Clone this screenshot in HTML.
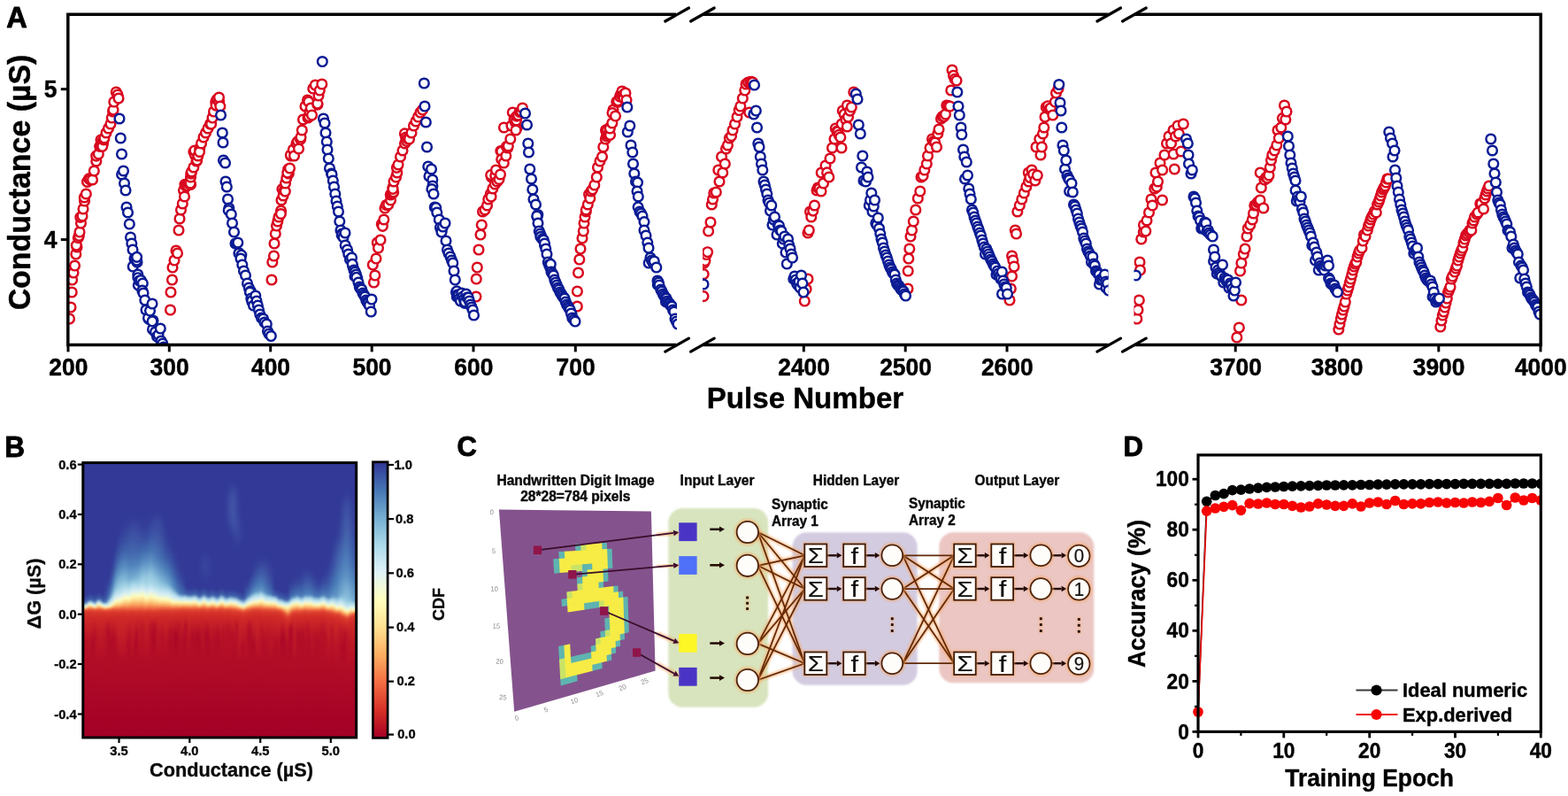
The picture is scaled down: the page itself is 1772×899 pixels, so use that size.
<!DOCTYPE html>
<html lang="en">
<head>
<meta charset="utf-8">
<title>Figure: synaptic conductance and neural network accuracy</title>
<style>
html,body{margin:0;padding:0;background:#fff;}
body{width:1772px;height:899px;overflow:hidden;font-family:"Liberation Sans",Arial,sans-serif;}
svg{display:block;}
</style>
</head>
<body>
<svg width="1772" height="899" viewBox="0 0 1772 899">
<rect width="1772" height="899" fill="#ffffff"/>
<g id="panel-a">
<defs><clipPath id="ca1"><rect x="75" y="10" width="690" height="380.5"/></clipPath><clipPath id="ca2"><rect x="794" y="10" width="458.5" height="380.5"/></clipPath><clipPath id="ca3"><rect x="1281.5" y="10" width="461" height="380.5"/></clipPath></defs>
<g clip-path="url(#ca1)" fill="#fff" stroke-width="2.45">
<g stroke="#d9081f">
<circle cx="78.5" cy="360.0" r="5.35"/>
<circle cx="80.0" cy="347.0" r="5.35"/>
<circle cx="81.2" cy="330.0" r="5.35"/>
<circle cx="81.6" cy="316.0" r="5.35"/>
<circle cx="83.0" cy="308.0" r="5.35"/>
<circle cx="84.5" cy="300.0" r="5.35"/>
<circle cx="85.8" cy="287.0" r="5.35"/>
<circle cx="87.0" cy="279.0" r="5.35"/>
<circle cx="86.3" cy="277.1" r="5.35"/>
<circle cx="88.4" cy="268.7" r="5.35"/>
<circle cx="89.3" cy="266.3" r="5.35"/>
<circle cx="90.0" cy="262.0" r="5.35"/>
<circle cx="91.5" cy="252.0" r="5.35"/>
<circle cx="90.8" cy="245.4" r="5.35"/>
<circle cx="93.0" cy="244.0" r="5.35"/>
<circle cx="94.0" cy="236.0" r="5.35"/>
<circle cx="95.5" cy="227.0" r="5.35"/>
<circle cx="95.3" cy="223.0" r="5.35"/>
<circle cx="97.3" cy="219.0" r="5.35"/>
<circle cx="98.8" cy="205.0" r="5.35"/>
<circle cx="98.6" cy="205.4" r="5.35"/>
<circle cx="100.5" cy="201.8" r="5.35"/>
<circle cx="102.0" cy="203.0" r="5.35"/>
<circle cx="104.5" cy="203.0" r="5.35"/>
<circle cx="106.3" cy="193.0" r="5.35"/>
<circle cx="108.8" cy="182.0" r="5.35"/>
<circle cx="108.7" cy="176.1" r="5.35"/>
<circle cx="111.3" cy="174.0" r="5.35"/>
<circle cx="112.7" cy="165.3" r="5.35"/>
<circle cx="114.0" cy="158.0" r="5.35"/>
<circle cx="113.9" cy="163.6" r="5.35"/>
<circle cx="115.3" cy="160.7" r="5.35"/>
<circle cx="116.5" cy="162.0" r="5.35"/>
<circle cx="115.7" cy="165.3" r="5.35"/>
<circle cx="117.2" cy="157.8" r="5.35"/>
<circle cx="117.9" cy="156.0" r="5.35"/>
<circle cx="120.0" cy="150.0" r="5.35"/>
<circle cx="122.5" cy="145.0" r="5.35"/>
<circle cx="125.0" cy="140.0" r="5.35"/>
<circle cx="126.3" cy="133.0" r="5.35"/>
<circle cx="127.6" cy="126.0" r="5.35"/>
<circle cx="128.0" cy="124.2" r="5.35"/>
<circle cx="128.8" cy="115.0" r="5.35"/>
<circle cx="131.3" cy="104.0" r="5.35"/>
<circle cx="133.0" cy="107.0" r="5.35"/>
<circle cx="134.0" cy="111.0" r="5.35"/>
<circle cx="192.5" cy="350.0" r="5.35"/>
<circle cx="193.0" cy="330.0" r="5.35"/>
<circle cx="194.5" cy="316.0" r="5.35"/>
<circle cx="195.0" cy="302.0" r="5.35"/>
<circle cx="197.0" cy="294.0" r="5.35"/>
<circle cx="199.0" cy="283.0" r="5.35"/>
<circle cx="200.5" cy="286.0" r="5.35"/>
<circle cx="202.0" cy="260.0" r="5.35"/>
<circle cx="203.0" cy="247.0" r="5.35"/>
<circle cx="204.5" cy="237.0" r="5.35"/>
<circle cx="206.3" cy="230.0" r="5.35"/>
<circle cx="207.5" cy="215.0" r="5.35"/>
<circle cx="208.5" cy="222.0" r="5.35"/>
<circle cx="208.9" cy="208.3" r="5.35"/>
<circle cx="210.0" cy="210.0" r="5.35"/>
<circle cx="211.8" cy="209.7" r="5.35"/>
<circle cx="213.0" cy="207.0" r="5.35"/>
<circle cx="215.6" cy="208.4" r="5.35"/>
<circle cx="215.1" cy="207.0" r="5.35"/>
<circle cx="215.5" cy="200.0" r="5.35"/>
<circle cx="215.8" cy="196.2" r="5.35"/>
<circle cx="216.5" cy="194.0" r="5.35"/>
<circle cx="218.8" cy="189.0" r="5.35"/>
<circle cx="218.9" cy="171.5" r="5.35"/>
<circle cx="220.5" cy="175.3" r="5.35"/>
<circle cx="220.0" cy="170.0" r="5.35"/>
<circle cx="222.0" cy="182.0" r="5.35"/>
<circle cx="222.6" cy="181.2" r="5.35"/>
<circle cx="223.8" cy="176.0" r="5.35"/>
<circle cx="225.7" cy="167.6" r="5.35"/>
<circle cx="225.5" cy="171.5" r="5.35"/>
<circle cx="227.5" cy="162.0" r="5.35"/>
<circle cx="230.0" cy="155.0" r="5.35"/>
<circle cx="232.5" cy="150.0" r="5.35"/>
<circle cx="235.0" cy="145.0" r="5.35"/>
<circle cx="237.5" cy="140.0" r="5.35"/>
<circle cx="238.6" cy="140.2" r="5.35"/>
<circle cx="240.0" cy="133.0" r="5.35"/>
<circle cx="241.5" cy="126.0" r="5.35"/>
<circle cx="243.8" cy="115.0" r="5.35"/>
<circle cx="244.1" cy="119.2" r="5.35"/>
<circle cx="245.3" cy="112.1" r="5.35"/>
<circle cx="247.6" cy="115.2" r="5.35"/>
<circle cx="247.5" cy="110.0" r="5.35"/>
<circle cx="248.8" cy="120.0" r="5.35"/>
<circle cx="307.0" cy="316.0" r="5.35"/>
<circle cx="307.8" cy="296.0" r="5.35"/>
<circle cx="309.5" cy="289.0" r="5.35"/>
<circle cx="310.0" cy="275.0" r="5.35"/>
<circle cx="311.3" cy="264.0" r="5.35"/>
<circle cx="312.5" cy="255.0" r="5.35"/>
<circle cx="313.8" cy="250.0" r="5.35"/>
<circle cx="315.0" cy="245.0" r="5.35"/>
<circle cx="317.5" cy="238.0" r="5.35"/>
<circle cx="317.4" cy="241.5" r="5.35"/>
<circle cx="318.0" cy="226.0" r="5.35"/>
<circle cx="320.0" cy="221.0" r="5.35"/>
<circle cx="318.9" cy="213.6" r="5.35"/>
<circle cx="321.3" cy="215.0" r="5.35"/>
<circle cx="322.3" cy="216.1" r="5.35"/>
<circle cx="322.5" cy="207.0" r="5.35"/>
<circle cx="323.8" cy="201.0" r="5.35"/>
<circle cx="326.3" cy="196.0" r="5.35"/>
<circle cx="325.7" cy="191.2" r="5.35"/>
<circle cx="324.8" cy="195.2" r="5.35"/>
<circle cx="327.5" cy="190.0" r="5.35"/>
<circle cx="328.8" cy="176.0" r="5.35"/>
<circle cx="328.4" cy="175.0" r="5.35"/>
<circle cx="331.3" cy="169.0" r="5.35"/>
<circle cx="332.5" cy="176.0" r="5.35"/>
<circle cx="335.0" cy="162.0" r="5.35"/>
<circle cx="336.4" cy="159.6" r="5.35"/>
<circle cx="337.5" cy="168.0" r="5.35"/>
<circle cx="339.6" cy="157.4" r="5.35"/>
<circle cx="340.0" cy="155.0" r="5.35"/>
<circle cx="341.3" cy="147.0" r="5.35"/>
<circle cx="342.5" cy="135.0" r="5.35"/>
<circle cx="345.0" cy="120.0" r="5.35"/>
<circle cx="347.5" cy="113.0" r="5.35"/>
<circle cx="348.7" cy="114.9" r="5.35"/>
<circle cx="348.0" cy="133.0" r="5.35"/>
<circle cx="349.1" cy="131.5" r="5.35"/>
<circle cx="349.9" cy="126.3" r="5.35"/>
<circle cx="351.3" cy="122.0" r="5.35"/>
<circle cx="352.5" cy="130.0" r="5.35"/>
<circle cx="353.8" cy="100.0" r="5.35"/>
<circle cx="356.3" cy="96.0" r="5.35"/>
<circle cx="358.9" cy="118.2" r="5.35"/>
<circle cx="358.8" cy="117.0" r="5.35"/>
<circle cx="360.0" cy="108.0" r="5.35"/>
<circle cx="361.3" cy="102.0" r="5.35"/>
<circle cx="363.8" cy="95.0" r="5.35"/>
<circle cx="421.3" cy="299.0" r="5.35"/>
<circle cx="422.5" cy="319.0" r="5.35"/>
<circle cx="423.8" cy="311.0" r="5.35"/>
<circle cx="425.0" cy="292.0" r="5.35"/>
<circle cx="426.3" cy="274.0" r="5.35"/>
<circle cx="427.5" cy="280.0" r="5.35"/>
<circle cx="430.0" cy="271.0" r="5.35"/>
<circle cx="431.3" cy="253.0" r="5.35"/>
<circle cx="432.4" cy="255.3" r="5.35"/>
<circle cx="433.8" cy="248.0" r="5.35"/>
<circle cx="435.0" cy="235.0" r="5.35"/>
<circle cx="436.6" cy="231.5" r="5.35"/>
<circle cx="438.8" cy="231.0" r="5.35"/>
<circle cx="441.5" cy="226.0" r="5.35"/>
<circle cx="441.3" cy="220.0" r="5.35"/>
<circle cx="442.1" cy="219.1" r="5.35"/>
<circle cx="443.9" cy="218.2" r="5.35"/>
<circle cx="444.6" cy="216.9" r="5.35"/>
<circle cx="443.8" cy="212.0" r="5.35"/>
<circle cx="444.0" cy="213.3" r="5.35"/>
<circle cx="445.0" cy="205.0" r="5.35"/>
<circle cx="447.5" cy="200.0" r="5.35"/>
<circle cx="448.8" cy="195.0" r="5.35"/>
<circle cx="448.4" cy="189.3" r="5.35"/>
<circle cx="450.0" cy="186.0" r="5.35"/>
<circle cx="452.5" cy="177.0" r="5.35"/>
<circle cx="455.0" cy="170.0" r="5.35"/>
<circle cx="457.5" cy="162.0" r="5.35"/>
<circle cx="458.7" cy="154.6" r="5.35"/>
<circle cx="457.4" cy="150.9" r="5.35"/>
<circle cx="458.8" cy="155.0" r="5.35"/>
<circle cx="460.7" cy="157.9" r="5.35"/>
<circle cx="459.4" cy="159.3" r="5.35"/>
<circle cx="460.6" cy="156.7" r="5.35"/>
<circle cx="462.5" cy="157.0" r="5.35"/>
<circle cx="465.0" cy="150.0" r="5.35"/>
<circle cx="467.5" cy="142.0" r="5.35"/>
<circle cx="470.0" cy="137.0" r="5.35"/>
<circle cx="472.5" cy="132.0" r="5.35"/>
<circle cx="475.0" cy="127.0" r="5.35"/>
<circle cx="477.5" cy="124.0" r="5.35"/>
<circle cx="538.0" cy="335.0" r="5.35"/>
<circle cx="538.3" cy="315.0" r="5.35"/>
<circle cx="539.3" cy="302.0" r="5.35"/>
<circle cx="541.0" cy="282.0" r="5.35"/>
<circle cx="543.0" cy="265.0" r="5.35"/>
<circle cx="544.3" cy="254.0" r="5.35"/>
<circle cx="545.5" cy="239.0" r="5.35"/>
<circle cx="548.0" cy="237.0" r="5.35"/>
<circle cx="550.5" cy="232.0" r="5.35"/>
<circle cx="551.8" cy="225.0" r="5.35"/>
<circle cx="554.3" cy="219.0" r="5.35"/>
<circle cx="555.0" cy="222.2" r="5.35"/>
<circle cx="555.5" cy="200.0" r="5.35"/>
<circle cx="554.7" cy="197.7" r="5.35"/>
<circle cx="556.8" cy="213.0" r="5.35"/>
<circle cx="559.3" cy="208.0" r="5.35"/>
<circle cx="559.8" cy="198.5" r="5.35"/>
<circle cx="560.5" cy="192.0" r="5.35"/>
<circle cx="561.8" cy="205.0" r="5.35"/>
<circle cx="564.0" cy="202.5" r="5.35"/>
<circle cx="565.5" cy="197.0" r="5.35"/>
<circle cx="565.9" cy="170.5" r="5.35"/>
<circle cx="566.8" cy="171.0" r="5.35"/>
<circle cx="566.7" cy="179.9" r="5.35"/>
<circle cx="569.3" cy="184.0" r="5.35"/>
<circle cx="569.5" cy="144.0" r="5.35"/>
<circle cx="572.3" cy="165.6" r="5.35"/>
<circle cx="571.8" cy="176.0" r="5.35"/>
<circle cx="573.6" cy="167.0" r="5.35"/>
<circle cx="574.3" cy="165.0" r="5.35"/>
<circle cx="576.8" cy="157.0" r="5.35"/>
<circle cx="578.0" cy="142.0" r="5.35"/>
<circle cx="579.3" cy="127.0" r="5.35"/>
<circle cx="581.3" cy="133.8" r="5.35"/>
<circle cx="581.1" cy="135.4" r="5.35"/>
<circle cx="582.5" cy="138.3" r="5.35"/>
<circle cx="584.1" cy="144.8" r="5.35"/>
<circle cx="583.0" cy="147.0" r="5.35"/>
<circle cx="583.5" cy="136.0" r="5.35"/>
<circle cx="584.0" cy="131.2" r="5.35"/>
<circle cx="585.5" cy="130.0" r="5.35"/>
<circle cx="587.3" cy="126.5" r="5.35"/>
<circle cx="589.1" cy="125.8" r="5.35"/>
<circle cx="590.5" cy="122.0" r="5.35"/>
<circle cx="652.3" cy="346.0" r="5.35"/>
<circle cx="652.4" cy="329.0" r="5.35"/>
<circle cx="653.5" cy="308.0" r="5.35"/>
<circle cx="654.8" cy="293.0" r="5.35"/>
<circle cx="656.0" cy="281.0" r="5.35"/>
<circle cx="658.0" cy="269.0" r="5.35"/>
<circle cx="659.3" cy="261.0" r="5.35"/>
<circle cx="660.0" cy="252.0" r="5.35"/>
<circle cx="661.0" cy="245.0" r="5.35"/>
<circle cx="662.2" cy="238.9" r="5.35"/>
<circle cx="662.3" cy="237.0" r="5.35"/>
<circle cx="664.3" cy="231.0" r="5.35"/>
<circle cx="665.6" cy="219.5" r="5.35"/>
<circle cx="666.8" cy="224.0" r="5.35"/>
<circle cx="668.0" cy="216.0" r="5.35"/>
<circle cx="669.6" cy="213.8" r="5.35"/>
<circle cx="671.8" cy="209.0" r="5.35"/>
<circle cx="674.3" cy="200.0" r="5.35"/>
<circle cx="675.5" cy="189.0" r="5.35"/>
<circle cx="678.0" cy="182.0" r="5.35"/>
<circle cx="680.5" cy="177.0" r="5.35"/>
<circle cx="681.8" cy="166.0" r="5.35"/>
<circle cx="684.3" cy="157.0" r="5.35"/>
<circle cx="684.5" cy="147.0" r="5.35"/>
<circle cx="685.5" cy="153.8" r="5.35"/>
<circle cx="686.0" cy="151.5" r="5.35"/>
<circle cx="685.9" cy="146.6" r="5.35"/>
<circle cx="688.0" cy="151.0" r="5.35"/>
<circle cx="689.5" cy="152.4" r="5.35"/>
<circle cx="688.7" cy="144.3" r="5.35"/>
<circle cx="689.3" cy="145.0" r="5.35"/>
<circle cx="691.8" cy="139.0" r="5.35"/>
<circle cx="693.0" cy="124.0" r="5.35"/>
<circle cx="692.0" cy="127.6" r="5.35"/>
<circle cx="695.5" cy="131.0" r="5.35"/>
<circle cx="696.8" cy="115.0" r="5.35"/>
<circle cx="698.5" cy="115.1" r="5.35"/>
<circle cx="698.4" cy="113.9" r="5.35"/>
<circle cx="700.5" cy="109.0" r="5.35"/>
<circle cx="701.7" cy="106.5" r="5.35"/>
<circle cx="703.0" cy="103.0" r="5.35"/>
<circle cx="703.7" cy="108.4" r="5.35"/>
<circle cx="705.1" cy="106.2" r="5.35"/>
<circle cx="704.9" cy="111.0" r="5.35"/>
<circle cx="706.7" cy="105.5" r="5.35"/>
<circle cx="706.8" cy="105.0" r="5.35"/>
<circle cx="708.0" cy="113.0" r="5.35"/>
</g>
<g stroke="#0c1c94">
<circle cx="135.0" cy="134.0" r="5.35"/>
<circle cx="136.3" cy="156.0" r="5.35"/>
<circle cx="137.5" cy="174.0" r="5.35"/>
<circle cx="137.6" cy="197.0" r="5.35"/>
<circle cx="139.5" cy="193.0" r="5.35"/>
<circle cx="140.5" cy="207.0" r="5.35"/>
<circle cx="142.0" cy="215.0" r="5.35"/>
<circle cx="143.0" cy="234.0" r="5.35"/>
<circle cx="144.5" cy="240.0" r="5.35"/>
<circle cx="146.3" cy="253.0" r="5.35"/>
<circle cx="147.5" cy="268.0" r="5.35"/>
<circle cx="148.8" cy="275.0" r="5.35"/>
<circle cx="150.0" cy="282.0" r="5.35"/>
<circle cx="150.2" cy="301.0" r="5.35"/>
<circle cx="152.0" cy="292.0" r="5.35"/>
<circle cx="153.6" cy="292.6" r="5.35"/>
<circle cx="155.0" cy="296.0" r="5.35"/>
<circle cx="154.5" cy="294.0" r="5.35"/>
<circle cx="154.6" cy="290.3" r="5.35"/>
<circle cx="155.8" cy="310.0" r="5.35"/>
<circle cx="155.9" cy="313.7" r="5.35"/>
<circle cx="156.3" cy="322.0" r="5.35"/>
<circle cx="157.5" cy="317.0" r="5.35"/>
<circle cx="159.2" cy="316.5" r="5.35"/>
<circle cx="161.3" cy="320.0" r="5.35"/>
<circle cx="160.8" cy="328.1" r="5.35"/>
<circle cx="162.0" cy="331.0" r="5.35"/>
<circle cx="163.8" cy="339.0" r="5.35"/>
<circle cx="165.0" cy="350.0" r="5.35"/>
<circle cx="168.2" cy="360.3" r="5.35"/>
<circle cx="167.5" cy="359.0" r="5.35"/>
<circle cx="169.5" cy="351.0" r="5.35"/>
<circle cx="172.0" cy="343.0" r="5.35"/>
<circle cx="172.5" cy="372.0" r="5.35"/>
<circle cx="173.0" cy="362.0" r="5.35"/>
<circle cx="172.0" cy="362.9" r="5.35"/>
<circle cx="175.5" cy="375.0" r="5.35"/>
<circle cx="177.5" cy="380.0" r="5.35"/>
<circle cx="179.0" cy="378.1" r="5.35"/>
<circle cx="181.3" cy="371.0" r="5.35"/>
<circle cx="182.0" cy="385.0" r="5.35"/>
<circle cx="183.8" cy="388.0" r="5.35"/>
<circle cx="185.0" cy="392.0" r="5.35"/>
<circle cx="249.5" cy="130.0" r="5.35"/>
<circle cx="251.3" cy="150.0" r="5.35"/>
<circle cx="252.0" cy="161.0" r="5.35"/>
<circle cx="252.5" cy="181.0" r="5.35"/>
<circle cx="254.5" cy="184.0" r="5.35"/>
<circle cx="255.0" cy="205.0" r="5.35"/>
<circle cx="256.3" cy="211.0" r="5.35"/>
<circle cx="257.5" cy="225.0" r="5.35"/>
<circle cx="258.8" cy="235.0" r="5.35"/>
<circle cx="258.2" cy="237.7" r="5.35"/>
<circle cx="261.3" cy="242.0" r="5.35"/>
<circle cx="262.5" cy="252.0" r="5.35"/>
<circle cx="264.5" cy="262.0" r="5.35"/>
<circle cx="266.0" cy="275.0" r="5.35"/>
<circle cx="267.8" cy="274.6" r="5.35"/>
<circle cx="268.8" cy="274.0" r="5.35"/>
<circle cx="270.2" cy="285.8" r="5.35"/>
<circle cx="270.0" cy="286.0" r="5.35"/>
<circle cx="272.8" cy="288.1" r="5.35"/>
<circle cx="272.0" cy="292.0" r="5.35"/>
<circle cx="273.8" cy="299.0" r="5.35"/>
<circle cx="275.5" cy="306.0" r="5.35"/>
<circle cx="277.5" cy="311.0" r="5.35"/>
<circle cx="279.5" cy="320.0" r="5.35"/>
<circle cx="282.3" cy="329.3" r="5.35"/>
<circle cx="281.3" cy="325.0" r="5.35"/>
<circle cx="283.3" cy="328.7" r="5.35"/>
<circle cx="282.5" cy="330.0" r="5.35"/>
<circle cx="283.8" cy="337.0" r="5.35"/>
<circle cx="285.0" cy="341.0" r="5.35"/>
<circle cx="284.7" cy="339.7" r="5.35"/>
<circle cx="286.5" cy="345.0" r="5.35"/>
<circle cx="288.8" cy="334.0" r="5.35"/>
<circle cx="290.0" cy="340.0" r="5.35"/>
<circle cx="291.3" cy="345.0" r="5.35"/>
<circle cx="292.5" cy="350.0" r="5.35"/>
<circle cx="293.8" cy="355.0" r="5.35"/>
<circle cx="295.5" cy="359.0" r="5.35"/>
<circle cx="297.5" cy="360.0" r="5.35"/>
<circle cx="299.0" cy="364.0" r="5.35"/>
<circle cx="301.3" cy="366.0" r="5.35"/>
<circle cx="302.5" cy="374.0" r="5.35"/>
<circle cx="304.0" cy="377.0" r="5.35"/>
<circle cx="306.3" cy="379.5" r="5.35"/>
<circle cx="364.3" cy="69.5" r="5.35"/>
<circle cx="365.5" cy="134.0" r="5.35"/>
<circle cx="367.0" cy="139.0" r="5.35"/>
<circle cx="368.0" cy="150.0" r="5.35"/>
<circle cx="369.3" cy="160.0" r="5.35"/>
<circle cx="370.0" cy="169.0" r="5.35"/>
<circle cx="371.3" cy="179.0" r="5.35"/>
<circle cx="372.5" cy="190.0" r="5.35"/>
<circle cx="374.6" cy="196.0" r="5.35"/>
<circle cx="375.0" cy="197.0" r="5.35"/>
<circle cx="376.3" cy="204.0" r="5.35"/>
<circle cx="377.5" cy="211.0" r="5.35"/>
<circle cx="378.8" cy="219.0" r="5.35"/>
<circle cx="380.0" cy="227.0" r="5.35"/>
<circle cx="381.3" cy="233.0" r="5.35"/>
<circle cx="382.5" cy="239.0" r="5.35"/>
<circle cx="383.8" cy="250.0" r="5.35"/>
<circle cx="385.0" cy="260.0" r="5.35"/>
<circle cx="386.5" cy="264.0" r="5.35"/>
<circle cx="386.2" cy="265.7" r="5.35"/>
<circle cx="388.0" cy="268.0" r="5.35"/>
<circle cx="390.0" cy="263.0" r="5.35"/>
<circle cx="390.2" cy="277.0" r="5.35"/>
<circle cx="392.5" cy="282.0" r="5.35"/>
<circle cx="393.8" cy="287.0" r="5.35"/>
<circle cx="395.5" cy="293.0" r="5.35"/>
<circle cx="397.5" cy="291.0" r="5.35"/>
<circle cx="398.8" cy="301.0" r="5.35"/>
<circle cx="398.2" cy="298.3" r="5.35"/>
<circle cx="400.0" cy="305.0" r="5.35"/>
<circle cx="401.3" cy="307.0" r="5.35"/>
<circle cx="401.0" cy="311.9" r="5.35"/>
<circle cx="402.5" cy="310.0" r="5.35"/>
<circle cx="403.8" cy="314.0" r="5.35"/>
<circle cx="402.8" cy="313.4" r="5.35"/>
<circle cx="405.0" cy="319.0" r="5.35"/>
<circle cx="406.3" cy="324.0" r="5.35"/>
<circle cx="407.5" cy="326.0" r="5.35"/>
<circle cx="408.8" cy="327.0" r="5.35"/>
<circle cx="410.0" cy="331.0" r="5.35"/>
<circle cx="411.3" cy="333.0" r="5.35"/>
<circle cx="412.5" cy="335.0" r="5.35"/>
<circle cx="413.8" cy="339.0" r="5.35"/>
<circle cx="415.0" cy="341.0" r="5.35"/>
<circle cx="416.3" cy="343.0" r="5.35"/>
<circle cx="416.3" cy="342.4" r="5.35"/>
<circle cx="417.5" cy="345.0" r="5.35"/>
<circle cx="419.3" cy="352.0" r="5.35"/>
<circle cx="420.0" cy="338.0" r="5.35"/>
<circle cx="479.3" cy="94.0" r="5.35"/>
<circle cx="480.0" cy="120.0" r="5.35"/>
<circle cx="481.3" cy="138.0" r="5.35"/>
<circle cx="482.5" cy="166.0" r="5.35"/>
<circle cx="483.8" cy="188.0" r="5.35"/>
<circle cx="485.0" cy="199.0" r="5.35"/>
<circle cx="487.5" cy="191.0" r="5.35"/>
<circle cx="488.8" cy="203.0" r="5.35"/>
<circle cx="488.9" cy="210.0" r="5.35"/>
<circle cx="487.9" cy="213.7" r="5.35"/>
<circle cx="490.0" cy="219.0" r="5.35"/>
<circle cx="491.3" cy="234.0" r="5.35"/>
<circle cx="492.7" cy="234.6" r="5.35"/>
<circle cx="493.8" cy="240.0" r="5.35"/>
<circle cx="496.3" cy="248.0" r="5.35"/>
<circle cx="497.5" cy="257.0" r="5.35"/>
<circle cx="499.1" cy="260.2" r="5.35"/>
<circle cx="499.0" cy="262.0" r="5.35"/>
<circle cx="500.5" cy="256.0" r="5.35"/>
<circle cx="503.0" cy="252.0" r="5.35"/>
<circle cx="504.0" cy="272.0" r="5.35"/>
<circle cx="505.5" cy="282.0" r="5.35"/>
<circle cx="507.0" cy="286.0" r="5.35"/>
<circle cx="509.0" cy="290.0" r="5.35"/>
<circle cx="510.5" cy="294.0" r="5.35"/>
<circle cx="511.8" cy="297.0" r="5.35"/>
<circle cx="513.0" cy="306.0" r="5.35"/>
<circle cx="514.3" cy="316.0" r="5.35"/>
<circle cx="515.5" cy="330.0" r="5.35"/>
<circle cx="516.2" cy="328.8" r="5.35"/>
<circle cx="516.8" cy="333.0" r="5.35"/>
<circle cx="516.3" cy="335.0" r="5.35"/>
<circle cx="518.0" cy="334.0" r="5.35"/>
<circle cx="519.3" cy="337.0" r="5.35"/>
<circle cx="520.5" cy="340.0" r="5.35"/>
<circle cx="521.8" cy="331.0" r="5.35"/>
<circle cx="523.0" cy="335.0" r="5.35"/>
<circle cx="524.3" cy="338.0" r="5.35"/>
<circle cx="525.2" cy="342.3" r="5.35"/>
<circle cx="525.5" cy="341.0" r="5.35"/>
<circle cx="526.8" cy="332.0" r="5.35"/>
<circle cx="528.0" cy="336.0" r="5.35"/>
<circle cx="529.3" cy="336.0" r="5.35"/>
<circle cx="530.5" cy="340.0" r="5.35"/>
<circle cx="531.8" cy="344.0" r="5.35"/>
<circle cx="533.0" cy="347.0" r="5.35"/>
<circle cx="534.3" cy="350.0" r="5.35"/>
<circle cx="535.5" cy="356.0" r="5.35"/>
<circle cx="593.5" cy="128.0" r="5.35"/>
<circle cx="595.5" cy="141.0" r="5.35"/>
<circle cx="596.8" cy="162.0" r="5.35"/>
<circle cx="597.5" cy="172.0" r="5.35"/>
<circle cx="598.8" cy="191.0" r="5.35"/>
<circle cx="600.5" cy="202.0" r="5.35"/>
<circle cx="601.8" cy="214.0" r="5.35"/>
<circle cx="603.0" cy="225.0" r="5.35"/>
<circle cx="605.5" cy="231.0" r="5.35"/>
<circle cx="607.8" cy="242.5" r="5.35"/>
<circle cx="607.1" cy="245.1" r="5.35"/>
<circle cx="606.8" cy="244.0" r="5.35"/>
<circle cx="608.0" cy="252.0" r="5.35"/>
<circle cx="609.3" cy="261.0" r="5.35"/>
<circle cx="610.5" cy="264.0" r="5.35"/>
<circle cx="611.8" cy="267.0" r="5.35"/>
<circle cx="610.9" cy="267.7" r="5.35"/>
<circle cx="613.0" cy="270.0" r="5.35"/>
<circle cx="614.3" cy="271.0" r="5.35"/>
<circle cx="615.6" cy="276.9" r="5.35"/>
<circle cx="615.5" cy="275.0" r="5.35"/>
<circle cx="616.8" cy="281.0" r="5.35"/>
<circle cx="618.0" cy="287.0" r="5.35"/>
<circle cx="619.3" cy="296.0" r="5.35"/>
<circle cx="620.5" cy="299.0" r="5.35"/>
<circle cx="621.8" cy="302.0" r="5.35"/>
<circle cx="622.3" cy="298.3" r="5.35"/>
<circle cx="623.0" cy="307.0" r="5.35"/>
<circle cx="624.3" cy="309.0" r="5.35"/>
<circle cx="625.5" cy="311.0" r="5.35"/>
<circle cx="626.8" cy="316.0" r="5.35"/>
<circle cx="628.0" cy="319.0" r="5.35"/>
<circle cx="629.3" cy="322.0" r="5.35"/>
<circle cx="630.5" cy="325.0" r="5.35"/>
<circle cx="631.8" cy="327.0" r="5.35"/>
<circle cx="633.0" cy="330.0" r="5.35"/>
<circle cx="634.3" cy="332.0" r="5.35"/>
<circle cx="635.5" cy="334.0" r="5.35"/>
<circle cx="636.8" cy="336.0" r="5.35"/>
<circle cx="638.0" cy="337.0" r="5.35"/>
<circle cx="639.3" cy="341.0" r="5.35"/>
<circle cx="640.5" cy="344.0" r="5.35"/>
<circle cx="642.0" cy="346.0" r="5.35"/>
<circle cx="643.0" cy="348.0" r="5.35"/>
<circle cx="644.3" cy="350.0" r="5.35"/>
<circle cx="646.0" cy="354.6" r="5.35"/>
<circle cx="645.5" cy="354.0" r="5.35"/>
<circle cx="646.8" cy="359.0" r="5.35"/>
<circle cx="648.5" cy="361.0" r="5.35"/>
<circle cx="650.0" cy="363.0" r="5.35"/>
<circle cx="708.8" cy="121.0" r="5.35"/>
<circle cx="709.3" cy="149.0" r="5.35"/>
<circle cx="711.8" cy="142.0" r="5.35"/>
<circle cx="713.0" cy="164.0" r="5.35"/>
<circle cx="714.8" cy="172.0" r="5.35"/>
<circle cx="715.5" cy="185.0" r="5.35"/>
<circle cx="716.8" cy="196.0" r="5.35"/>
<circle cx="718.5" cy="205.0" r="5.35"/>
<circle cx="720.5" cy="206.2" r="5.35"/>
<circle cx="720.0" cy="216.0" r="5.35"/>
<circle cx="721.3" cy="222.0" r="5.35"/>
<circle cx="721.1" cy="233.8" r="5.35"/>
<circle cx="723.0" cy="239.0" r="5.35"/>
<circle cx="724.5" cy="241.0" r="5.35"/>
<circle cx="726.0" cy="244.0" r="5.35"/>
<circle cx="728.0" cy="250.6" r="5.35"/>
<circle cx="728.0" cy="260.0" r="5.35"/>
<circle cx="730.0" cy="266.0" r="5.35"/>
<circle cx="731.8" cy="274.0" r="5.35"/>
<circle cx="733.0" cy="280.0" r="5.35"/>
<circle cx="733.2" cy="297.0" r="5.35"/>
<circle cx="735.0" cy="291.0" r="5.35"/>
<circle cx="736.5" cy="294.0" r="5.35"/>
<circle cx="738.0" cy="296.0" r="5.35"/>
<circle cx="738.2" cy="297.1" r="5.35"/>
<circle cx="739.3" cy="295.0" r="5.35"/>
<circle cx="741.8" cy="302.0" r="5.35"/>
<circle cx="743.0" cy="317.0" r="5.35"/>
<circle cx="743.3" cy="321.7" r="5.35"/>
<circle cx="744.3" cy="319.0" r="5.35"/>
<circle cx="745.0" cy="322.0" r="5.35"/>
<circle cx="746.8" cy="327.0" r="5.35"/>
<circle cx="748.0" cy="329.0" r="5.35"/>
<circle cx="749.3" cy="332.0" r="5.35"/>
<circle cx="750.5" cy="334.0" r="5.35"/>
<circle cx="751.8" cy="336.0" r="5.35"/>
<circle cx="753.0" cy="337.0" r="5.35"/>
<circle cx="752.5" cy="340.9" r="5.35"/>
<circle cx="754.3" cy="340.0" r="5.35"/>
<circle cx="755.5" cy="342.0" r="5.35"/>
<circle cx="756.8" cy="343.0" r="5.35"/>
<circle cx="758.0" cy="345.0" r="5.35"/>
<circle cx="759.3" cy="346.0" r="5.35"/>
<circle cx="760.5" cy="350.0" r="5.35"/>
<circle cx="761.8" cy="352.0" r="5.35"/>
<circle cx="763.0" cy="360.0" r="5.35"/>
<circle cx="764.5" cy="363.0" r="5.35"/>
<circle cx="766.0" cy="366.0" r="5.35"/>
</g>
</g>
<g clip-path="url(#ca2)" fill="#fff" stroke-width="2.45">
<g stroke="#d9081f">
<circle cx="795.0" cy="334.6" r="5.35"/>
<circle cx="795.2" cy="309.6" r="5.35"/>
<circle cx="795.6" cy="297.0" r="5.35"/>
<circle cx="796.9" cy="294.5" r="5.35"/>
<circle cx="798.3" cy="287.5" r="5.35"/>
<circle cx="799.6" cy="284.7" r="5.35"/>
<circle cx="800.6" cy="261.0" r="5.35"/>
<circle cx="803.0" cy="251.0" r="5.35"/>
<circle cx="804.3" cy="231.0" r="5.35"/>
<circle cx="805.5" cy="225.0" r="5.35"/>
<circle cx="806.8" cy="218.0" r="5.35"/>
<circle cx="809.3" cy="217.0" r="5.35"/>
<circle cx="811.8" cy="192.0" r="5.35"/>
<circle cx="813.0" cy="205.0" r="5.35"/>
<circle cx="815.5" cy="177.0" r="5.35"/>
<circle cx="816.7" cy="195.0" r="5.35"/>
<circle cx="819.3" cy="185.0" r="5.35"/>
<circle cx="820.5" cy="168.0" r="5.35"/>
<circle cx="822.4" cy="164.0" r="5.35"/>
<circle cx="824.3" cy="156.0" r="5.35"/>
<circle cx="826.5" cy="153.7" r="5.35"/>
<circle cx="828.0" cy="147.0" r="5.35"/>
<circle cx="830.5" cy="140.0" r="5.35"/>
<circle cx="833.0" cy="132.0" r="5.35"/>
<circle cx="835.2" cy="124.5" r="5.35"/>
<circle cx="836.8" cy="120.0" r="5.35"/>
<circle cx="839.3" cy="111.0" r="5.35"/>
<circle cx="841.8" cy="102.0" r="5.35"/>
<circle cx="843.0" cy="95.0" r="5.35"/>
<circle cx="845.5" cy="93.0" r="5.35"/>
<circle cx="846.8" cy="127.0" r="5.35"/>
<circle cx="848.0" cy="92.5" r="5.35"/>
<circle cx="849.3" cy="92.3" r="5.35"/>
<circle cx="850.6" cy="93.0" r="5.35"/>
<circle cx="909.3" cy="340.0" r="5.35"/>
<circle cx="911.1" cy="326.5" r="5.35"/>
<circle cx="913.0" cy="315.0" r="5.35"/>
<circle cx="913.0" cy="263.0" r="5.35"/>
<circle cx="914.3" cy="260.0" r="5.35"/>
<circle cx="915.5" cy="239.0" r="5.35"/>
<circle cx="916.8" cy="245.0" r="5.35"/>
<circle cx="918.8" cy="238.1" r="5.35"/>
<circle cx="920.5" cy="232.0" r="5.35"/>
<circle cx="923.0" cy="215.0" r="5.35"/>
<circle cx="924.3" cy="212.0" r="5.35"/>
<circle cx="925.9" cy="213.0" r="5.35"/>
<circle cx="928.0" cy="216.0" r="5.35"/>
<circle cx="928.2" cy="195.0" r="5.35"/>
<circle cx="930.5" cy="207.0" r="5.35"/>
<circle cx="933.0" cy="187.0" r="5.35"/>
<circle cx="934.6" cy="194.9" r="5.35"/>
<circle cx="936.8" cy="200.0" r="5.35"/>
<circle cx="938.0" cy="179.0" r="5.35"/>
<circle cx="940.5" cy="167.0" r="5.35"/>
<circle cx="943.0" cy="157.0" r="5.35"/>
<circle cx="944.3" cy="145.0" r="5.35"/>
<circle cx="946.0" cy="148.2" r="5.35"/>
<circle cx="946.9" cy="148.7" r="5.35"/>
<circle cx="948.1" cy="152.3" r="5.35"/>
<circle cx="949.8" cy="155.0" r="5.35"/>
<circle cx="951.0" cy="167.0" r="5.35"/>
<circle cx="951.2" cy="140.0" r="5.35"/>
<circle cx="952.3" cy="125.0" r="5.35"/>
<circle cx="954.2" cy="128.9" r="5.35"/>
<circle cx="955.9" cy="135.2" r="5.35"/>
<circle cx="957.3" cy="143.0" r="5.35"/>
<circle cx="957.4" cy="119.0" r="5.35"/>
<circle cx="958.5" cy="132.0" r="5.35"/>
<circle cx="960.5" cy="125.1" r="5.35"/>
<circle cx="962.3" cy="121.0" r="5.35"/>
<circle cx="964.8" cy="104.0" r="5.35"/>
<circle cx="1026.0" cy="326.0" r="5.35"/>
<circle cx="1026.2" cy="306.0" r="5.35"/>
<circle cx="1026.8" cy="292.0" r="5.35"/>
<circle cx="1027.8" cy="281.0" r="5.35"/>
<circle cx="1029.0" cy="267.0" r="5.35"/>
<circle cx="1030.5" cy="260.0" r="5.35"/>
<circle cx="1032.3" cy="250.0" r="5.35"/>
<circle cx="1034.8" cy="237.0" r="5.35"/>
<circle cx="1037.3" cy="224.0" r="5.35"/>
<circle cx="1039.8" cy="216.0" r="5.35"/>
<circle cx="1041.0" cy="200.0" r="5.35"/>
<circle cx="1043.1" cy="198.6" r="5.35"/>
<circle cx="1044.8" cy="192.0" r="5.35"/>
<circle cx="1047.3" cy="185.0" r="5.35"/>
<circle cx="1048.5" cy="176.0" r="5.35"/>
<circle cx="1051.0" cy="167.0" r="5.35"/>
<circle cx="1053.5" cy="157.0" r="5.35"/>
<circle cx="1055.1" cy="159.6" r="5.35"/>
<circle cx="1056.7" cy="160.9" r="5.35"/>
<circle cx="1058.5" cy="166.0" r="5.35"/>
<circle cx="1059.8" cy="151.0" r="5.35"/>
<circle cx="1061.0" cy="146.0" r="5.35"/>
<circle cx="1063.5" cy="134.0" r="5.35"/>
<circle cx="1065.1" cy="131.5" r="5.35"/>
<circle cx="1066.8" cy="131.7" r="5.35"/>
<circle cx="1068.5" cy="129.0" r="5.35"/>
<circle cx="1069.8" cy="119.0" r="5.35"/>
<circle cx="1071.6" cy="119.6" r="5.35"/>
<circle cx="1073.5" cy="120.0" r="5.35"/>
<circle cx="1074.8" cy="102.0" r="5.35"/>
<circle cx="1076.0" cy="79.0" r="5.35"/>
<circle cx="1077.5" cy="85.4" r="5.35"/>
<circle cx="1079.0" cy="89.2" r="5.35"/>
<circle cx="1081.0" cy="91.0" r="5.35"/>
<circle cx="1141.0" cy="339.0" r="5.35"/>
<circle cx="1142.3" cy="326.0" r="5.35"/>
<circle cx="1143.5" cy="312.0" r="5.35"/>
<circle cx="1143.6" cy="289.0" r="5.35"/>
<circle cx="1144.8" cy="294.0" r="5.35"/>
<circle cx="1146.0" cy="301.0" r="5.35"/>
<circle cx="1147.3" cy="260.0" r="5.35"/>
<circle cx="1148.5" cy="264.0" r="5.35"/>
<circle cx="1149.8" cy="239.0" r="5.35"/>
<circle cx="1152.3" cy="232.0" r="5.35"/>
<circle cx="1154.8" cy="225.0" r="5.35"/>
<circle cx="1157.3" cy="218.0" r="5.35"/>
<circle cx="1159.8" cy="211.0" r="5.35"/>
<circle cx="1162.3" cy="195.0" r="5.35"/>
<circle cx="1162.5" cy="205.0" r="5.35"/>
<circle cx="1164.0" cy="200.5" r="5.35"/>
<circle cx="1166.0" cy="192.0" r="5.35"/>
<circle cx="1167.6" cy="196.8" r="5.35"/>
<circle cx="1169.8" cy="204.0" r="5.35"/>
<circle cx="1171.0" cy="166.0" r="5.35"/>
<circle cx="1172.3" cy="198.0" r="5.35"/>
<circle cx="1174.8" cy="157.0" r="5.35"/>
<circle cx="1176.0" cy="175.0" r="5.35"/>
<circle cx="1177.3" cy="166.0" r="5.35"/>
<circle cx="1178.5" cy="151.0" r="5.35"/>
<circle cx="1179.8" cy="144.0" r="5.35"/>
<circle cx="1181.0" cy="132.0" r="5.35"/>
<circle cx="1182.3" cy="121.0" r="5.35"/>
<circle cx="1184.3" cy="119.7" r="5.35"/>
<circle cx="1185.8" cy="123.3" r="5.35"/>
<circle cx="1187.3" cy="122.0" r="5.35"/>
<circle cx="1189.8" cy="130.0" r="5.35"/>
<circle cx="1192.3" cy="115.0" r="5.35"/>
<circle cx="1193.5" cy="105.0" r="5.35"/>
<circle cx="1196.0" cy="100.0" r="5.35"/>
</g>
<g stroke="#0c1c94">
<circle cx="795.0" cy="321.0" r="5.35"/>
<circle cx="851.8" cy="129.0" r="5.35"/>
<circle cx="852.5" cy="96.0" r="5.35"/>
<circle cx="854.3" cy="125.0" r="5.35"/>
<circle cx="855.5" cy="144.0" r="5.35"/>
<circle cx="856.8" cy="162.0" r="5.35"/>
<circle cx="858.0" cy="166.0" r="5.35"/>
<circle cx="859.3" cy="177.0" r="5.35"/>
<circle cx="860.5" cy="185.0" r="5.35"/>
<circle cx="861.8" cy="192.0" r="5.35"/>
<circle cx="863.0" cy="205.0" r="5.35"/>
<circle cx="864.3" cy="209.0" r="5.35"/>
<circle cx="865.5" cy="214.0" r="5.35"/>
<circle cx="866.8" cy="219.0" r="5.35"/>
<circle cx="868.0" cy="226.0" r="5.35"/>
<circle cx="869.3" cy="229.0" r="5.35"/>
<circle cx="870.5" cy="238.0" r="5.35"/>
<circle cx="871.8" cy="232.0" r="5.35"/>
<circle cx="873.0" cy="254.0" r="5.35"/>
<circle cx="874.3" cy="248.0" r="5.35"/>
<circle cx="875.5" cy="245.0" r="5.35"/>
<circle cx="878.0" cy="265.0" r="5.35"/>
<circle cx="879.3" cy="254.0" r="5.35"/>
<circle cx="880.5" cy="255.0" r="5.35"/>
<circle cx="881.8" cy="260.0" r="5.35"/>
<circle cx="883.0" cy="261.0" r="5.35"/>
<circle cx="884.3" cy="275.0" r="5.35"/>
<circle cx="885.5" cy="270.0" r="5.35"/>
<circle cx="886.8" cy="267.0" r="5.35"/>
<circle cx="888.0" cy="285.0" r="5.35"/>
<circle cx="889.3" cy="298.0" r="5.35"/>
<circle cx="890.5" cy="270.0" r="5.35"/>
<circle cx="891.8" cy="277.0" r="5.35"/>
<circle cx="893.0" cy="281.0" r="5.35"/>
<circle cx="894.3" cy="287.0" r="5.35"/>
<circle cx="895.5" cy="291.0" r="5.35"/>
<circle cx="896.8" cy="315.0" r="5.35"/>
<circle cx="898.0" cy="312.0" r="5.35"/>
<circle cx="899.3" cy="316.0" r="5.35"/>
<circle cx="900.5" cy="320.0" r="5.35"/>
<circle cx="901.8" cy="322.0" r="5.35"/>
<circle cx="903.0" cy="318.0" r="5.35"/>
<circle cx="904.3" cy="325.0" r="5.35"/>
<circle cx="905.5" cy="311.0" r="5.35"/>
<circle cx="906.8" cy="320.0" r="5.35"/>
<circle cx="908.0" cy="330.0" r="5.35"/>
<circle cx="967.3" cy="106.0" r="5.35"/>
<circle cx="969.0" cy="112.0" r="5.35"/>
<circle cx="970.3" cy="141.0" r="5.35"/>
<circle cx="972.3" cy="151.0" r="5.35"/>
<circle cx="973.5" cy="189.0" r="5.35"/>
<circle cx="974.8" cy="176.0" r="5.35"/>
<circle cx="976.0" cy="204.0" r="5.35"/>
<circle cx="978.5" cy="205.0" r="5.35"/>
<circle cx="979.8" cy="194.0" r="5.35"/>
<circle cx="981.0" cy="200.0" r="5.35"/>
<circle cx="982.3" cy="232.0" r="5.35"/>
<circle cx="983.5" cy="226.0" r="5.35"/>
<circle cx="984.8" cy="218.0" r="5.35"/>
<circle cx="986.0" cy="239.0" r="5.35"/>
<circle cx="987.3" cy="233.0" r="5.35"/>
<circle cx="988.5" cy="226.0" r="5.35"/>
<circle cx="989.8" cy="252.0" r="5.35"/>
<circle cx="991.0" cy="254.0" r="5.35"/>
<circle cx="992.3" cy="246.0" r="5.35"/>
<circle cx="993.5" cy="258.0" r="5.35"/>
<circle cx="994.8" cy="264.0" r="5.35"/>
<circle cx="996.0" cy="270.0" r="5.35"/>
<circle cx="997.3" cy="274.0" r="5.35"/>
<circle cx="998.5" cy="280.0" r="5.35"/>
<circle cx="999.8" cy="284.0" r="5.35"/>
<circle cx="1001.0" cy="288.0" r="5.35"/>
<circle cx="1002.3" cy="291.0" r="5.35"/>
<circle cx="1003.5" cy="295.0" r="5.35"/>
<circle cx="1004.8" cy="299.0" r="5.35"/>
<circle cx="1006.0" cy="302.0" r="5.35"/>
<circle cx="1007.3" cy="304.0" r="5.35"/>
<circle cx="1008.5" cy="307.0" r="5.35"/>
<circle cx="1009.8" cy="309.0" r="5.35"/>
<circle cx="1011.0" cy="310.0" r="5.35"/>
<circle cx="1012.3" cy="316.0" r="5.35"/>
<circle cx="1013.5" cy="320.0" r="5.35"/>
<circle cx="1014.8" cy="322.0" r="5.35"/>
<circle cx="1016.0" cy="323.0" r="5.35"/>
<circle cx="1017.3" cy="325.0" r="5.35"/>
<circle cx="1018.5" cy="327.0" r="5.35"/>
<circle cx="1019.8" cy="328.0" r="5.35"/>
<circle cx="1021.0" cy="329.0" r="5.35"/>
<circle cx="1022.3" cy="332.0" r="5.35"/>
<circle cx="1023.5" cy="334.0" r="5.35"/>
<circle cx="1081.8" cy="104.0" r="5.35"/>
<circle cx="1083.0" cy="120.0" r="5.35"/>
<circle cx="1084.3" cy="130.0" r="5.35"/>
<circle cx="1086.0" cy="144.0" r="5.35"/>
<circle cx="1086.8" cy="152.0" r="5.35"/>
<circle cx="1088.5" cy="169.0" r="5.35"/>
<circle cx="1089.8" cy="177.0" r="5.35"/>
<circle cx="1090.5" cy="202.0" r="5.35"/>
<circle cx="1092.3" cy="183.0" r="5.35"/>
<circle cx="1093.5" cy="198.0" r="5.35"/>
<circle cx="1094.8" cy="213.0" r="5.35"/>
<circle cx="1096.0" cy="219.0" r="5.35"/>
<circle cx="1097.3" cy="225.0" r="5.35"/>
<circle cx="1098.5" cy="237.0" r="5.35"/>
<circle cx="1099.8" cy="240.0" r="5.35"/>
<circle cx="1101.0" cy="245.0" r="5.35"/>
<circle cx="1102.3" cy="249.0" r="5.35"/>
<circle cx="1103.5" cy="252.0" r="5.35"/>
<circle cx="1104.8" cy="256.0" r="5.35"/>
<circle cx="1106.0" cy="259.0" r="5.35"/>
<circle cx="1107.3" cy="263.0" r="5.35"/>
<circle cx="1108.5" cy="266.0" r="5.35"/>
<circle cx="1109.8" cy="271.0" r="5.35"/>
<circle cx="1111.0" cy="275.0" r="5.35"/>
<circle cx="1112.3" cy="279.0" r="5.35"/>
<circle cx="1113.5" cy="287.0" r="5.35"/>
<circle cx="1114.8" cy="281.0" r="5.35"/>
<circle cx="1116.0" cy="284.0" r="5.35"/>
<circle cx="1117.3" cy="287.0" r="5.35"/>
<circle cx="1118.5" cy="290.0" r="5.35"/>
<circle cx="1119.8" cy="293.0" r="5.35"/>
<circle cx="1121.0" cy="295.0" r="5.35"/>
<circle cx="1122.3" cy="298.0" r="5.35"/>
<circle cx="1123.5" cy="300.0" r="5.35"/>
<circle cx="1124.8" cy="302.0" r="5.35"/>
<circle cx="1126.0" cy="310.0" r="5.35"/>
<circle cx="1127.3" cy="306.0" r="5.35"/>
<circle cx="1128.5" cy="309.0" r="5.35"/>
<circle cx="1129.8" cy="312.0" r="5.35"/>
<circle cx="1131.0" cy="315.0" r="5.35"/>
<circle cx="1132.3" cy="307.0" r="5.35"/>
<circle cx="1132.5" cy="332.0" r="5.35"/>
<circle cx="1133.5" cy="317.0" r="5.35"/>
<circle cx="1134.8" cy="321.0" r="5.35"/>
<circle cx="1136.0" cy="324.0" r="5.35"/>
<circle cx="1137.3" cy="325.0" r="5.35"/>
<circle cx="1138.5" cy="332.0" r="5.35"/>
<circle cx="1196.8" cy="95.5" r="5.35"/>
<circle cx="1198.0" cy="116.0" r="5.35"/>
<circle cx="1199.0" cy="125.0" r="5.35"/>
<circle cx="1199.8" cy="144.0" r="5.35"/>
<circle cx="1201.0" cy="164.0" r="5.35"/>
<circle cx="1202.3" cy="170.0" r="5.35"/>
<circle cx="1203.5" cy="191.0" r="5.35"/>
<circle cx="1204.8" cy="181.0" r="5.35"/>
<circle cx="1206.0" cy="198.0" r="5.35"/>
<circle cx="1207.3" cy="201.0" r="5.35"/>
<circle cx="1208.5" cy="203.0" r="5.35"/>
<circle cx="1208.6" cy="216.0" r="5.35"/>
<circle cx="1211.0" cy="207.0" r="5.35"/>
<circle cx="1212.3" cy="217.0" r="5.35"/>
<circle cx="1213.5" cy="231.0" r="5.35"/>
<circle cx="1214.8" cy="233.0" r="5.35"/>
<circle cx="1216.0" cy="237.0" r="5.35"/>
<circle cx="1217.3" cy="241.0" r="5.35"/>
<circle cx="1218.5" cy="247.0" r="5.35"/>
<circle cx="1219.8" cy="251.0" r="5.35"/>
<circle cx="1221.0" cy="255.0" r="5.35"/>
<circle cx="1222.3" cy="258.0" r="5.35"/>
<circle cx="1223.5" cy="262.0" r="5.35"/>
<circle cx="1224.8" cy="269.0" r="5.35"/>
<circle cx="1226.0" cy="272.0" r="5.35"/>
<circle cx="1227.3" cy="275.0" r="5.35"/>
<circle cx="1228.5" cy="281.0" r="5.35"/>
<circle cx="1229.8" cy="284.0" r="5.35"/>
<circle cx="1231.0" cy="286.0" r="5.35"/>
<circle cx="1232.3" cy="289.0" r="5.35"/>
<circle cx="1233.5" cy="296.0" r="5.35"/>
<circle cx="1234.8" cy="290.0" r="5.35"/>
<circle cx="1236.0" cy="298.0" r="5.35"/>
<circle cx="1237.3" cy="300.0" r="5.35"/>
<circle cx="1238.5" cy="306.0" r="5.35"/>
<circle cx="1239.8" cy="307.0" r="5.35"/>
<circle cx="1241.0" cy="309.0" r="5.35"/>
<circle cx="1242.3" cy="310.0" r="5.35"/>
<circle cx="1242.5" cy="321.0" r="5.35"/>
<circle cx="1243.5" cy="316.0" r="5.35"/>
<circle cx="1244.8" cy="315.0" r="5.35"/>
<circle cx="1246.0" cy="316.0" r="5.35"/>
<circle cx="1247.3" cy="313.0" r="5.35"/>
<circle cx="1248.5" cy="310.0" r="5.35"/>
<circle cx="1249.8" cy="318.0" r="5.35"/>
<circle cx="1250.0" cy="325.0" r="5.35"/>
<circle cx="1251.5" cy="320.0" r="5.35"/>
<circle cx="1253.0" cy="328.0" r="5.35"/>
</g>
</g>
<g clip-path="url(#ca3)" fill="#fff" stroke-width="2.45">
<g stroke="#d9081f">
<circle cx="1284.8" cy="360.0" r="5.35"/>
<circle cx="1286.0" cy="350.0" r="5.35"/>
<circle cx="1287.3" cy="339.0" r="5.35"/>
<circle cx="1288.0" cy="296.0" r="5.35"/>
<circle cx="1288.5" cy="305.0" r="5.35"/>
<circle cx="1289.8" cy="270.0" r="5.35"/>
<circle cx="1292.3" cy="262.0" r="5.35"/>
<circle cx="1292.5" cy="254.0" r="5.35"/>
<circle cx="1294.8" cy="261.0" r="5.35"/>
<circle cx="1296.0" cy="249.0" r="5.35"/>
<circle cx="1298.5" cy="240.0" r="5.35"/>
<circle cx="1301.0" cy="225.0" r="5.35"/>
<circle cx="1302.3" cy="232.0" r="5.35"/>
<circle cx="1304.8" cy="213.0" r="5.35"/>
<circle cx="1306.0" cy="195.0" r="5.35"/>
<circle cx="1307.3" cy="211.0" r="5.35"/>
<circle cx="1308.5" cy="205.0" r="5.35"/>
<circle cx="1311.0" cy="184.0" r="5.35"/>
<circle cx="1313.5" cy="226.0" r="5.35"/>
<circle cx="1313.6" cy="192.0" r="5.35"/>
<circle cx="1316.0" cy="175.0" r="5.35"/>
<circle cx="1318.5" cy="162.0" r="5.35"/>
<circle cx="1321.0" cy="154.0" r="5.35"/>
<circle cx="1323.5" cy="162.0" r="5.35"/>
<circle cx="1326.0" cy="147.0" r="5.35"/>
<circle cx="1326.2" cy="174.0" r="5.35"/>
<circle cx="1327.3" cy="191.0" r="5.35"/>
<circle cx="1328.5" cy="154.0" r="5.35"/>
<circle cx="1331.0" cy="142.0" r="5.35"/>
<circle cx="1332.3" cy="151.0" r="5.35"/>
<circle cx="1334.8" cy="171.0" r="5.35"/>
<circle cx="1337.3" cy="140.0" r="5.35"/>
<circle cx="1397.8" cy="381.0" r="5.35"/>
<circle cx="1400.3" cy="370.0" r="5.35"/>
<circle cx="1401.5" cy="306.0" r="5.35"/>
<circle cx="1402.8" cy="339.0" r="5.35"/>
<circle cx="1402.9" cy="297.0" r="5.35"/>
<circle cx="1405.3" cy="287.0" r="5.35"/>
<circle cx="1407.0" cy="281.0" r="5.35"/>
<circle cx="1409.0" cy="267.0" r="5.35"/>
<circle cx="1410.3" cy="258.0" r="5.35"/>
<circle cx="1412.8" cy="254.0" r="5.35"/>
<circle cx="1415.3" cy="248.0" r="5.35"/>
<circle cx="1416.5" cy="241.0" r="5.35"/>
<circle cx="1417.8" cy="232.0" r="5.35"/>
<circle cx="1419.6" cy="231.4" r="5.35"/>
<circle cx="1421.3" cy="228.5" r="5.35"/>
<circle cx="1422.5" cy="227.6" r="5.35"/>
<circle cx="1424.0" cy="226.0" r="5.35"/>
<circle cx="1424.2" cy="195.0" r="5.35"/>
<circle cx="1425.3" cy="212.0" r="5.35"/>
<circle cx="1427.8" cy="235.0" r="5.35"/>
<circle cx="1429.0" cy="203.0" r="5.35"/>
<circle cx="1430.7" cy="200.4" r="5.35"/>
<circle cx="1432.2" cy="201.2" r="5.35"/>
<circle cx="1434.0" cy="198.0" r="5.35"/>
<circle cx="1435.3" cy="189.0" r="5.35"/>
<circle cx="1436.5" cy="181.0" r="5.35"/>
<circle cx="1437.8" cy="175.0" r="5.35"/>
<circle cx="1440.3" cy="170.0" r="5.35"/>
<circle cx="1442.8" cy="164.0" r="5.35"/>
<circle cx="1444.0" cy="147.0" r="5.35"/>
<circle cx="1445.3" cy="156.0" r="5.35"/>
<circle cx="1447.8" cy="144.0" r="5.35"/>
<circle cx="1449.4" cy="133.6" r="5.35"/>
<circle cx="1451.5" cy="119.0" r="5.35"/>
<circle cx="1452.8" cy="135.0" r="5.35"/>
<circle cx="1454.0" cy="126.0" r="5.35"/>
<circle cx="1512.8" cy="372.0" r="5.35"/>
<circle cx="1514.0" cy="366.0" r="5.35"/>
<circle cx="1515.3" cy="360.0" r="5.35"/>
<circle cx="1516.5" cy="355.0" r="5.35"/>
<circle cx="1517.8" cy="350.0" r="5.35"/>
<circle cx="1519.0" cy="346.0" r="5.35"/>
<circle cx="1520.3" cy="341.0" r="5.35"/>
<circle cx="1521.5" cy="332.0" r="5.35"/>
<circle cx="1522.8" cy="328.0" r="5.35"/>
<circle cx="1524.0" cy="324.0" r="5.35"/>
<circle cx="1525.3" cy="319.0" r="5.35"/>
<circle cx="1526.5" cy="315.0" r="5.35"/>
<circle cx="1527.8" cy="310.0" r="5.35"/>
<circle cx="1529.0" cy="305.0" r="5.35"/>
<circle cx="1530.3" cy="301.0" r="5.35"/>
<circle cx="1531.5" cy="298.0" r="5.35"/>
<circle cx="1532.8" cy="296.0" r="5.35"/>
<circle cx="1534.0" cy="290.0" r="5.35"/>
<circle cx="1535.3" cy="286.0" r="5.35"/>
<circle cx="1536.5" cy="283.0" r="5.35"/>
<circle cx="1539.0" cy="280.0" r="5.35"/>
<circle cx="1540.3" cy="272.0" r="5.35"/>
<circle cx="1541.5" cy="265.0" r="5.35"/>
<circle cx="1543.0" cy="267.0" r="5.35"/>
<circle cx="1545.3" cy="260.0" r="5.35"/>
<circle cx="1546.5" cy="255.0" r="5.35"/>
<circle cx="1547.8" cy="252.0" r="5.35"/>
<circle cx="1549.0" cy="248.0" r="5.35"/>
<circle cx="1550.3" cy="245.0" r="5.35"/>
<circle cx="1552.0" cy="242.0" r="5.35"/>
<circle cx="1553.5" cy="238.5" r="5.35"/>
<circle cx="1555.3" cy="240.0" r="5.35"/>
<circle cx="1556.5" cy="231.0" r="5.35"/>
<circle cx="1558.0" cy="228.0" r="5.35"/>
<circle cx="1559.0" cy="225.0" r="5.35"/>
<circle cx="1560.3" cy="221.0" r="5.35"/>
<circle cx="1561.5" cy="217.0" r="5.35"/>
<circle cx="1563.0" cy="214.0" r="5.35"/>
<circle cx="1564.0" cy="212.0" r="5.35"/>
<circle cx="1565.3" cy="210.0" r="5.35"/>
<circle cx="1566.5" cy="206.0" r="5.35"/>
<circle cx="1567.8" cy="202.0" r="5.35"/>
<circle cx="1569.0" cy="202.0" r="5.35"/>
<circle cx="1627.8" cy="369.0" r="5.35"/>
<circle cx="1629.0" cy="362.0" r="5.35"/>
<circle cx="1630.3" cy="356.0" r="5.35"/>
<circle cx="1631.5" cy="352.0" r="5.35"/>
<circle cx="1632.8" cy="347.0" r="5.35"/>
<circle cx="1634.0" cy="342.0" r="5.35"/>
<circle cx="1635.3" cy="337.0" r="5.35"/>
<circle cx="1636.5" cy="330.0" r="5.35"/>
<circle cx="1637.8" cy="327.0" r="5.35"/>
<circle cx="1639.0" cy="324.0" r="5.35"/>
<circle cx="1640.3" cy="315.0" r="5.35"/>
<circle cx="1641.5" cy="312.0" r="5.35"/>
<circle cx="1644.0" cy="307.0" r="5.35"/>
<circle cx="1645.3" cy="303.0" r="5.35"/>
<circle cx="1646.5" cy="300.0" r="5.35"/>
<circle cx="1647.8" cy="294.0" r="5.35"/>
<circle cx="1649.0" cy="290.0" r="5.35"/>
<circle cx="1650.3" cy="286.0" r="5.35"/>
<circle cx="1651.5" cy="283.0" r="5.35"/>
<circle cx="1652.8" cy="280.0" r="5.35"/>
<circle cx="1654.0" cy="274.0" r="5.35"/>
<circle cx="1655.3" cy="270.0" r="5.35"/>
<circle cx="1656.5" cy="266.0" r="5.35"/>
<circle cx="1658.0" cy="264.0" r="5.35"/>
<circle cx="1660.0" cy="262.0" r="5.35"/>
<circle cx="1661.1" cy="259.8" r="5.35"/>
<circle cx="1662.8" cy="260.0" r="5.35"/>
<circle cx="1664.0" cy="252.0" r="5.35"/>
<circle cx="1665.3" cy="249.0" r="5.35"/>
<circle cx="1666.5" cy="245.0" r="5.35"/>
<circle cx="1669.0" cy="242.0" r="5.35"/>
<circle cx="1670.3" cy="240.0" r="5.35"/>
<circle cx="1672.8" cy="230.0" r="5.35"/>
<circle cx="1674.0" cy="230.0" r="5.35"/>
<circle cx="1676.5" cy="236.0" r="5.35"/>
<circle cx="1677.8" cy="224.0" r="5.35"/>
<circle cx="1679.0" cy="220.0" r="5.35"/>
<circle cx="1680.3" cy="216.0" r="5.35"/>
<circle cx="1681.5" cy="213.0" r="5.35"/>
<circle cx="1682.8" cy="210.0" r="5.35"/>
</g>
<g stroke="#0c1c94">
<circle cx="1283.5" cy="311.0" r="5.35"/>
<circle cx="1340.5" cy="157.0" r="5.35"/>
<circle cx="1342.3" cy="162.0" r="5.35"/>
<circle cx="1343.0" cy="175.0" r="5.35"/>
<circle cx="1343.5" cy="185.0" r="5.35"/>
<circle cx="1346.0" cy="196.0" r="5.35"/>
<circle cx="1347.3" cy="192.0" r="5.35"/>
<circle cx="1349.0" cy="222.0" r="5.35"/>
<circle cx="1350.3" cy="224.0" r="5.35"/>
<circle cx="1351.5" cy="229.0" r="5.35"/>
<circle cx="1352.8" cy="238.0" r="5.35"/>
<circle cx="1354.0" cy="244.0" r="5.35"/>
<circle cx="1355.3" cy="245.0" r="5.35"/>
<circle cx="1356.5" cy="249.0" r="5.35"/>
<circle cx="1357.8" cy="258.0" r="5.35"/>
<circle cx="1359.0" cy="256.0" r="5.35"/>
<circle cx="1360.3" cy="258.0" r="5.35"/>
<circle cx="1361.5" cy="251.0" r="5.35"/>
<circle cx="1362.8" cy="252.0" r="5.35"/>
<circle cx="1364.0" cy="261.0" r="5.35"/>
<circle cx="1365.3" cy="260.0" r="5.35"/>
<circle cx="1366.5" cy="263.0" r="5.35"/>
<circle cx="1368.0" cy="265.0" r="5.35"/>
<circle cx="1370.3" cy="267.0" r="5.35"/>
<circle cx="1371.5" cy="282.0" r="5.35"/>
<circle cx="1371.6" cy="295.0" r="5.35"/>
<circle cx="1372.8" cy="290.0" r="5.35"/>
<circle cx="1374.0" cy="302.0" r="5.35"/>
<circle cx="1375.3" cy="309.0" r="5.35"/>
<circle cx="1376.5" cy="305.0" r="5.35"/>
<circle cx="1377.8" cy="308.0" r="5.35"/>
<circle cx="1379.0" cy="310.0" r="5.35"/>
<circle cx="1380.3" cy="312.0" r="5.35"/>
<circle cx="1381.5" cy="299.0" r="5.35"/>
<circle cx="1382.8" cy="319.0" r="5.35"/>
<circle cx="1384.0" cy="314.0" r="5.35"/>
<circle cx="1385.3" cy="316.0" r="5.35"/>
<circle cx="1386.5" cy="318.0" r="5.35"/>
<circle cx="1387.8" cy="316.0" r="5.35"/>
<circle cx="1389.0" cy="325.0" r="5.35"/>
<circle cx="1390.3" cy="320.0" r="5.35"/>
<circle cx="1391.5" cy="322.0" r="5.35"/>
<circle cx="1392.8" cy="326.0" r="5.35"/>
<circle cx="1394.0" cy="334.0" r="5.35"/>
<circle cx="1395.3" cy="328.0" r="5.35"/>
<circle cx="1396.5" cy="319.0" r="5.35"/>
<circle cx="1455.3" cy="154.0" r="5.35"/>
<circle cx="1456.5" cy="165.0" r="5.35"/>
<circle cx="1457.8" cy="175.0" r="5.35"/>
<circle cx="1459.0" cy="184.0" r="5.35"/>
<circle cx="1460.3" cy="190.0" r="5.35"/>
<circle cx="1461.5" cy="196.0" r="5.35"/>
<circle cx="1462.8" cy="200.0" r="5.35"/>
<circle cx="1464.0" cy="204.0" r="5.35"/>
<circle cx="1464.1" cy="215.0" r="5.35"/>
<circle cx="1465.3" cy="227.0" r="5.35"/>
<circle cx="1466.5" cy="222.0" r="5.35"/>
<circle cx="1467.8" cy="225.0" r="5.35"/>
<circle cx="1469.0" cy="228.0" r="5.35"/>
<circle cx="1470.3" cy="222.0" r="5.35"/>
<circle cx="1471.5" cy="236.0" r="5.35"/>
<circle cx="1472.8" cy="240.0" r="5.35"/>
<circle cx="1474.0" cy="247.0" r="5.35"/>
<circle cx="1475.3" cy="250.0" r="5.35"/>
<circle cx="1476.5" cy="254.0" r="5.35"/>
<circle cx="1477.8" cy="257.0" r="5.35"/>
<circle cx="1479.0" cy="260.0" r="5.35"/>
<circle cx="1480.3" cy="263.0" r="5.35"/>
<circle cx="1481.5" cy="267.0" r="5.35"/>
<circle cx="1482.8" cy="277.0" r="5.35"/>
<circle cx="1484.0" cy="274.0" r="5.35"/>
<circle cx="1485.3" cy="279.0" r="5.35"/>
<circle cx="1486.5" cy="294.0" r="5.35"/>
<circle cx="1487.8" cy="285.0" r="5.35"/>
<circle cx="1489.0" cy="290.0" r="5.35"/>
<circle cx="1490.3" cy="305.0" r="5.35"/>
<circle cx="1491.5" cy="297.0" r="5.35"/>
<circle cx="1492.8" cy="300.0" r="5.35"/>
<circle cx="1494.0" cy="302.0" r="5.35"/>
<circle cx="1495.3" cy="303.0" r="5.35"/>
<circle cx="1496.5" cy="305.0" r="5.35"/>
<circle cx="1497.8" cy="300.0" r="5.35"/>
<circle cx="1499.0" cy="297.0" r="5.35"/>
<circle cx="1500.3" cy="294.0" r="5.35"/>
<circle cx="1501.5" cy="300.0" r="5.35"/>
<circle cx="1501.6" cy="314.0" r="5.35"/>
<circle cx="1502.8" cy="316.0" r="5.35"/>
<circle cx="1504.0" cy="320.0" r="5.35"/>
<circle cx="1505.3" cy="321.0" r="5.35"/>
<circle cx="1506.5" cy="322.0" r="5.35"/>
<circle cx="1507.8" cy="322.0" r="5.35"/>
<circle cx="1509.0" cy="326.0" r="5.35"/>
<circle cx="1510.3" cy="328.0" r="5.35"/>
<circle cx="1511.5" cy="330.0" r="5.35"/>
<circle cx="1569.8" cy="149.0" r="5.35"/>
<circle cx="1571.5" cy="156.0" r="5.35"/>
<circle cx="1573.5" cy="162.0" r="5.35"/>
<circle cx="1574.0" cy="177.0" r="5.35"/>
<circle cx="1576.0" cy="170.0" r="5.35"/>
<circle cx="1576.5" cy="192.0" r="5.35"/>
<circle cx="1577.8" cy="201.0" r="5.35"/>
<circle cx="1579.0" cy="210.0" r="5.35"/>
<circle cx="1580.3" cy="217.0" r="5.35"/>
<circle cx="1581.5" cy="225.0" r="5.35"/>
<circle cx="1582.8" cy="231.0" r="5.35"/>
<circle cx="1584.0" cy="237.0" r="5.35"/>
<circle cx="1585.3" cy="241.0" r="5.35"/>
<circle cx="1586.5" cy="245.0" r="5.35"/>
<circle cx="1587.8" cy="250.0" r="5.35"/>
<circle cx="1589.0" cy="254.0" r="5.35"/>
<circle cx="1590.3" cy="257.0" r="5.35"/>
<circle cx="1591.5" cy="260.0" r="5.35"/>
<circle cx="1592.8" cy="267.0" r="5.35"/>
<circle cx="1594.0" cy="270.0" r="5.35"/>
<circle cx="1595.3" cy="274.0" r="5.35"/>
<circle cx="1596.5" cy="278.0" r="5.35"/>
<circle cx="1597.8" cy="286.0" r="5.35"/>
<circle cx="1599.0" cy="283.0" r="5.35"/>
<circle cx="1600.3" cy="282.0" r="5.35"/>
<circle cx="1601.5" cy="280.0" r="5.35"/>
<circle cx="1602.8" cy="290.0" r="5.35"/>
<circle cx="1604.0" cy="296.0" r="5.35"/>
<circle cx="1605.3" cy="299.0" r="5.35"/>
<circle cx="1606.5" cy="302.0" r="5.35"/>
<circle cx="1607.8" cy="305.0" r="5.35"/>
<circle cx="1609.0" cy="307.0" r="5.35"/>
<circle cx="1610.3" cy="311.0" r="5.35"/>
<circle cx="1611.5" cy="314.0" r="5.35"/>
<circle cx="1612.8" cy="316.0" r="5.35"/>
<circle cx="1614.0" cy="317.0" r="5.35"/>
<circle cx="1615.3" cy="318.0" r="5.35"/>
<circle cx="1616.5" cy="317.0" r="5.35"/>
<circle cx="1617.8" cy="321.0" r="5.35"/>
<circle cx="1619.0" cy="324.0" r="5.35"/>
<circle cx="1619.1" cy="335.0" r="5.35"/>
<circle cx="1620.3" cy="330.0" r="5.35"/>
<circle cx="1621.5" cy="337.0" r="5.35"/>
<circle cx="1622.8" cy="341.0" r="5.35"/>
<circle cx="1624.0" cy="339.0" r="5.35"/>
<circle cx="1625.3" cy="338.0" r="5.35"/>
<circle cx="1626.5" cy="337.0" r="5.35"/>
<circle cx="1684.8" cy="157.0" r="5.35"/>
<circle cx="1686.5" cy="170.0" r="5.35"/>
<circle cx="1687.8" cy="185.0" r="5.35"/>
<circle cx="1689.0" cy="196.0" r="5.35"/>
<circle cx="1690.3" cy="206.0" r="5.35"/>
<circle cx="1691.5" cy="217.0" r="5.35"/>
<circle cx="1692.8" cy="226.0" r="5.35"/>
<circle cx="1694.0" cy="229.0" r="5.35"/>
<circle cx="1695.3" cy="231.0" r="5.35"/>
<circle cx="1696.5" cy="237.0" r="5.35"/>
<circle cx="1697.8" cy="242.0" r="5.35"/>
<circle cx="1699.0" cy="245.0" r="5.35"/>
<circle cx="1700.3" cy="247.0" r="5.35"/>
<circle cx="1701.5" cy="250.0" r="5.35"/>
<circle cx="1702.8" cy="253.0" r="5.35"/>
<circle cx="1704.0" cy="260.0" r="5.35"/>
<circle cx="1705.3" cy="261.0" r="5.35"/>
<circle cx="1706.5" cy="262.0" r="5.35"/>
<circle cx="1707.8" cy="267.0" r="5.35"/>
<circle cx="1709.0" cy="280.0" r="5.35"/>
<circle cx="1710.3" cy="276.0" r="5.35"/>
<circle cx="1711.5" cy="280.0" r="5.35"/>
<circle cx="1712.8" cy="283.0" r="5.35"/>
<circle cx="1714.0" cy="285.0" r="5.35"/>
<circle cx="1715.3" cy="287.0" r="5.35"/>
<circle cx="1716.5" cy="296.0" r="5.35"/>
<circle cx="1717.8" cy="314.0" r="5.35"/>
<circle cx="1719.0" cy="300.0" r="5.35"/>
<circle cx="1720.3" cy="302.0" r="5.35"/>
<circle cx="1721.5" cy="305.0" r="5.35"/>
<circle cx="1722.8" cy="315.0" r="5.35"/>
<circle cx="1724.0" cy="320.0" r="5.35"/>
<circle cx="1725.3" cy="324.0" r="5.35"/>
<circle cx="1726.5" cy="330.0" r="5.35"/>
<circle cx="1727.8" cy="331.0" r="5.35"/>
<circle cx="1729.0" cy="333.0" r="5.35"/>
<circle cx="1730.3" cy="336.0" r="5.35"/>
<circle cx="1731.5" cy="338.0" r="5.35"/>
<circle cx="1732.8" cy="339.0" r="5.35"/>
<circle cx="1734.0" cy="341.0" r="5.35"/>
<circle cx="1735.3" cy="344.0" r="5.35"/>
<circle cx="1736.5" cy="346.0" r="5.35"/>
<circle cx="1737.8" cy="347.0" r="5.35"/>
<circle cx="1739.0" cy="352.0" r="5.35"/>
<circle cx="1740.3" cy="355.0" r="5.35"/>
</g>
</g>
<g stroke="#000" stroke-width="3.5" fill="none" stroke-linecap="butt">
<line x1="75.05" y1="16.3" x2="764" y2="16.3"/>
<line x1="75.05" y1="389.4" x2="764" y2="389.4"/>
<line x1="794.5" y1="16.3" x2="1252.5" y2="16.3"/>
<line x1="794.5" y1="389.4" x2="1252.5" y2="389.4"/>
<line x1="1282.5" y1="16.3" x2="1742.95" y2="16.3"/>
<line x1="1282.5" y1="389.4" x2="1742.95" y2="389.4"/>
<line x1="76.8" y1="16.3" x2="76.8" y2="389.4"/>
<line x1="1741.2" y1="16.3" x2="1741.2" y2="389.4"/>
<line x1="751.8" y1="24.0" x2="778.4" y2="9.0" stroke-width="3.2" stroke-linecap="round"/>
<line x1="751.8" y1="397.1" x2="778.4" y2="382.1" stroke-width="3.2" stroke-linecap="round"/>
<line x1="780.6" y1="24.0" x2="807.2" y2="9.0" stroke-width="3.2" stroke-linecap="round"/>
<line x1="780.6" y1="397.1" x2="807.2" y2="382.1" stroke-width="3.2" stroke-linecap="round"/>
<line x1="1239.9" y1="24.0" x2="1266.5" y2="9.0" stroke-width="3.2" stroke-linecap="round"/>
<line x1="1239.9" y1="397.1" x2="1266.5" y2="382.1" stroke-width="3.2" stroke-linecap="round"/>
<line x1="1268.6" y1="24.0" x2="1295.2" y2="9.0" stroke-width="3.2" stroke-linecap="round"/>
<line x1="1268.6" y1="397.1" x2="1295.2" y2="382.1" stroke-width="3.2" stroke-linecap="round"/>
<line x1="77" y1="389.4" x2="77" y2="397.4" stroke-width="3"/>
<line x1="191.3" y1="389.4" x2="191.3" y2="397.4" stroke-width="3"/>
<line x1="305.7" y1="389.4" x2="305.7" y2="397.4" stroke-width="3"/>
<line x1="420.2" y1="389.4" x2="420.2" y2="397.4" stroke-width="3"/>
<line x1="535" y1="389.4" x2="535" y2="397.4" stroke-width="3"/>
<line x1="650.3" y1="389.4" x2="650.3" y2="397.4" stroke-width="3"/>
<line x1="908.3" y1="389.4" x2="908.3" y2="397.4" stroke-width="3"/>
<line x1="1023.2" y1="389.4" x2="1023.2" y2="397.4" stroke-width="3"/>
<line x1="1138" y1="389.4" x2="1138" y2="397.4" stroke-width="3"/>
<line x1="1396.2" y1="389.4" x2="1396.2" y2="397.4" stroke-width="3"/>
<line x1="1510.8" y1="389.4" x2="1510.8" y2="397.4" stroke-width="3"/>
<line x1="1625.8" y1="389.4" x2="1625.8" y2="397.4" stroke-width="3"/>
<line x1="1741" y1="389.4" x2="1741" y2="397.4" stroke-width="3"/>
<line x1="76.8" y1="100.7" x2="68.8" y2="100.7" stroke-width="3"/>
<line x1="76.8" y1="270.6" x2="68.8" y2="270.6" stroke-width="3"/>
</g>
<g font-family="'Liberation Sans', Arial, sans-serif" font-weight="bold" fill="#000" stroke="#000" stroke-width="0.45" stroke-linejoin="round">
<text transform="translate(77.3 423.6) scale(1 1.04)" font-size="26.4" text-anchor="middle">200</text>
<text transform="translate(191.60000000000002 423.6) scale(1 1.04)" font-size="26.4" text-anchor="middle">300</text>
<text transform="translate(306.0 423.6) scale(1 1.04)" font-size="26.4" text-anchor="middle">400</text>
<text transform="translate(420.5 423.6) scale(1 1.04)" font-size="26.4" text-anchor="middle">500</text>
<text transform="translate(535.3 423.6) scale(1 1.04)" font-size="26.4" text-anchor="middle">600</text>
<text transform="translate(650.5999999999999 423.6) scale(1 1.04)" font-size="26.4" text-anchor="middle">700</text>
<text transform="translate(908.5999999999999 423.6) scale(1 1.04)" font-size="26.4" text-anchor="middle">2400</text>
<text transform="translate(1023.5 423.6) scale(1 1.04)" font-size="26.4" text-anchor="middle">2500</text>
<text transform="translate(1138.3 423.6) scale(1 1.04)" font-size="26.4" text-anchor="middle">2600</text>
<text transform="translate(1396.5 423.6) scale(1 1.04)" font-size="26.4" text-anchor="middle">3700</text>
<text transform="translate(1511.1 423.6) scale(1 1.04)" font-size="26.4" text-anchor="middle">3800</text>
<text transform="translate(1626.1 423.6) scale(1 1.04)" font-size="26.4" text-anchor="middle">3900</text>
<text transform="translate(1741.3 423.6) scale(1 1.04)" font-size="26.4" text-anchor="middle">4000</text>
<text transform="translate(64.5 110.2) scale(1 1.04)" font-size="26.4" text-anchor="end">5</text>
<text transform="translate(64.5 280.1) scale(1 1.04)" font-size="26.4" text-anchor="end">4</text>
<text transform="translate(910 460.6) scale(1 1.025)" font-size="33.1" text-anchor="middle">Pulse Number</text>
<text transform="translate(33.5,206) rotate(-90) translate(0 0) scale(1 1.025)" font-size="33.9" text-anchor="middle">Conductance (µS)</text>
<text transform="translate(7.2 31.2) scale(1 1.04)" font-size="32.5" stroke="#000" stroke-width="0.9" stroke-linejoin="round">A</text>
</g>
</g>
<g id="panel-b">
<defs>
<linearGradient id="bg0" x1="0" y1="0" x2="0" y2="1">
<stop offset="0.0000" stop-color="#323997"/>
<stop offset="0.4791" stop-color="#323997"/>
<stop offset="0.5034" stop-color="#3f62ab"/>
<stop offset="0.5094" stop-color="#abd9e9"/>
<stop offset="0.5143" stop-color="#d8eff6"/>
<stop offset="0.5185" stop-color="#ffffbf"/>
<stop offset="0.5230" stop-color="#fed687"/>
<stop offset="0.5274" stop-color="#fa9a58"/>
<stop offset="0.5312" stop-color="#eb5b3b"/>
<stop offset="0.5403" stop-color="#db392b"/>
<stop offset="0.5585" stop-color="#d02927"/>
<stop offset="0.6148" stop-color="#b61126"/>
<stop offset="0.7068" stop-color="#b30d26"/>
<stop offset="0.9092" stop-color="#a70226"/>
<stop offset="1.0000" stop-color="#a50026"/>
</linearGradient>
<linearGradient id="bg1" x1="0" y1="0" x2="0" y2="1">
<stop offset="0.0000" stop-color="#323997"/>
<stop offset="0.4804" stop-color="#323997"/>
<stop offset="0.5046" stop-color="#3f62ab"/>
<stop offset="0.5106" stop-color="#abd9e9"/>
<stop offset="0.5155" stop-color="#d8eff6"/>
<stop offset="0.5197" stop-color="#ffffbf"/>
<stop offset="0.5242" stop-color="#fed687"/>
<stop offset="0.5286" stop-color="#fa9a58"/>
<stop offset="0.5325" stop-color="#eb5b3b"/>
<stop offset="0.5415" stop-color="#db392b"/>
<stop offset="0.5597" stop-color="#d02927"/>
<stop offset="0.6362" stop-color="#b81226"/>
<stop offset="0.7080" stop-color="#b30d26"/>
<stop offset="0.9092" stop-color="#a70226"/>
<stop offset="1.0000" stop-color="#a50026"/>
</linearGradient>
<linearGradient id="bg2" x1="0" y1="0" x2="0" y2="1">
<stop offset="0.0000" stop-color="#323997"/>
<stop offset="0.4774" stop-color="#323997"/>
<stop offset="0.5016" stop-color="#3f62ab"/>
<stop offset="0.5076" stop-color="#abd9e9"/>
<stop offset="0.5125" stop-color="#d8eff6"/>
<stop offset="0.5167" stop-color="#ffffbf"/>
<stop offset="0.5217" stop-color="#fed687"/>
<stop offset="0.5266" stop-color="#fa9a58"/>
<stop offset="0.5309" stop-color="#eb5b3b"/>
<stop offset="0.5400" stop-color="#db392b"/>
<stop offset="0.5581" stop-color="#d02927"/>
<stop offset="0.6513" stop-color="#aa0526"/>
<stop offset="0.7064" stop-color="#b30d26"/>
<stop offset="0.9092" stop-color="#a70226"/>
<stop offset="1.0000" stop-color="#a50026"/>
</linearGradient>
<linearGradient id="bg3" x1="0" y1="0" x2="0" y2="1">
<stop offset="0.0000" stop-color="#323997"/>
<stop offset="0.4794" stop-color="#323997"/>
<stop offset="0.5036" stop-color="#3f62ab"/>
<stop offset="0.5096" stop-color="#abd9e9"/>
<stop offset="0.5145" stop-color="#d8eff6"/>
<stop offset="0.5187" stop-color="#ffffbf"/>
<stop offset="0.5237" stop-color="#fed687"/>
<stop offset="0.5286" stop-color="#fa9a58"/>
<stop offset="0.5329" stop-color="#eb5b3b"/>
<stop offset="0.5420" stop-color="#db392b"/>
<stop offset="0.5601" stop-color="#d02927"/>
<stop offset="0.6058" stop-color="#b00a26"/>
<stop offset="0.7084" stop-color="#b30d26"/>
<stop offset="0.9092" stop-color="#a70226"/>
<stop offset="1.0000" stop-color="#a50026"/>
</linearGradient>
<linearGradient id="bg4" x1="0" y1="0" x2="0" y2="1">
<stop offset="0.0000" stop-color="#323997"/>
<stop offset="0.4869" stop-color="#323997"/>
<stop offset="0.5111" stop-color="#3f62ab"/>
<stop offset="0.5172" stop-color="#abd9e9"/>
<stop offset="0.5220" stop-color="#d8eff6"/>
<stop offset="0.5263" stop-color="#ffffbf"/>
<stop offset="0.5289" stop-color="#fed687"/>
<stop offset="0.5316" stop-color="#fa9a58"/>
<stop offset="0.5338" stop-color="#eb5b3b"/>
<stop offset="0.5429" stop-color="#db392b"/>
<stop offset="0.5611" stop-color="#d02927"/>
<stop offset="0.6541" stop-color="#b50f26"/>
<stop offset="0.7094" stop-color="#b30d26"/>
<stop offset="0.9092" stop-color="#a70226"/>
<stop offset="1.0000" stop-color="#a50026"/>
</linearGradient>
<linearGradient id="bg5" x1="0" y1="0" x2="0" y2="1">
<stop offset="0.0000" stop-color="#323997"/>
<stop offset="0.4842" stop-color="#323997"/>
<stop offset="0.5084" stop-color="#3f62ab"/>
<stop offset="0.5144" stop-color="#abd9e9"/>
<stop offset="0.5193" stop-color="#d8eff6"/>
<stop offset="0.5235" stop-color="#ffffbf"/>
<stop offset="0.5262" stop-color="#fed687"/>
<stop offset="0.5288" stop-color="#fa9a58"/>
<stop offset="0.5311" stop-color="#eb5b3b"/>
<stop offset="0.5402" stop-color="#db392b"/>
<stop offset="0.5583" stop-color="#d02927"/>
<stop offset="0.6359" stop-color="#b50f26"/>
<stop offset="0.7066" stop-color="#b30d26"/>
<stop offset="0.9092" stop-color="#a70226"/>
<stop offset="1.0000" stop-color="#a50026"/>
</linearGradient>
<linearGradient id="bg6" x1="0" y1="0" x2="0" y2="1">
<stop offset="0.0000" stop-color="#323997"/>
<stop offset="0.4773" stop-color="#323997"/>
<stop offset="0.5015" stop-color="#3f62ab"/>
<stop offset="0.5075" stop-color="#abd9e9"/>
<stop offset="0.5124" stop-color="#d8eff6"/>
<stop offset="0.5166" stop-color="#ffffbf"/>
<stop offset="0.5214" stop-color="#fed687"/>
<stop offset="0.5261" stop-color="#fa9a58"/>
<stop offset="0.5301" stop-color="#eb5b3b"/>
<stop offset="0.5392" stop-color="#db392b"/>
<stop offset="0.5574" stop-color="#d02927"/>
<stop offset="0.6529" stop-color="#b81326"/>
<stop offset="0.7057" stop-color="#b30d26"/>
<stop offset="0.9092" stop-color="#a70226"/>
<stop offset="1.0000" stop-color="#a50026"/>
</linearGradient>
<linearGradient id="bg7" x1="0" y1="0" x2="0" y2="1">
<stop offset="0.0000" stop-color="#323997"/>
<stop offset="0.4747" stop-color="#323997"/>
<stop offset="0.4989" stop-color="#3f62ab"/>
<stop offset="0.5057" stop-color="#abd9e9"/>
<stop offset="0.5112" stop-color="#d8eff6"/>
<stop offset="0.5160" stop-color="#ffffbf"/>
<stop offset="0.5210" stop-color="#fed687"/>
<stop offset="0.5261" stop-color="#fa9a58"/>
<stop offset="0.5304" stop-color="#eb5b3b"/>
<stop offset="0.5395" stop-color="#db392b"/>
<stop offset="0.5577" stop-color="#d02927"/>
<stop offset="0.6432" stop-color="#b61026"/>
<stop offset="0.7060" stop-color="#b30d26"/>
<stop offset="0.9092" stop-color="#a70226"/>
<stop offset="1.0000" stop-color="#a50026"/>
</linearGradient>
<linearGradient id="bg8" x1="0" y1="0" x2="0" y2="1">
<stop offset="0.0000" stop-color="#323997"/>
<stop offset="0.4784" stop-color="#323997"/>
<stop offset="0.5026" stop-color="#3f62ab"/>
<stop offset="0.5096" stop-color="#abd9e9"/>
<stop offset="0.5151" stop-color="#d8eff6"/>
<stop offset="0.5200" stop-color="#ffffbf"/>
<stop offset="0.5236" stop-color="#fed687"/>
<stop offset="0.5272" stop-color="#fa9a58"/>
<stop offset="0.5303" stop-color="#eb5b3b"/>
<stop offset="0.5394" stop-color="#db392b"/>
<stop offset="0.5575" stop-color="#d02927"/>
<stop offset="0.6444" stop-color="#ab0626"/>
<stop offset="0.7058" stop-color="#b30d26"/>
<stop offset="0.9092" stop-color="#a70226"/>
<stop offset="1.0000" stop-color="#a50026"/>
</linearGradient>
<linearGradient id="bg9" x1="0" y1="0" x2="0" y2="1">
<stop offset="0.0000" stop-color="#323997"/>
<stop offset="0.4833" stop-color="#323997"/>
<stop offset="0.5075" stop-color="#3f62ab"/>
<stop offset="0.5137" stop-color="#abd9e9"/>
<stop offset="0.5187" stop-color="#d8eff6"/>
<stop offset="0.5230" stop-color="#ffffbf"/>
<stop offset="0.5263" stop-color="#fed687"/>
<stop offset="0.5295" stop-color="#fa9a58"/>
<stop offset="0.5323" stop-color="#eb5b3b"/>
<stop offset="0.5414" stop-color="#db392b"/>
<stop offset="0.5596" stop-color="#d02927"/>
<stop offset="0.6105" stop-color="#b71226"/>
<stop offset="0.7079" stop-color="#b30d26"/>
<stop offset="0.9092" stop-color="#a70226"/>
<stop offset="1.0000" stop-color="#a50026"/>
</linearGradient>
<linearGradient id="bg10" x1="0" y1="0" x2="0" y2="1">
<stop offset="0.0000" stop-color="#323997"/>
<stop offset="0.4744" stop-color="#323997"/>
<stop offset="0.4986" stop-color="#3f62ab"/>
<stop offset="0.5052" stop-color="#abd9e9"/>
<stop offset="0.5104" stop-color="#d8eff6"/>
<stop offset="0.5150" stop-color="#ffffbf"/>
<stop offset="0.5205" stop-color="#fed687"/>
<stop offset="0.5260" stop-color="#fa9a58"/>
<stop offset="0.5307" stop-color="#eb5b3b"/>
<stop offset="0.5398" stop-color="#db392b"/>
<stop offset="0.5580" stop-color="#d02927"/>
<stop offset="0.6224" stop-color="#bd1726"/>
<stop offset="0.7063" stop-color="#b30d26"/>
<stop offset="0.9092" stop-color="#a70226"/>
<stop offset="1.0000" stop-color="#a50026"/>
</linearGradient>
<linearGradient id="bg11" x1="0" y1="0" x2="0" y2="1">
<stop offset="0.0000" stop-color="#323997"/>
<stop offset="0.4716" stop-color="#323997"/>
<stop offset="0.4958" stop-color="#3f62ab"/>
<stop offset="0.5030" stop-color="#abd9e9"/>
<stop offset="0.5087" stop-color="#d8eff6"/>
<stop offset="0.5137" stop-color="#ffffbf"/>
<stop offset="0.5197" stop-color="#fed687"/>
<stop offset="0.5258" stop-color="#fa9a58"/>
<stop offset="0.5309" stop-color="#eb5b3b"/>
<stop offset="0.5400" stop-color="#db392b"/>
<stop offset="0.5582" stop-color="#d02927"/>
<stop offset="0.6546" stop-color="#ba1426"/>
<stop offset="0.7065" stop-color="#b30d26"/>
<stop offset="0.9092" stop-color="#a70226"/>
<stop offset="1.0000" stop-color="#a50026"/>
</linearGradient>
<linearGradient id="bg12" x1="0" y1="0" x2="0" y2="1">
<stop offset="0.0000" stop-color="#323997"/>
<stop offset="0.4790" stop-color="#323997"/>
<stop offset="0.5033" stop-color="#3f62ab"/>
<stop offset="0.5100" stop-color="#abd9e9"/>
<stop offset="0.5154" stop-color="#d8eff6"/>
<stop offset="0.5202" stop-color="#ffffbf"/>
<stop offset="0.5241" stop-color="#fed687"/>
<stop offset="0.5280" stop-color="#fa9a58"/>
<stop offset="0.5314" stop-color="#eb5b3b"/>
<stop offset="0.5405" stop-color="#db392b"/>
<stop offset="0.5587" stop-color="#d02927"/>
<stop offset="0.6170" stop-color="#bf1927"/>
<stop offset="0.7070" stop-color="#b30d26"/>
<stop offset="0.9092" stop-color="#a70226"/>
<stop offset="1.0000" stop-color="#a50026"/>
</linearGradient>
<linearGradient id="bg13" x1="0" y1="0" x2="0" y2="1">
<stop offset="0.0000" stop-color="#323997"/>
<stop offset="0.4823" stop-color="#323997"/>
<stop offset="0.5065" stop-color="#3f62ab"/>
<stop offset="0.5127" stop-color="#abd9e9"/>
<stop offset="0.5176" stop-color="#d8eff6"/>
<stop offset="0.5219" stop-color="#ffffbf"/>
<stop offset="0.5256" stop-color="#fed687"/>
<stop offset="0.5292" stop-color="#fa9a58"/>
<stop offset="0.5324" stop-color="#eb5b3b"/>
<stop offset="0.5415" stop-color="#db392b"/>
<stop offset="0.5596" stop-color="#d02927"/>
<stop offset="0.6219" stop-color="#bc1626"/>
<stop offset="0.7079" stop-color="#b30d26"/>
<stop offset="0.9092" stop-color="#a70226"/>
<stop offset="1.0000" stop-color="#a50026"/>
</linearGradient>
<linearGradient id="bg14" x1="0" y1="0" x2="0" y2="1">
<stop offset="0.0000" stop-color="#323997"/>
<stop offset="0.4159" stop-color="#323997"/>
<stop offset="0.4339" stop-color="#323b97"/>
<stop offset="0.4520" stop-color="#34409a"/>
<stop offset="0.4701" stop-color="#374a9f"/>
<stop offset="0.4881" stop-color="#3c58a6"/>
<stop offset="0.5062" stop-color="#426caf"/>
<stop offset="0.5135" stop-color="#abd9e9"/>
<stop offset="0.5193" stop-color="#d8eff6"/>
<stop offset="0.5244" stop-color="#ffffbf"/>
<stop offset="0.5277" stop-color="#fed687"/>
<stop offset="0.5309" stop-color="#fa9a58"/>
<stop offset="0.5337" stop-color="#eb5b3b"/>
<stop offset="0.5428" stop-color="#db392b"/>
<stop offset="0.5610" stop-color="#d02927"/>
<stop offset="0.5959" stop-color="#be1826"/>
<stop offset="0.7093" stop-color="#b30d26"/>
<stop offset="0.9092" stop-color="#a70226"/>
<stop offset="1.0000" stop-color="#a50026"/>
</linearGradient>
<linearGradient id="bg15" x1="0" y1="0" x2="0" y2="1">
<stop offset="0.0000" stop-color="#323997"/>
<stop offset="0.4092" stop-color="#323997"/>
<stop offset="0.4267" stop-color="#333b97"/>
<stop offset="0.4442" stop-color="#35429b"/>
<stop offset="0.4617" stop-color="#394ea1"/>
<stop offset="0.4792" stop-color="#3e60aa"/>
<stop offset="0.4967" stop-color="#4879b6"/>
<stop offset="0.5063" stop-color="#abd9e9"/>
<stop offset="0.5139" stop-color="#d8eff6"/>
<stop offset="0.5206" stop-color="#ffffbf"/>
<stop offset="0.5243" stop-color="#fed687"/>
<stop offset="0.5279" stop-color="#fa9a58"/>
<stop offset="0.5311" stop-color="#eb5b3b"/>
<stop offset="0.5402" stop-color="#db392b"/>
<stop offset="0.5583" stop-color="#d02927"/>
<stop offset="0.6027" stop-color="#ad0826"/>
<stop offset="0.7066" stop-color="#b30d26"/>
<stop offset="0.9092" stop-color="#a70226"/>
<stop offset="1.0000" stop-color="#a50026"/>
</linearGradient>
<linearGradient id="bg16" x1="0" y1="0" x2="0" y2="1">
<stop offset="0.0000" stop-color="#323997"/>
<stop offset="0.3789" stop-color="#323997"/>
<stop offset="0.3999" stop-color="#333c98"/>
<stop offset="0.4209" stop-color="#36449c"/>
<stop offset="0.4419" stop-color="#3b54a4"/>
<stop offset="0.4629" stop-color="#426cb0"/>
<stop offset="0.4839" stop-color="#578abf"/>
<stop offset="0.4983" stop-color="#abd9e9"/>
<stop offset="0.5098" stop-color="#d8eff6"/>
<stop offset="0.5199" stop-color="#ffffbf"/>
<stop offset="0.5243" stop-color="#fed687"/>
<stop offset="0.5287" stop-color="#fa9a58"/>
<stop offset="0.5324" stop-color="#eb5b3b"/>
<stop offset="0.5415" stop-color="#db392b"/>
<stop offset="0.5597" stop-color="#d02927"/>
<stop offset="0.6362" stop-color="#b40e26"/>
<stop offset="0.7080" stop-color="#b30d26"/>
<stop offset="0.9092" stop-color="#a70226"/>
<stop offset="1.0000" stop-color="#a50026"/>
</linearGradient>
<linearGradient id="bg17" x1="0" y1="0" x2="0" y2="1">
<stop offset="0.0000" stop-color="#323997"/>
<stop offset="0.3449" stop-color="#323997"/>
<stop offset="0.3694" stop-color="#333c98"/>
<stop offset="0.3939" stop-color="#36479d"/>
<stop offset="0.4183" stop-color="#3d5ba7"/>
<stop offset="0.4428" stop-color="#4878b6"/>
<stop offset="0.4672" stop-color="#669cc8"/>
<stop offset="0.4862" stop-color="#abd9e9"/>
<stop offset="0.5013" stop-color="#d8eff6"/>
<stop offset="0.5145" stop-color="#ffffbf"/>
<stop offset="0.5198" stop-color="#fed687"/>
<stop offset="0.5251" stop-color="#fa9a58"/>
<stop offset="0.5297" stop-color="#eb5b3b"/>
<stop offset="0.5388" stop-color="#db392b"/>
<stop offset="0.5569" stop-color="#d02927"/>
<stop offset="0.6241" stop-color="#b10b26"/>
<stop offset="0.7052" stop-color="#b30d26"/>
<stop offset="0.9092" stop-color="#a70226"/>
<stop offset="1.0000" stop-color="#a50026"/>
</linearGradient>
<linearGradient id="bg18" x1="0" y1="0" x2="0" y2="1">
<stop offset="0.0000" stop-color="#323997"/>
<stop offset="0.2976" stop-color="#323997"/>
<stop offset="0.3283" stop-color="#333d98"/>
<stop offset="0.3590" stop-color="#374a9f"/>
<stop offset="0.3897" stop-color="#3f62ab"/>
<stop offset="0.4204" stop-color="#5285bc"/>
<stop offset="0.4511" stop-color="#77afd2"/>
<stop offset="0.4735" stop-color="#abd9e9"/>
<stop offset="0.4913" stop-color="#d8eff6"/>
<stop offset="0.5069" stop-color="#ffffbf"/>
<stop offset="0.5152" stop-color="#fed687"/>
<stop offset="0.5235" stop-color="#fa9a58"/>
<stop offset="0.5306" stop-color="#eb5b3b"/>
<stop offset="0.5397" stop-color="#db392b"/>
<stop offset="0.5579" stop-color="#d02927"/>
<stop offset="0.6312" stop-color="#b20c26"/>
<stop offset="0.7062" stop-color="#b30d26"/>
<stop offset="0.9092" stop-color="#a70226"/>
<stop offset="1.0000" stop-color="#a50026"/>
</linearGradient>
<linearGradient id="bg19" x1="0" y1="0" x2="0" y2="1">
<stop offset="0.0000" stop-color="#323997"/>
<stop offset="0.2637" stop-color="#323997"/>
<stop offset="0.2997" stop-color="#333d99"/>
<stop offset="0.3357" stop-color="#384ca0"/>
<stop offset="0.3717" stop-color="#4066ad"/>
<stop offset="0.4077" stop-color="#588cc0"/>
<stop offset="0.4437" stop-color="#82b8d7"/>
<stop offset="0.4679" stop-color="#abd9e9"/>
<stop offset="0.4872" stop-color="#d8eff6"/>
<stop offset="0.5041" stop-color="#ffffbf"/>
<stop offset="0.5136" stop-color="#fed687"/>
<stop offset="0.5231" stop-color="#fa9a58"/>
<stop offset="0.5312" stop-color="#eb5b3b"/>
<stop offset="0.5402" stop-color="#db392b"/>
<stop offset="0.5584" stop-color="#d02927"/>
<stop offset="0.6568" stop-color="#b71126"/>
<stop offset="0.7067" stop-color="#b30d26"/>
<stop offset="0.9092" stop-color="#a70226"/>
<stop offset="1.0000" stop-color="#a50026"/>
</linearGradient>
<linearGradient id="bg20" x1="0" y1="0" x2="0" y2="1">
<stop offset="0.0000" stop-color="#323997"/>
<stop offset="0.2380" stop-color="#323997"/>
<stop offset="0.2786" stop-color="#333d99"/>
<stop offset="0.3192" stop-color="#384da0"/>
<stop offset="0.3598" stop-color="#4169ae"/>
<stop offset="0.4003" stop-color="#5b90c2"/>
<stop offset="0.4409" stop-color="#89beda"/>
<stop offset="0.4660" stop-color="#abd9e9"/>
<stop offset="0.4861" stop-color="#d8eff6"/>
<stop offset="0.5036" stop-color="#ffffbf"/>
<stop offset="0.5133" stop-color="#fed687"/>
<stop offset="0.5230" stop-color="#fa9a58"/>
<stop offset="0.5312" stop-color="#eb5b3b"/>
<stop offset="0.5403" stop-color="#db392b"/>
<stop offset="0.5585" stop-color="#d02927"/>
<stop offset="0.6531" stop-color="#bf1927"/>
<stop offset="0.7068" stop-color="#b30d26"/>
<stop offset="0.9092" stop-color="#a70226"/>
<stop offset="1.0000" stop-color="#a50026"/>
</linearGradient>
<linearGradient id="bg21" x1="0" y1="0" x2="0" y2="1">
<stop offset="0.0000" stop-color="#323997"/>
<stop offset="0.2188" stop-color="#323997"/>
<stop offset="0.2624" stop-color="#333d99"/>
<stop offset="0.3060" stop-color="#384da0"/>
<stop offset="0.3495" stop-color="#4169ae"/>
<stop offset="0.3931" stop-color="#5c90c2"/>
<stop offset="0.4367" stop-color="#89beda"/>
<stop offset="0.4621" stop-color="#abd9e9"/>
<stop offset="0.4824" stop-color="#d8eff6"/>
<stop offset="0.5002" stop-color="#ffffbf"/>
<stop offset="0.5108" stop-color="#fed687"/>
<stop offset="0.5214" stop-color="#fa9a58"/>
<stop offset="0.5304" stop-color="#eb5b3b"/>
<stop offset="0.5395" stop-color="#db392b"/>
<stop offset="0.5576" stop-color="#d02927"/>
<stop offset="0.6377" stop-color="#c01a27"/>
<stop offset="0.7059" stop-color="#b30d26"/>
<stop offset="0.9092" stop-color="#a70226"/>
<stop offset="1.0000" stop-color="#a50026"/>
</linearGradient>
<linearGradient id="bg22" x1="0" y1="0" x2="0" y2="1">
<stop offset="0.0000" stop-color="#323997"/>
<stop offset="0.2037" stop-color="#323997"/>
<stop offset="0.2489" stop-color="#333d99"/>
<stop offset="0.2942" stop-color="#384ca0"/>
<stop offset="0.3394" stop-color="#4168ae"/>
<stop offset="0.3847" stop-color="#5a8ec1"/>
<stop offset="0.4299" stop-color="#86bcd9"/>
<stop offset="0.4553" stop-color="#abd9e9"/>
<stop offset="0.4757" stop-color="#d8eff6"/>
<stop offset="0.4935" stop-color="#ffffbf"/>
<stop offset="0.5063" stop-color="#fed687"/>
<stop offset="0.5192" stop-color="#fa9a58"/>
<stop offset="0.5302" stop-color="#eb5b3b"/>
<stop offset="0.5393" stop-color="#db392b"/>
<stop offset="0.5574" stop-color="#d02927"/>
<stop offset="0.6606" stop-color="#bd1726"/>
<stop offset="0.7057" stop-color="#b30d26"/>
<stop offset="0.9092" stop-color="#a70226"/>
<stop offset="1.0000" stop-color="#a50026"/>
</linearGradient>
<linearGradient id="bg23" x1="0" y1="0" x2="0" y2="1">
<stop offset="0.0000" stop-color="#323997"/>
<stop offset="0.1979" stop-color="#323997"/>
<stop offset="0.2442" stop-color="#333d99"/>
<stop offset="0.2904" stop-color="#384ca0"/>
<stop offset="0.3367" stop-color="#4066ad"/>
<stop offset="0.3829" stop-color="#578bbf"/>
<stop offset="0.4292" stop-color="#81b8d7"/>
<stop offset="0.4546" stop-color="#abd9e9"/>
<stop offset="0.4750" stop-color="#d8eff6"/>
<stop offset="0.4928" stop-color="#ffffbf"/>
<stop offset="0.5064" stop-color="#fed687"/>
<stop offset="0.5200" stop-color="#fa9a58"/>
<stop offset="0.5317" stop-color="#eb5b3b"/>
<stop offset="0.5408" stop-color="#db392b"/>
<stop offset="0.5590" stop-color="#d02927"/>
<stop offset="0.6310" stop-color="#be1827"/>
<stop offset="0.7073" stop-color="#b30d26"/>
<stop offset="0.9092" stop-color="#a70226"/>
<stop offset="1.0000" stop-color="#a50026"/>
</linearGradient>
<linearGradient id="bg24" x1="0" y1="0" x2="0" y2="1">
<stop offset="0.0000" stop-color="#323997"/>
<stop offset="0.1979" stop-color="#323997"/>
<stop offset="0.2446" stop-color="#333d98"/>
<stop offset="0.2912" stop-color="#384b9f"/>
<stop offset="0.3378" stop-color="#3f64ab"/>
<stop offset="0.3844" stop-color="#5487bd"/>
<stop offset="0.4310" stop-color="#7bb2d4"/>
<stop offset="0.4565" stop-color="#abd9e9"/>
<stop offset="0.4768" stop-color="#d8eff6"/>
<stop offset="0.4946" stop-color="#ffffbf"/>
<stop offset="0.5074" stop-color="#fed687"/>
<stop offset="0.5203" stop-color="#fa9a58"/>
<stop offset="0.5313" stop-color="#eb5b3b"/>
<stop offset="0.5404" stop-color="#db392b"/>
<stop offset="0.5586" stop-color="#d02927"/>
<stop offset="0.6512" stop-color="#af0926"/>
<stop offset="0.7069" stop-color="#b30d26"/>
<stop offset="0.9092" stop-color="#a70226"/>
<stop offset="1.0000" stop-color="#a50026"/>
</linearGradient>
<linearGradient id="bg25" x1="0" y1="0" x2="0" y2="1">
<stop offset="0.0000" stop-color="#323997"/>
<stop offset="0.2036" stop-color="#323997"/>
<stop offset="0.2485" stop-color="#333d98"/>
<stop offset="0.2934" stop-color="#374a9f"/>
<stop offset="0.3384" stop-color="#3f62ab"/>
<stop offset="0.3833" stop-color="#5284bc"/>
<stop offset="0.4282" stop-color="#77afd2"/>
<stop offset="0.4537" stop-color="#abd9e9"/>
<stop offset="0.4740" stop-color="#d8eff6"/>
<stop offset="0.4918" stop-color="#ffffbf"/>
<stop offset="0.5053" stop-color="#fed687"/>
<stop offset="0.5188" stop-color="#fa9a58"/>
<stop offset="0.5303" stop-color="#eb5b3b"/>
<stop offset="0.5394" stop-color="#db392b"/>
<stop offset="0.5576" stop-color="#d02927"/>
<stop offset="0.6072" stop-color="#b71126"/>
<stop offset="0.7059" stop-color="#b30d26"/>
<stop offset="0.9092" stop-color="#a70226"/>
<stop offset="1.0000" stop-color="#a50026"/>
</linearGradient>
<linearGradient id="bg26" x1="0" y1="0" x2="0" y2="1">
<stop offset="0.0000" stop-color="#323997"/>
<stop offset="0.2127" stop-color="#323997"/>
<stop offset="0.2543" stop-color="#333d98"/>
<stop offset="0.2960" stop-color="#37499f"/>
<stop offset="0.3377" stop-color="#3f61aa"/>
<stop offset="0.3793" stop-color="#5082bb"/>
<stop offset="0.4210" stop-color="#74acd1"/>
<stop offset="0.4464" stop-color="#abd9e9"/>
<stop offset="0.4668" stop-color="#d8eff6"/>
<stop offset="0.4846" stop-color="#ffffbf"/>
<stop offset="0.5005" stop-color="#fed687"/>
<stop offset="0.5164" stop-color="#fa9a58"/>
<stop offset="0.5300" stop-color="#eb5b3b"/>
<stop offset="0.5391" stop-color="#db392b"/>
<stop offset="0.5572" stop-color="#d02927"/>
<stop offset="0.6623" stop-color="#bd1726"/>
<stop offset="0.7055" stop-color="#b30d26"/>
<stop offset="0.9092" stop-color="#a70226"/>
<stop offset="1.0000" stop-color="#a50026"/>
</linearGradient>
<linearGradient id="bg27" x1="0" y1="0" x2="0" y2="1">
<stop offset="0.0000" stop-color="#323997"/>
<stop offset="0.2180" stop-color="#323997"/>
<stop offset="0.2588" stop-color="#333d98"/>
<stop offset="0.2996" stop-color="#374a9f"/>
<stop offset="0.3404" stop-color="#3f62ab"/>
<stop offset="0.3812" stop-color="#5284bc"/>
<stop offset="0.4220" stop-color="#76afd2"/>
<stop offset="0.4474" stop-color="#abd9e9"/>
<stop offset="0.4678" stop-color="#d8eff6"/>
<stop offset="0.4856" stop-color="#ffffbf"/>
<stop offset="0.5018" stop-color="#fed687"/>
<stop offset="0.5181" stop-color="#fa9a58"/>
<stop offset="0.5320" stop-color="#eb5b3b"/>
<stop offset="0.5411" stop-color="#db392b"/>
<stop offset="0.5592" stop-color="#d02927"/>
<stop offset="0.6495" stop-color="#ac0726"/>
<stop offset="0.7075" stop-color="#b30d26"/>
<stop offset="0.9092" stop-color="#a70226"/>
<stop offset="1.0000" stop-color="#a50026"/>
</linearGradient>
<linearGradient id="bg28" x1="0" y1="0" x2="0" y2="1">
<stop offset="0.0000" stop-color="#323997"/>
<stop offset="0.2210" stop-color="#323997"/>
<stop offset="0.2614" stop-color="#333d98"/>
<stop offset="0.3017" stop-color="#384b9f"/>
<stop offset="0.3421" stop-color="#4064ac"/>
<stop offset="0.3824" stop-color="#5588be"/>
<stop offset="0.4228" stop-color="#7cb4d5"/>
<stop offset="0.4482" stop-color="#abd9e9"/>
<stop offset="0.4686" stop-color="#d8eff6"/>
<stop offset="0.4864" stop-color="#ffffbf"/>
<stop offset="0.5019" stop-color="#fed687"/>
<stop offset="0.5174" stop-color="#fa9a58"/>
<stop offset="0.5307" stop-color="#eb5b3b"/>
<stop offset="0.5398" stop-color="#db392b"/>
<stop offset="0.5579" stop-color="#d02927"/>
<stop offset="0.6083" stop-color="#ad0826"/>
<stop offset="0.7062" stop-color="#b30d26"/>
<stop offset="0.9092" stop-color="#a70226"/>
<stop offset="1.0000" stop-color="#a50026"/>
</linearGradient>
<linearGradient id="bg29" x1="0" y1="0" x2="0" y2="1">
<stop offset="0.0000" stop-color="#323997"/>
<stop offset="0.2184" stop-color="#323997"/>
<stop offset="0.2590" stop-color="#333d99"/>
<stop offset="0.2996" stop-color="#384ca0"/>
<stop offset="0.3403" stop-color="#4066ad"/>
<stop offset="0.3809" stop-color="#588cc0"/>
<stop offset="0.4215" stop-color="#82b8d7"/>
<stop offset="0.4475" stop-color="#abd9e9"/>
<stop offset="0.4683" stop-color="#d8eff6"/>
<stop offset="0.4865" stop-color="#ffffbf"/>
<stop offset="0.5021" stop-color="#fed687"/>
<stop offset="0.5177" stop-color="#fa9a58"/>
<stop offset="0.5311" stop-color="#eb5b3b"/>
<stop offset="0.5402" stop-color="#db392b"/>
<stop offset="0.5583" stop-color="#d02927"/>
<stop offset="0.6543" stop-color="#bb1526"/>
<stop offset="0.7066" stop-color="#b30d26"/>
<stop offset="0.9092" stop-color="#a70226"/>
<stop offset="1.0000" stop-color="#a50026"/>
</linearGradient>
<linearGradient id="bg30" x1="0" y1="0" x2="0" y2="1">
<stop offset="0.0000" stop-color="#323997"/>
<stop offset="0.2123" stop-color="#323997"/>
<stop offset="0.2529" stop-color="#333d99"/>
<stop offset="0.2934" stop-color="#384da0"/>
<stop offset="0.3340" stop-color="#4169ae"/>
<stop offset="0.3745" stop-color="#5b90c2"/>
<stop offset="0.4151" stop-color="#89beda"/>
<stop offset="0.4420" stop-color="#abd9e9"/>
<stop offset="0.4635" stop-color="#d8eff6"/>
<stop offset="0.4823" stop-color="#ffffbf"/>
<stop offset="0.4990" stop-color="#fed687"/>
<stop offset="0.5156" stop-color="#fa9a58"/>
<stop offset="0.5299" stop-color="#eb5b3b"/>
<stop offset="0.5390" stop-color="#db392b"/>
<stop offset="0.5572" stop-color="#d02927"/>
<stop offset="0.5879" stop-color="#b81226"/>
<stop offset="0.7055" stop-color="#b30d26"/>
<stop offset="0.9092" stop-color="#a70226"/>
<stop offset="1.0000" stop-color="#a50026"/>
</linearGradient>
<linearGradient id="bg31" x1="0" y1="0" x2="0" y2="1">
<stop offset="0.0000" stop-color="#323997"/>
<stop offset="0.2063" stop-color="#323997"/>
<stop offset="0.2481" stop-color="#333e99"/>
<stop offset="0.2899" stop-color="#384ea1"/>
<stop offset="0.3317" stop-color="#426baf"/>
<stop offset="0.3736" stop-color="#5e93c4"/>
<stop offset="0.4154" stop-color="#8ec2dc"/>
<stop offset="0.4432" stop-color="#abd9e9"/>
<stop offset="0.4654" stop-color="#d8eff6"/>
<stop offset="0.4849" stop-color="#ffffbf"/>
<stop offset="0.5014" stop-color="#fed687"/>
<stop offset="0.5179" stop-color="#fa9a58"/>
<stop offset="0.5320" stop-color="#eb5b3b"/>
<stop offset="0.5411" stop-color="#db392b"/>
<stop offset="0.5593" stop-color="#d02927"/>
<stop offset="0.6126" stop-color="#ba1426"/>
<stop offset="0.7076" stop-color="#b30d26"/>
<stop offset="0.9092" stop-color="#a70226"/>
<stop offset="1.0000" stop-color="#a50026"/>
</linearGradient>
<linearGradient id="bg32" x1="0" y1="0" x2="0" y2="1">
<stop offset="0.0000" stop-color="#323997"/>
<stop offset="0.2002" stop-color="#323997"/>
<stop offset="0.2443" stop-color="#333e99"/>
<stop offset="0.2883" stop-color="#394ea1"/>
<stop offset="0.3323" stop-color="#426db0"/>
<stop offset="0.3763" stop-color="#6196c5"/>
<stop offset="0.4204" stop-color="#93c6df"/>
<stop offset="0.4491" stop-color="#abd9e9"/>
<stop offset="0.4720" stop-color="#d8eff6"/>
<stop offset="0.4921" stop-color="#ffffbf"/>
<stop offset="0.5060" stop-color="#fed687"/>
<stop offset="0.5198" stop-color="#fa9a58"/>
<stop offset="0.5317" stop-color="#eb5b3b"/>
<stop offset="0.5407" stop-color="#db392b"/>
<stop offset="0.5589" stop-color="#d02927"/>
<stop offset="0.6259" stop-color="#c01a27"/>
<stop offset="0.7072" stop-color="#b30d26"/>
<stop offset="0.9092" stop-color="#a70226"/>
<stop offset="1.0000" stop-color="#a50026"/>
</linearGradient>
<linearGradient id="bg33" x1="0" y1="0" x2="0" y2="1">
<stop offset="0.0000" stop-color="#323997"/>
<stop offset="0.1961" stop-color="#323997"/>
<stop offset="0.2405" stop-color="#333e99"/>
<stop offset="0.2850" stop-color="#394fa1"/>
<stop offset="0.3295" stop-color="#436db0"/>
<stop offset="0.3740" stop-color="#6297c6"/>
<stop offset="0.4185" stop-color="#95c7df"/>
<stop offset="0.4475" stop-color="#abd9e9"/>
<stop offset="0.4708" stop-color="#d8eff6"/>
<stop offset="0.4911" stop-color="#ffffbf"/>
<stop offset="0.5047" stop-color="#fed687"/>
<stop offset="0.5183" stop-color="#fa9a58"/>
<stop offset="0.5299" stop-color="#eb5b3b"/>
<stop offset="0.5390" stop-color="#db392b"/>
<stop offset="0.5571" stop-color="#d02927"/>
<stop offset="0.6087" stop-color="#c01a27"/>
<stop offset="0.7054" stop-color="#b30d26"/>
<stop offset="0.9092" stop-color="#a70226"/>
<stop offset="1.0000" stop-color="#a50026"/>
</linearGradient>
<linearGradient id="bg34" x1="0" y1="0" x2="0" y2="1">
<stop offset="0.0000" stop-color="#323997"/>
<stop offset="0.1930" stop-color="#323997"/>
<stop offset="0.2370" stop-color="#333e99"/>
<stop offset="0.2809" stop-color="#394fa1"/>
<stop offset="0.3249" stop-color="#436db0"/>
<stop offset="0.3688" stop-color="#6297c6"/>
<stop offset="0.4127" stop-color="#95c7df"/>
<stop offset="0.4418" stop-color="#abd9e9"/>
<stop offset="0.4650" stop-color="#d8eff6"/>
<stop offset="0.4854" stop-color="#ffffbf"/>
<stop offset="0.5010" stop-color="#fed687"/>
<stop offset="0.5166" stop-color="#fa9a58"/>
<stop offset="0.5300" stop-color="#eb5b3b"/>
<stop offset="0.5391" stop-color="#db392b"/>
<stop offset="0.5572" stop-color="#d02927"/>
<stop offset="0.5869" stop-color="#b71226"/>
<stop offset="0.7055" stop-color="#b30d26"/>
<stop offset="0.9092" stop-color="#a70226"/>
<stop offset="1.0000" stop-color="#a50026"/>
</linearGradient>
<linearGradient id="bg35" x1="0" y1="0" x2="0" y2="1">
<stop offset="0.0000" stop-color="#323997"/>
<stop offset="0.1956" stop-color="#323997"/>
<stop offset="0.2399" stop-color="#333e99"/>
<stop offset="0.2841" stop-color="#394ea1"/>
<stop offset="0.3284" stop-color="#426db0"/>
<stop offset="0.3726" stop-color="#6196c5"/>
<stop offset="0.4169" stop-color="#93c6df"/>
<stop offset="0.4453" stop-color="#abd9e9"/>
<stop offset="0.4681" stop-color="#d8eff6"/>
<stop offset="0.4881" stop-color="#ffffbf"/>
<stop offset="0.5034" stop-color="#fed687"/>
<stop offset="0.5188" stop-color="#fa9a58"/>
<stop offset="0.5320" stop-color="#eb5b3b"/>
<stop offset="0.5410" stop-color="#db392b"/>
<stop offset="0.5592" stop-color="#d02927"/>
<stop offset="0.6185" stop-color="#ae0926"/>
<stop offset="0.7075" stop-color="#b30d26"/>
<stop offset="0.9092" stop-color="#a70226"/>
<stop offset="1.0000" stop-color="#a50026"/>
</linearGradient>
<linearGradient id="bg36" x1="0" y1="0" x2="0" y2="1">
<stop offset="0.0000" stop-color="#323997"/>
<stop offset="0.2017" stop-color="#323997"/>
<stop offset="0.2460" stop-color="#333e99"/>
<stop offset="0.2904" stop-color="#394ea1"/>
<stop offset="0.3347" stop-color="#426baf"/>
<stop offset="0.3791" stop-color="#5f94c4"/>
<stop offset="0.4234" stop-color="#90c3dd"/>
<stop offset="0.4510" stop-color="#abd9e9"/>
<stop offset="0.4731" stop-color="#d8eff6"/>
<stop offset="0.4924" stop-color="#ffffbf"/>
<stop offset="0.5059" stop-color="#fed687"/>
<stop offset="0.5195" stop-color="#fa9a58"/>
<stop offset="0.5311" stop-color="#eb5b3b"/>
<stop offset="0.5402" stop-color="#db392b"/>
<stop offset="0.5583" stop-color="#d02927"/>
<stop offset="0.5889" stop-color="#ae0826"/>
<stop offset="0.7066" stop-color="#b30d26"/>
<stop offset="0.9092" stop-color="#a70226"/>
<stop offset="1.0000" stop-color="#a50026"/>
</linearGradient>
<linearGradient id="bg37" x1="0" y1="0" x2="0" y2="1">
<stop offset="0.0000" stop-color="#323997"/>
<stop offset="0.2077" stop-color="#323997"/>
<stop offset="0.2514" stop-color="#333d99"/>
<stop offset="0.2950" stop-color="#384da0"/>
<stop offset="0.3387" stop-color="#416aaf"/>
<stop offset="0.3823" stop-color="#5d91c3"/>
<stop offset="0.4259" stop-color="#8cc0db"/>
<stop offset="0.4526" stop-color="#abd9e9"/>
<stop offset="0.4739" stop-color="#d8eff6"/>
<stop offset="0.4926" stop-color="#ffffbf"/>
<stop offset="0.5057" stop-color="#fed687"/>
<stop offset="0.5189" stop-color="#fa9a58"/>
<stop offset="0.5301" stop-color="#eb5b3b"/>
<stop offset="0.5392" stop-color="#db392b"/>
<stop offset="0.5574" stop-color="#d02927"/>
<stop offset="0.6093" stop-color="#be1826"/>
<stop offset="0.7057" stop-color="#b30d26"/>
<stop offset="0.9092" stop-color="#a70226"/>
<stop offset="1.0000" stop-color="#a50026"/>
</linearGradient>
<linearGradient id="bg38" x1="0" y1="0" x2="0" y2="1">
<stop offset="0.0000" stop-color="#323997"/>
<stop offset="0.2138" stop-color="#323997"/>
<stop offset="0.2577" stop-color="#333d99"/>
<stop offset="0.3015" stop-color="#384ca0"/>
<stop offset="0.3454" stop-color="#4168ae"/>
<stop offset="0.3892" stop-color="#5a8ec1"/>
<stop offset="0.4330" stop-color="#87bcd9"/>
<stop offset="0.4588" stop-color="#abd9e9"/>
<stop offset="0.4794" stop-color="#d8eff6"/>
<stop offset="0.4975" stop-color="#ffffbf"/>
<stop offset="0.5091" stop-color="#fed687"/>
<stop offset="0.5207" stop-color="#fa9a58"/>
<stop offset="0.5306" stop-color="#eb5b3b"/>
<stop offset="0.5397" stop-color="#db392b"/>
<stop offset="0.5578" stop-color="#d02927"/>
<stop offset="0.6148" stop-color="#be1827"/>
<stop offset="0.7061" stop-color="#b30d26"/>
<stop offset="0.9092" stop-color="#a70226"/>
<stop offset="1.0000" stop-color="#a50026"/>
</linearGradient>
<linearGradient id="bg39" x1="0" y1="0" x2="0" y2="1">
<stop offset="0.0000" stop-color="#323997"/>
<stop offset="0.2217" stop-color="#323997"/>
<stop offset="0.2643" stop-color="#333d99"/>
<stop offset="0.3068" stop-color="#384ca0"/>
<stop offset="0.3493" stop-color="#4066ad"/>
<stop offset="0.3919" stop-color="#578bbf"/>
<stop offset="0.4344" stop-color="#81b8d7"/>
<stop offset="0.4593" stop-color="#abd9e9"/>
<stop offset="0.4792" stop-color="#d8eff6"/>
<stop offset="0.4966" stop-color="#ffffbf"/>
<stop offset="0.5076" stop-color="#fed687"/>
<stop offset="0.5187" stop-color="#fa9a58"/>
<stop offset="0.5282" stop-color="#eb5b3b"/>
<stop offset="0.5373" stop-color="#db392b"/>
<stop offset="0.5554" stop-color="#d02927"/>
<stop offset="0.6236" stop-color="#b40f26"/>
<stop offset="0.7037" stop-color="#b30d26"/>
<stop offset="0.9092" stop-color="#a70226"/>
<stop offset="1.0000" stop-color="#a50026"/>
</linearGradient>
<linearGradient id="bg40" x1="0" y1="0" x2="0" y2="1">
<stop offset="0.0000" stop-color="#323997"/>
<stop offset="0.2308" stop-color="#323997"/>
<stop offset="0.2721" stop-color="#333d98"/>
<stop offset="0.3133" stop-color="#384b9f"/>
<stop offset="0.3546" stop-color="#3f64ab"/>
<stop offset="0.3958" stop-color="#5487bd"/>
<stop offset="0.4371" stop-color="#7bb2d4"/>
<stop offset="0.4610" stop-color="#abd9e9"/>
<stop offset="0.4802" stop-color="#d8eff6"/>
<stop offset="0.4970" stop-color="#ffffbf"/>
<stop offset="0.5084" stop-color="#fed687"/>
<stop offset="0.5198" stop-color="#fa9a58"/>
<stop offset="0.5297" stop-color="#eb5b3b"/>
<stop offset="0.5387" stop-color="#db392b"/>
<stop offset="0.5569" stop-color="#d02927"/>
<stop offset="0.6281" stop-color="#b71226"/>
<stop offset="0.7052" stop-color="#b30d26"/>
<stop offset="0.9092" stop-color="#a70226"/>
<stop offset="1.0000" stop-color="#a50026"/>
</linearGradient>
<linearGradient id="bg41" x1="0" y1="0" x2="0" y2="1">
<stop offset="0.0000" stop-color="#323997"/>
<stop offset="0.2418" stop-color="#323997"/>
<stop offset="0.2815" stop-color="#333d98"/>
<stop offset="0.3211" stop-color="#374a9f"/>
<stop offset="0.3608" stop-color="#3f61aa"/>
<stop offset="0.4005" stop-color="#5183bb"/>
<stop offset="0.4402" stop-color="#74add1"/>
<stop offset="0.4633" stop-color="#abd9e9"/>
<stop offset="0.4817" stop-color="#d8eff6"/>
<stop offset="0.4978" stop-color="#ffffbf"/>
<stop offset="0.5087" stop-color="#fed687"/>
<stop offset="0.5196" stop-color="#fa9a58"/>
<stop offset="0.5290" stop-color="#eb5b3b"/>
<stop offset="0.5381" stop-color="#db392b"/>
<stop offset="0.5562" stop-color="#d02927"/>
<stop offset="0.6575" stop-color="#b81226"/>
<stop offset="0.7045" stop-color="#b30d26"/>
<stop offset="0.9092" stop-color="#a70226"/>
<stop offset="1.0000" stop-color="#a50026"/>
</linearGradient>
<linearGradient id="bg42" x1="0" y1="0" x2="0" y2="1">
<stop offset="0.0000" stop-color="#323997"/>
<stop offset="0.2539" stop-color="#323997"/>
<stop offset="0.2917" stop-color="#333d98"/>
<stop offset="0.3296" stop-color="#37499e"/>
<stop offset="0.3675" stop-color="#3e5fa9"/>
<stop offset="0.4054" stop-color="#4d7fb9"/>
<stop offset="0.4432" stop-color="#6fa7ce"/>
<stop offset="0.4654" stop-color="#abd9e9"/>
<stop offset="0.4831" stop-color="#d8eff6"/>
<stop offset="0.4986" stop-color="#ffffbf"/>
<stop offset="0.5094" stop-color="#fed687"/>
<stop offset="0.5201" stop-color="#fa9a58"/>
<stop offset="0.5294" stop-color="#eb5b3b"/>
<stop offset="0.5385" stop-color="#db392b"/>
<stop offset="0.5566" stop-color="#d02927"/>
<stop offset="0.6405" stop-color="#b40e26"/>
<stop offset="0.7049" stop-color="#b30d26"/>
<stop offset="0.9092" stop-color="#a70226"/>
<stop offset="1.0000" stop-color="#a50026"/>
</linearGradient>
<linearGradient id="bg43" x1="0" y1="0" x2="0" y2="1">
<stop offset="0.0000" stop-color="#323997"/>
<stop offset="0.2679" stop-color="#323997"/>
<stop offset="0.3037" stop-color="#333c98"/>
<stop offset="0.3395" stop-color="#37479e"/>
<stop offset="0.3753" stop-color="#3d5ca8"/>
<stop offset="0.4112" stop-color="#497ab7"/>
<stop offset="0.4470" stop-color="#689fca"/>
<stop offset="0.4682" stop-color="#abd9e9"/>
<stop offset="0.4852" stop-color="#d8eff6"/>
<stop offset="0.5001" stop-color="#ffffbf"/>
<stop offset="0.5103" stop-color="#fed687"/>
<stop offset="0.5206" stop-color="#fa9a58"/>
<stop offset="0.5293" stop-color="#eb5b3b"/>
<stop offset="0.5384" stop-color="#db392b"/>
<stop offset="0.5566" stop-color="#d02927"/>
<stop offset="0.6075" stop-color="#af0a26"/>
<stop offset="0.7049" stop-color="#b30d26"/>
<stop offset="0.9092" stop-color="#a70226"/>
<stop offset="1.0000" stop-color="#a50026"/>
</linearGradient>
<linearGradient id="bg44" x1="0" y1="0" x2="0" y2="1">
<stop offset="0.0000" stop-color="#323997"/>
<stop offset="0.2830" stop-color="#323997"/>
<stop offset="0.3175" stop-color="#333c98"/>
<stop offset="0.3521" stop-color="#36469d"/>
<stop offset="0.3866" stop-color="#3c58a6"/>
<stop offset="0.4211" stop-color="#4574b3"/>
<stop offset="0.4557" stop-color="#6095c5"/>
<stop offset="0.4760" stop-color="#abd9e9"/>
<stop offset="0.4922" stop-color="#d8eff6"/>
<stop offset="0.5065" stop-color="#ffffbf"/>
<stop offset="0.5148" stop-color="#fed687"/>
<stop offset="0.5232" stop-color="#fa9a58"/>
<stop offset="0.5303" stop-color="#eb5b3b"/>
<stop offset="0.5394" stop-color="#db392b"/>
<stop offset="0.5576" stop-color="#d02927"/>
<stop offset="0.6280" stop-color="#b61026"/>
<stop offset="0.7059" stop-color="#b30d26"/>
<stop offset="0.9092" stop-color="#a70226"/>
<stop offset="1.0000" stop-color="#a50026"/>
</linearGradient>
<linearGradient id="bg45" x1="0" y1="0" x2="0" y2="1">
<stop offset="0.0000" stop-color="#323997"/>
<stop offset="0.3009" stop-color="#323997"/>
<stop offset="0.3331" stop-color="#333c98"/>
<stop offset="0.3653" stop-color="#36449c"/>
<stop offset="0.3975" stop-color="#3b55a4"/>
<stop offset="0.4297" stop-color="#426db0"/>
<stop offset="0.4619" stop-color="#588bbf"/>
<stop offset="0.4795" stop-color="#abd9e9"/>
<stop offset="0.4935" stop-color="#d8eff6"/>
<stop offset="0.5058" stop-color="#ffffbf"/>
<stop offset="0.5136" stop-color="#fed687"/>
<stop offset="0.5214" stop-color="#fa9a58"/>
<stop offset="0.5281" stop-color="#eb5b3b"/>
<stop offset="0.5372" stop-color="#db392b"/>
<stop offset="0.5554" stop-color="#d02927"/>
<stop offset="0.6153" stop-color="#aa0526"/>
<stop offset="0.7037" stop-color="#b30d26"/>
<stop offset="0.9092" stop-color="#a70226"/>
<stop offset="1.0000" stop-color="#a50026"/>
</linearGradient>
<linearGradient id="bg46" x1="0" y1="0" x2="0" y2="1">
<stop offset="0.0000" stop-color="#323997"/>
<stop offset="0.3206" stop-color="#323997"/>
<stop offset="0.3508" stop-color="#333b98"/>
<stop offset="0.3809" stop-color="#35439b"/>
<stop offset="0.4111" stop-color="#3a51a2"/>
<stop offset="0.4412" stop-color="#4066ad"/>
<stop offset="0.4714" stop-color="#4f81ba"/>
<stop offset="0.4850" stop-color="#abd9e9"/>
<stop offset="0.4959" stop-color="#d8eff6"/>
<stop offset="0.5054" stop-color="#ffffbf"/>
<stop offset="0.5138" stop-color="#fed687"/>
<stop offset="0.5223" stop-color="#fa9a58"/>
<stop offset="0.5295" stop-color="#eb5b3b"/>
<stop offset="0.5386" stop-color="#db392b"/>
<stop offset="0.5568" stop-color="#d02927"/>
<stop offset="0.6325" stop-color="#aa0526"/>
<stop offset="0.7051" stop-color="#b30d26"/>
<stop offset="0.9092" stop-color="#a70226"/>
<stop offset="1.0000" stop-color="#a50026"/>
</linearGradient>
<linearGradient id="bg47" x1="0" y1="0" x2="0" y2="1">
<stop offset="0.0000" stop-color="#323997"/>
<stop offset="0.3459" stop-color="#323997"/>
<stop offset="0.3721" stop-color="#333b97"/>
<stop offset="0.3982" stop-color="#35429b"/>
<stop offset="0.4244" stop-color="#394ea1"/>
<stop offset="0.4506" stop-color="#3f61aa"/>
<stop offset="0.4767" stop-color="#4879b6"/>
<stop offset="0.4885" stop-color="#abd9e9"/>
<stop offset="0.4979" stop-color="#d8eff6"/>
<stop offset="0.5061" stop-color="#ffffbf"/>
<stop offset="0.5140" stop-color="#fed687"/>
<stop offset="0.5219" stop-color="#fa9a58"/>
<stop offset="0.5287" stop-color="#eb5b3b"/>
<stop offset="0.5378" stop-color="#db392b"/>
<stop offset="0.5559" stop-color="#d02927"/>
<stop offset="0.5879" stop-color="#b81226"/>
<stop offset="0.7042" stop-color="#b30d26"/>
<stop offset="0.9092" stop-color="#a70226"/>
<stop offset="1.0000" stop-color="#a50026"/>
</linearGradient>
<linearGradient id="bg48" x1="0" y1="0" x2="0" y2="1">
<stop offset="0.0000" stop-color="#323997"/>
<stop offset="0.3747" stop-color="#323997"/>
<stop offset="0.3957" stop-color="#333b97"/>
<stop offset="0.4167" stop-color="#34419a"/>
<stop offset="0.4378" stop-color="#384ca0"/>
<stop offset="0.4588" stop-color="#3d5ca8"/>
<stop offset="0.4799" stop-color="#4472b2"/>
<stop offset="0.4910" stop-color="#abd9e9"/>
<stop offset="0.4999" stop-color="#d8eff6"/>
<stop offset="0.5077" stop-color="#ffffbf"/>
<stop offset="0.5149" stop-color="#fed687"/>
<stop offset="0.5222" stop-color="#fa9a58"/>
<stop offset="0.5284" stop-color="#eb5b3b"/>
<stop offset="0.5375" stop-color="#db392b"/>
<stop offset="0.5556" stop-color="#d02927"/>
<stop offset="0.6363" stop-color="#b40f26"/>
<stop offset="0.7039" stop-color="#b30d26"/>
<stop offset="0.9092" stop-color="#a70226"/>
<stop offset="1.0000" stop-color="#a50026"/>
</linearGradient>
<linearGradient id="bg49" x1="0" y1="0" x2="0" y2="1">
<stop offset="0.0000" stop-color="#323997"/>
<stop offset="0.3856" stop-color="#323997"/>
<stop offset="0.4043" stop-color="#323b97"/>
<stop offset="0.4229" stop-color="#34409a"/>
<stop offset="0.4416" stop-color="#37499e"/>
<stop offset="0.4603" stop-color="#3b57a5"/>
<stop offset="0.4790" stop-color="#416aae"/>
<stop offset="0.4899" stop-color="#abd9e9"/>
<stop offset="0.4986" stop-color="#d8eff6"/>
<stop offset="0.5062" stop-color="#ffffbf"/>
<stop offset="0.5137" stop-color="#fed687"/>
<stop offset="0.5211" stop-color="#fa9a58"/>
<stop offset="0.5275" stop-color="#eb5b3b"/>
<stop offset="0.5366" stop-color="#db392b"/>
<stop offset="0.5548" stop-color="#d02927"/>
<stop offset="0.6376" stop-color="#b20c26"/>
<stop offset="0.7031" stop-color="#b30d26"/>
<stop offset="0.9092" stop-color="#a70226"/>
<stop offset="1.0000" stop-color="#a50026"/>
</linearGradient>
<linearGradient id="bg50" x1="0" y1="0" x2="0" y2="1">
<stop offset="0.0000" stop-color="#323997"/>
<stop offset="0.4547" stop-color="#323997"/>
<stop offset="0.4789" stop-color="#3f62ab"/>
<stop offset="0.4898" stop-color="#abd9e9"/>
<stop offset="0.4985" stop-color="#d8eff6"/>
<stop offset="0.5061" stop-color="#ffffbf"/>
<stop offset="0.5139" stop-color="#fed687"/>
<stop offset="0.5217" stop-color="#fa9a58"/>
<stop offset="0.5284" stop-color="#eb5b3b"/>
<stop offset="0.5374" stop-color="#db392b"/>
<stop offset="0.5556" stop-color="#d02927"/>
<stop offset="0.5876" stop-color="#aa0526"/>
<stop offset="0.7039" stop-color="#b30d26"/>
<stop offset="0.9092" stop-color="#a70226"/>
<stop offset="1.0000" stop-color="#a50026"/>
</linearGradient>
<linearGradient id="bg51" x1="0" y1="0" x2="0" y2="1">
<stop offset="0.0000" stop-color="#323997"/>
<stop offset="0.4582" stop-color="#323997"/>
<stop offset="0.4824" stop-color="#3f62ab"/>
<stop offset="0.4926" stop-color="#abd9e9"/>
<stop offset="0.5009" stop-color="#d8eff6"/>
<stop offset="0.5081" stop-color="#ffffbf"/>
<stop offset="0.5150" stop-color="#fed687"/>
<stop offset="0.5220" stop-color="#fa9a58"/>
<stop offset="0.5280" stop-color="#eb5b3b"/>
<stop offset="0.5371" stop-color="#db392b"/>
<stop offset="0.5552" stop-color="#d02927"/>
<stop offset="0.6583" stop-color="#b91326"/>
<stop offset="0.7035" stop-color="#b30d26"/>
<stop offset="0.9092" stop-color="#a70226"/>
<stop offset="1.0000" stop-color="#a50026"/>
</linearGradient>
<linearGradient id="bg52" x1="0" y1="0" x2="0" y2="1">
<stop offset="0.0000" stop-color="#323997"/>
<stop offset="0.4587" stop-color="#323997"/>
<stop offset="0.4829" stop-color="#3f62ab"/>
<stop offset="0.4926" stop-color="#abd9e9"/>
<stop offset="0.5003" stop-color="#d8eff6"/>
<stop offset="0.5071" stop-color="#ffffbf"/>
<stop offset="0.5147" stop-color="#fed687"/>
<stop offset="0.5223" stop-color="#fa9a58"/>
<stop offset="0.5288" stop-color="#eb5b3b"/>
<stop offset="0.5379" stop-color="#db392b"/>
<stop offset="0.5561" stop-color="#d02927"/>
<stop offset="0.6299" stop-color="#b40f26"/>
<stop offset="0.7044" stop-color="#b30d26"/>
<stop offset="0.9092" stop-color="#a70226"/>
<stop offset="1.0000" stop-color="#a50026"/>
</linearGradient>
<linearGradient id="bg53" x1="0" y1="0" x2="0" y2="1">
<stop offset="0.0000" stop-color="#323997"/>
<stop offset="0.4575" stop-color="#323997"/>
<stop offset="0.4817" stop-color="#3f62ab"/>
<stop offset="0.4917" stop-color="#abd9e9"/>
<stop offset="0.4997" stop-color="#d8eff6"/>
<stop offset="0.5067" stop-color="#ffffbf"/>
<stop offset="0.5146" stop-color="#fed687"/>
<stop offset="0.5225" stop-color="#fa9a58"/>
<stop offset="0.5292" stop-color="#eb5b3b"/>
<stop offset="0.5383" stop-color="#db392b"/>
<stop offset="0.5565" stop-color="#d02927"/>
<stop offset="0.6123" stop-color="#b10c26"/>
<stop offset="0.7048" stop-color="#b30d26"/>
<stop offset="0.9092" stop-color="#a70226"/>
<stop offset="1.0000" stop-color="#a50026"/>
</linearGradient>
<linearGradient id="bg54" x1="0" y1="0" x2="0" y2="1">
<stop offset="0.0000" stop-color="#323997"/>
<stop offset="0.4548" stop-color="#323997"/>
<stop offset="0.4791" stop-color="#3f62ab"/>
<stop offset="0.4893" stop-color="#abd9e9"/>
<stop offset="0.4976" stop-color="#d8eff6"/>
<stop offset="0.5048" stop-color="#ffffbf"/>
<stop offset="0.5127" stop-color="#fed687"/>
<stop offset="0.5207" stop-color="#fa9a58"/>
<stop offset="0.5275" stop-color="#eb5b3b"/>
<stop offset="0.5365" stop-color="#db392b"/>
<stop offset="0.5547" stop-color="#d02927"/>
<stop offset="0.6288" stop-color="#b20d26"/>
<stop offset="0.7030" stop-color="#b30d26"/>
<stop offset="0.9092" stop-color="#a70226"/>
<stop offset="1.0000" stop-color="#a50026"/>
</linearGradient>
<linearGradient id="bg55" x1="0" y1="0" x2="0" y2="1">
<stop offset="0.0000" stop-color="#323997"/>
<stop offset="0.4584" stop-color="#323997"/>
<stop offset="0.4827" stop-color="#3f62ab"/>
<stop offset="0.4926" stop-color="#abd9e9"/>
<stop offset="0.5006" stop-color="#d8eff6"/>
<stop offset="0.5076" stop-color="#ffffbf"/>
<stop offset="0.5150" stop-color="#fed687"/>
<stop offset="0.5224" stop-color="#fa9a58"/>
<stop offset="0.5288" stop-color="#eb5b3b"/>
<stop offset="0.5379" stop-color="#db392b"/>
<stop offset="0.5560" stop-color="#d02927"/>
<stop offset="0.6129" stop-color="#b10b26"/>
<stop offset="0.7043" stop-color="#b30d26"/>
<stop offset="0.9092" stop-color="#a70226"/>
<stop offset="1.0000" stop-color="#a50026"/>
</linearGradient>
<linearGradient id="bg56" x1="0" y1="0" x2="0" y2="1">
<stop offset="0.0000" stop-color="#323997"/>
<stop offset="0.4649" stop-color="#323997"/>
<stop offset="0.4891" stop-color="#3f62ab"/>
<stop offset="0.4988" stop-color="#abd9e9"/>
<stop offset="0.5066" stop-color="#d8eff6"/>
<stop offset="0.5134" stop-color="#ffffbf"/>
<stop offset="0.5189" stop-color="#fed687"/>
<stop offset="0.5245" stop-color="#fa9a58"/>
<stop offset="0.5293" stop-color="#eb5b3b"/>
<stop offset="0.5384" stop-color="#db392b"/>
<stop offset="0.5565" stop-color="#d02927"/>
<stop offset="0.6286" stop-color="#ab0526"/>
<stop offset="0.7048" stop-color="#b30d26"/>
<stop offset="0.9092" stop-color="#a70226"/>
<stop offset="1.0000" stop-color="#a50026"/>
</linearGradient>
<linearGradient id="bg57" x1="0" y1="0" x2="0" y2="1">
<stop offset="0.0000" stop-color="#323997"/>
<stop offset="0.4614" stop-color="#323997"/>
<stop offset="0.4856" stop-color="#3f62ab"/>
<stop offset="0.4956" stop-color="#abd9e9"/>
<stop offset="0.5036" stop-color="#d8eff6"/>
<stop offset="0.5106" stop-color="#ffffbf"/>
<stop offset="0.5164" stop-color="#fed687"/>
<stop offset="0.5223" stop-color="#fa9a58"/>
<stop offset="0.5273" stop-color="#eb5b3b"/>
<stop offset="0.5364" stop-color="#db392b"/>
<stop offset="0.5545" stop-color="#d02927"/>
<stop offset="0.6062" stop-color="#bb1526"/>
<stop offset="0.7028" stop-color="#b30d26"/>
<stop offset="0.9092" stop-color="#a70226"/>
<stop offset="1.0000" stop-color="#a50026"/>
</linearGradient>
<linearGradient id="bg58" x1="0" y1="0" x2="0" y2="1">
<stop offset="0.0000" stop-color="#323997"/>
<stop offset="0.4548" stop-color="#323997"/>
<stop offset="0.4790" stop-color="#3f62ab"/>
<stop offset="0.4893" stop-color="#abd9e9"/>
<stop offset="0.4975" stop-color="#d8eff6"/>
<stop offset="0.5047" stop-color="#ffffbf"/>
<stop offset="0.5124" stop-color="#fed687"/>
<stop offset="0.5201" stop-color="#fa9a58"/>
<stop offset="0.5267" stop-color="#eb5b3b"/>
<stop offset="0.5358" stop-color="#db392b"/>
<stop offset="0.5539" stop-color="#d02927"/>
<stop offset="0.6000" stop-color="#bc1626"/>
<stop offset="0.7022" stop-color="#b30d26"/>
<stop offset="0.9092" stop-color="#a70226"/>
<stop offset="1.0000" stop-color="#a50026"/>
</linearGradient>
<linearGradient id="bg59" x1="0" y1="0" x2="0" y2="1">
<stop offset="0.0000" stop-color="#323997"/>
<stop offset="0.4587" stop-color="#323997"/>
<stop offset="0.4829" stop-color="#3f62ab"/>
<stop offset="0.4929" stop-color="#abd9e9"/>
<stop offset="0.5009" stop-color="#d8eff6"/>
<stop offset="0.5078" stop-color="#ffffbf"/>
<stop offset="0.5153" stop-color="#fed687"/>
<stop offset="0.5227" stop-color="#fa9a58"/>
<stop offset="0.5290" stop-color="#eb5b3b"/>
<stop offset="0.5381" stop-color="#db392b"/>
<stop offset="0.5563" stop-color="#d02927"/>
<stop offset="0.6178" stop-color="#ae0926"/>
<stop offset="0.7046" stop-color="#b30d26"/>
<stop offset="0.9092" stop-color="#a70226"/>
<stop offset="1.0000" stop-color="#a50026"/>
</linearGradient>
<linearGradient id="bg60" x1="0" y1="0" x2="0" y2="1">
<stop offset="0.0000" stop-color="#323997"/>
<stop offset="0.4648" stop-color="#323997"/>
<stop offset="0.4890" stop-color="#3f62ab"/>
<stop offset="0.4987" stop-color="#abd9e9"/>
<stop offset="0.5064" stop-color="#d8eff6"/>
<stop offset="0.5132" stop-color="#ffffbf"/>
<stop offset="0.5190" stop-color="#fed687"/>
<stop offset="0.5248" stop-color="#fa9a58"/>
<stop offset="0.5297" stop-color="#eb5b3b"/>
<stop offset="0.5388" stop-color="#db392b"/>
<stop offset="0.5570" stop-color="#d02927"/>
<stop offset="0.6096" stop-color="#ac0726"/>
<stop offset="0.7053" stop-color="#b30d26"/>
<stop offset="0.9092" stop-color="#a70226"/>
<stop offset="1.0000" stop-color="#a50026"/>
</linearGradient>
<linearGradient id="bg61" x1="0" y1="0" x2="0" y2="1">
<stop offset="0.0000" stop-color="#323997"/>
<stop offset="0.4620" stop-color="#323997"/>
<stop offset="0.4863" stop-color="#3f62ab"/>
<stop offset="0.4962" stop-color="#abd9e9"/>
<stop offset="0.5042" stop-color="#d8eff6"/>
<stop offset="0.5112" stop-color="#ffffbf"/>
<stop offset="0.5170" stop-color="#fed687"/>
<stop offset="0.5228" stop-color="#fa9a58"/>
<stop offset="0.5278" stop-color="#eb5b3b"/>
<stop offset="0.5368" stop-color="#db392b"/>
<stop offset="0.5550" stop-color="#d02927"/>
<stop offset="0.6478" stop-color="#b20c26"/>
<stop offset="0.7033" stop-color="#b30d26"/>
<stop offset="0.9092" stop-color="#a70226"/>
<stop offset="1.0000" stop-color="#a50026"/>
</linearGradient>
<linearGradient id="bg62" x1="0" y1="0" x2="0" y2="1">
<stop offset="0.0000" stop-color="#323997"/>
<stop offset="0.4585" stop-color="#323997"/>
<stop offset="0.4828" stop-color="#3f62ab"/>
<stop offset="0.4930" stop-color="#abd9e9"/>
<stop offset="0.5013" stop-color="#d8eff6"/>
<stop offset="0.5085" stop-color="#ffffbf"/>
<stop offset="0.5150" stop-color="#fed687"/>
<stop offset="0.5215" stop-color="#fa9a58"/>
<stop offset="0.5271" stop-color="#eb5b3b"/>
<stop offset="0.5362" stop-color="#db392b"/>
<stop offset="0.5544" stop-color="#d02927"/>
<stop offset="0.5949" stop-color="#bd1726"/>
<stop offset="0.7027" stop-color="#b30d26"/>
<stop offset="0.9092" stop-color="#a70226"/>
<stop offset="1.0000" stop-color="#a50026"/>
</linearGradient>
<linearGradient id="bg63" x1="0" y1="0" x2="0" y2="1">
<stop offset="0.0000" stop-color="#323997"/>
<stop offset="0.4606" stop-color="#323997"/>
<stop offset="0.4849" stop-color="#3f62ab"/>
<stop offset="0.4948" stop-color="#abd9e9"/>
<stop offset="0.5028" stop-color="#d8eff6"/>
<stop offset="0.5098" stop-color="#ffffbf"/>
<stop offset="0.5163" stop-color="#fed687"/>
<stop offset="0.5229" stop-color="#fa9a58"/>
<stop offset="0.5285" stop-color="#eb5b3b"/>
<stop offset="0.5376" stop-color="#db392b"/>
<stop offset="0.5557" stop-color="#d02927"/>
<stop offset="0.6341" stop-color="#b20c26"/>
<stop offset="0.7040" stop-color="#b30d26"/>
<stop offset="0.9092" stop-color="#a70226"/>
<stop offset="1.0000" stop-color="#a50026"/>
</linearGradient>
<linearGradient id="bg64" x1="0" y1="0" x2="0" y2="1">
<stop offset="0.0000" stop-color="#323997"/>
<stop offset="0.4667" stop-color="#323997"/>
<stop offset="0.4909" stop-color="#3f62ab"/>
<stop offset="0.5006" stop-color="#abd9e9"/>
<stop offset="0.5084" stop-color="#d8eff6"/>
<stop offset="0.5151" stop-color="#ffffbf"/>
<stop offset="0.5204" stop-color="#fed687"/>
<stop offset="0.5256" stop-color="#fa9a58"/>
<stop offset="0.5301" stop-color="#eb5b3b"/>
<stop offset="0.5392" stop-color="#db392b"/>
<stop offset="0.5574" stop-color="#d02927"/>
<stop offset="0.6023" stop-color="#b40f26"/>
<stop offset="0.7057" stop-color="#b30d26"/>
<stop offset="0.9092" stop-color="#a70226"/>
<stop offset="1.0000" stop-color="#a50026"/>
</linearGradient>
<linearGradient id="bg65" x1="0" y1="0" x2="0" y2="1">
<stop offset="0.0000" stop-color="#323997"/>
<stop offset="0.4631" stop-color="#323997"/>
<stop offset="0.4873" stop-color="#3f62ab"/>
<stop offset="0.4973" stop-color="#abd9e9"/>
<stop offset="0.5053" stop-color="#d8eff6"/>
<stop offset="0.5123" stop-color="#ffffbf"/>
<stop offset="0.5175" stop-color="#fed687"/>
<stop offset="0.5228" stop-color="#fa9a58"/>
<stop offset="0.5273" stop-color="#eb5b3b"/>
<stop offset="0.5364" stop-color="#db392b"/>
<stop offset="0.5545" stop-color="#d02927"/>
<stop offset="0.6234" stop-color="#ad0726"/>
<stop offset="0.7028" stop-color="#b30d26"/>
<stop offset="0.9092" stop-color="#a70226"/>
<stop offset="1.0000" stop-color="#a50026"/>
</linearGradient>
<linearGradient id="bg66" x1="0" y1="0" x2="0" y2="1">
<stop offset="0.0000" stop-color="#323997"/>
<stop offset="0.4560" stop-color="#323997"/>
<stop offset="0.4802" stop-color="#3f62ab"/>
<stop offset="0.4905" stop-color="#abd9e9"/>
<stop offset="0.4987" stop-color="#d8eff6"/>
<stop offset="0.5059" stop-color="#ffffbf"/>
<stop offset="0.5132" stop-color="#fed687"/>
<stop offset="0.5204" stop-color="#fa9a58"/>
<stop offset="0.5266" stop-color="#eb5b3b"/>
<stop offset="0.5357" stop-color="#db392b"/>
<stop offset="0.5539" stop-color="#d02927"/>
<stop offset="0.6471" stop-color="#bc1626"/>
<stop offset="0.7022" stop-color="#b30d26"/>
<stop offset="0.9092" stop-color="#a70226"/>
<stop offset="1.0000" stop-color="#a50026"/>
</linearGradient>
<linearGradient id="bg67" x1="0" y1="0" x2="0" y2="1">
<stop offset="0.0000" stop-color="#323997"/>
<stop offset="0.4592" stop-color="#323997"/>
<stop offset="0.4835" stop-color="#3f62ab"/>
<stop offset="0.4934" stop-color="#abd9e9"/>
<stop offset="0.5014" stop-color="#d8eff6"/>
<stop offset="0.5084" stop-color="#ffffbf"/>
<stop offset="0.5157" stop-color="#fed687"/>
<stop offset="0.5229" stop-color="#fa9a58"/>
<stop offset="0.5291" stop-color="#eb5b3b"/>
<stop offset="0.5382" stop-color="#db392b"/>
<stop offset="0.5564" stop-color="#d02927"/>
<stop offset="0.6055" stop-color="#ae0926"/>
<stop offset="0.7047" stop-color="#b30d26"/>
<stop offset="0.9092" stop-color="#a70226"/>
<stop offset="1.0000" stop-color="#a50026"/>
</linearGradient>
<linearGradient id="bg68" x1="0" y1="0" x2="0" y2="1">
<stop offset="0.0000" stop-color="#323997"/>
<stop offset="0.4659" stop-color="#323997"/>
<stop offset="0.4901" stop-color="#3f62ab"/>
<stop offset="0.4998" stop-color="#abd9e9"/>
<stop offset="0.5076" stop-color="#d8eff6"/>
<stop offset="0.5144" stop-color="#ffffbf"/>
<stop offset="0.5198" stop-color="#fed687"/>
<stop offset="0.5253" stop-color="#fa9a58"/>
<stop offset="0.5300" stop-color="#eb5b3b"/>
<stop offset="0.5391" stop-color="#db392b"/>
<stop offset="0.5572" stop-color="#d02927"/>
<stop offset="0.6479" stop-color="#b81326"/>
<stop offset="0.7055" stop-color="#b30d26"/>
<stop offset="0.9092" stop-color="#a70226"/>
<stop offset="1.0000" stop-color="#a50026"/>
</linearGradient>
<linearGradient id="bg69" x1="0" y1="0" x2="0" y2="1">
<stop offset="0.0000" stop-color="#323997"/>
<stop offset="0.4645" stop-color="#323997"/>
<stop offset="0.4887" stop-color="#3f62ab"/>
<stop offset="0.4984" stop-color="#abd9e9"/>
<stop offset="0.5062" stop-color="#d8eff6"/>
<stop offset="0.5129" stop-color="#ffffbf"/>
<stop offset="0.5184" stop-color="#fed687"/>
<stop offset="0.5239" stop-color="#fa9a58"/>
<stop offset="0.5286" stop-color="#eb5b3b"/>
<stop offset="0.5376" stop-color="#db392b"/>
<stop offset="0.5558" stop-color="#d02927"/>
<stop offset="0.5933" stop-color="#b20c26"/>
<stop offset="0.7041" stop-color="#b30d26"/>
<stop offset="0.9092" stop-color="#a70226"/>
<stop offset="1.0000" stop-color="#a50026"/>
</linearGradient>
<linearGradient id="bg70" x1="0" y1="0" x2="0" y2="1">
<stop offset="0.0000" stop-color="#323997"/>
<stop offset="0.4606" stop-color="#323997"/>
<stop offset="0.4849" stop-color="#3f62ab"/>
<stop offset="0.4945" stop-color="#abd9e9"/>
<stop offset="0.5023" stop-color="#d8eff6"/>
<stop offset="0.5091" stop-color="#ffffbf"/>
<stop offset="0.5160" stop-color="#fed687"/>
<stop offset="0.5230" stop-color="#fa9a58"/>
<stop offset="0.5289" stop-color="#eb5b3b"/>
<stop offset="0.5380" stop-color="#db392b"/>
<stop offset="0.5562" stop-color="#d02927"/>
<stop offset="0.6048" stop-color="#bc1626"/>
<stop offset="0.7045" stop-color="#b30d26"/>
<stop offset="0.9092" stop-color="#a70226"/>
<stop offset="1.0000" stop-color="#a50026"/>
</linearGradient>
<linearGradient id="bg71" x1="0" y1="0" x2="0" y2="1">
<stop offset="0.0000" stop-color="#323997"/>
<stop offset="0.4624" stop-color="#323997"/>
<stop offset="0.4866" stop-color="#3f62ab"/>
<stop offset="0.4963" stop-color="#abd9e9"/>
<stop offset="0.5040" stop-color="#d8eff6"/>
<stop offset="0.5108" stop-color="#ffffbf"/>
<stop offset="0.5177" stop-color="#fed687"/>
<stop offset="0.5247" stop-color="#fa9a58"/>
<stop offset="0.5307" stop-color="#eb5b3b"/>
<stop offset="0.5397" stop-color="#db392b"/>
<stop offset="0.5579" stop-color="#d02927"/>
<stop offset="0.6180" stop-color="#b20c26"/>
<stop offset="0.7062" stop-color="#b30d26"/>
<stop offset="0.9092" stop-color="#a70226"/>
<stop offset="1.0000" stop-color="#a50026"/>
</linearGradient>
<linearGradient id="bg72" x1="0" y1="0" x2="0" y2="1">
<stop offset="0.0000" stop-color="#323997"/>
<stop offset="0.4635" stop-color="#323997"/>
<stop offset="0.4877" stop-color="#3f62ab"/>
<stop offset="0.4974" stop-color="#abd9e9"/>
<stop offset="0.5051" stop-color="#d8eff6"/>
<stop offset="0.5119" stop-color="#ffffbf"/>
<stop offset="0.5185" stop-color="#fed687"/>
<stop offset="0.5251" stop-color="#fa9a58"/>
<stop offset="0.5307" stop-color="#eb5b3b"/>
<stop offset="0.5398" stop-color="#db392b"/>
<stop offset="0.5580" stop-color="#d02927"/>
<stop offset="0.6576" stop-color="#b30e26"/>
<stop offset="0.7063" stop-color="#b30d26"/>
<stop offset="0.9092" stop-color="#a70226"/>
<stop offset="1.0000" stop-color="#a50026"/>
</linearGradient>
<linearGradient id="bg73" x1="0" y1="0" x2="0" y2="1">
<stop offset="0.0000" stop-color="#323997"/>
<stop offset="0.4646" stop-color="#323997"/>
<stop offset="0.4888" stop-color="#3f62ab"/>
<stop offset="0.4985" stop-color="#abd9e9"/>
<stop offset="0.5062" stop-color="#d8eff6"/>
<stop offset="0.5130" stop-color="#ffffbf"/>
<stop offset="0.5196" stop-color="#fed687"/>
<stop offset="0.5262" stop-color="#fa9a58"/>
<stop offset="0.5318" stop-color="#eb5b3b"/>
<stop offset="0.5409" stop-color="#db392b"/>
<stop offset="0.5591" stop-color="#d02927"/>
<stop offset="0.5867" stop-color="#ae0826"/>
<stop offset="0.7074" stop-color="#b30d26"/>
<stop offset="0.9092" stop-color="#a70226"/>
<stop offset="1.0000" stop-color="#a50026"/>
</linearGradient>
<linearGradient id="bg74" x1="0" y1="0" x2="0" y2="1">
<stop offset="0.0000" stop-color="#323997"/>
<stop offset="0.4704" stop-color="#323997"/>
<stop offset="0.4946" stop-color="#3f62ab"/>
<stop offset="0.5043" stop-color="#abd9e9"/>
<stop offset="0.5121" stop-color="#d8eff6"/>
<stop offset="0.5188" stop-color="#ffffbf"/>
<stop offset="0.5239" stop-color="#fed687"/>
<stop offset="0.5290" stop-color="#fa9a58"/>
<stop offset="0.5333" stop-color="#eb5b3b"/>
<stop offset="0.5424" stop-color="#db392b"/>
<stop offset="0.5606" stop-color="#d02927"/>
<stop offset="0.6655" stop-color="#be1826"/>
<stop offset="0.7089" stop-color="#b30d26"/>
<stop offset="0.9092" stop-color="#a70226"/>
<stop offset="1.0000" stop-color="#a50026"/>
</linearGradient>
<linearGradient id="bg75" x1="0" y1="0" x2="0" y2="1">
<stop offset="0.0000" stop-color="#323997"/>
<stop offset="0.4722" stop-color="#323997"/>
<stop offset="0.4964" stop-color="#3f62ab"/>
<stop offset="0.5054" stop-color="#abd9e9"/>
<stop offset="0.5127" stop-color="#d8eff6"/>
<stop offset="0.5190" stop-color="#ffffbf"/>
<stop offset="0.5241" stop-color="#fed687"/>
<stop offset="0.5292" stop-color="#fa9a58"/>
<stop offset="0.5336" stop-color="#eb5b3b"/>
<stop offset="0.5426" stop-color="#db392b"/>
<stop offset="0.5608" stop-color="#d02927"/>
<stop offset="0.6628" stop-color="#b40e26"/>
<stop offset="0.7091" stop-color="#b30d26"/>
<stop offset="0.9092" stop-color="#a70226"/>
<stop offset="1.0000" stop-color="#a50026"/>
</linearGradient>
<linearGradient id="bg76" x1="0" y1="0" x2="0" y2="1">
<stop offset="0.0000" stop-color="#323997"/>
<stop offset="0.4777" stop-color="#323997"/>
<stop offset="0.5019" stop-color="#3f62ab"/>
<stop offset="0.5104" stop-color="#abd9e9"/>
<stop offset="0.5172" stop-color="#d8eff6"/>
<stop offset="0.5231" stop-color="#ffffbf"/>
<stop offset="0.5282" stop-color="#fed687"/>
<stop offset="0.5334" stop-color="#fa9a58"/>
<stop offset="0.5378" stop-color="#eb5b3b"/>
<stop offset="0.5468" stop-color="#db392b"/>
<stop offset="0.5650" stop-color="#d02927"/>
<stop offset="0.6509" stop-color="#af0a26"/>
<stop offset="0.7133" stop-color="#b30d26"/>
<stop offset="0.9092" stop-color="#a70226"/>
<stop offset="1.0000" stop-color="#a50026"/>
</linearGradient>
<linearGradient id="bg77" x1="0" y1="0" x2="0" y2="1">
<stop offset="0.0000" stop-color="#323997"/>
<stop offset="0.4219" stop-color="#323997"/>
<stop offset="0.4364" stop-color="#323b97"/>
<stop offset="0.4510" stop-color="#34409a"/>
<stop offset="0.4655" stop-color="#374a9f"/>
<stop offset="0.4801" stop-color="#3c58a6"/>
<stop offset="0.4946" stop-color="#426caf"/>
<stop offset="0.5043" stop-color="#abd9e9"/>
<stop offset="0.5121" stop-color="#d8eff6"/>
<stop offset="0.5189" stop-color="#ffffbf"/>
<stop offset="0.5240" stop-color="#fed687"/>
<stop offset="0.5291" stop-color="#fa9a58"/>
<stop offset="0.5335" stop-color="#eb5b3b"/>
<stop offset="0.5426" stop-color="#db392b"/>
<stop offset="0.5607" stop-color="#d02927"/>
<stop offset="0.6402" stop-color="#bd1726"/>
<stop offset="0.7091" stop-color="#b30d26"/>
<stop offset="0.9092" stop-color="#a70226"/>
<stop offset="1.0000" stop-color="#a50026"/>
</linearGradient>
<linearGradient id="bg78" x1="0" y1="0" x2="0" y2="1">
<stop offset="0.0000" stop-color="#323997"/>
<stop offset="0.4215" stop-color="#323997"/>
<stop offset="0.4346" stop-color="#333b97"/>
<stop offset="0.4477" stop-color="#35419a"/>
<stop offset="0.4608" stop-color="#384da0"/>
<stop offset="0.4739" stop-color="#3e5ea9"/>
<stop offset="0.4871" stop-color="#4575b4"/>
<stop offset="0.4980" stop-color="#abd9e9"/>
<stop offset="0.5067" stop-color="#d8eff6"/>
<stop offset="0.5144" stop-color="#ffffbf"/>
<stop offset="0.5207" stop-color="#fed687"/>
<stop offset="0.5270" stop-color="#fa9a58"/>
<stop offset="0.5324" stop-color="#eb5b3b"/>
<stop offset="0.5415" stop-color="#db392b"/>
<stop offset="0.5596" stop-color="#d02927"/>
<stop offset="0.6137" stop-color="#b10b26"/>
<stop offset="0.7079" stop-color="#b30d26"/>
<stop offset="0.9092" stop-color="#a70226"/>
<stop offset="1.0000" stop-color="#a50026"/>
</linearGradient>
<linearGradient id="bg79" x1="0" y1="0" x2="0" y2="1">
<stop offset="0.0000" stop-color="#323997"/>
<stop offset="0.3988" stop-color="#323997"/>
<stop offset="0.4152" stop-color="#333b98"/>
<stop offset="0.4316" stop-color="#35429b"/>
<stop offset="0.4481" stop-color="#3950a2"/>
<stop offset="0.4645" stop-color="#4064ab"/>
<stop offset="0.4809" stop-color="#4c7eb8"/>
<stop offset="0.4930" stop-color="#abd9e9"/>
<stop offset="0.5028" stop-color="#d8eff6"/>
<stop offset="0.5112" stop-color="#ffffbf"/>
<stop offset="0.5181" stop-color="#fed687"/>
<stop offset="0.5249" stop-color="#fa9a58"/>
<stop offset="0.5308" stop-color="#eb5b3b"/>
<stop offset="0.5399" stop-color="#db392b"/>
<stop offset="0.5580" stop-color="#d02927"/>
<stop offset="0.5906" stop-color="#af0a26"/>
<stop offset="0.7063" stop-color="#b30d26"/>
<stop offset="0.9092" stop-color="#a70226"/>
<stop offset="1.0000" stop-color="#a50026"/>
</linearGradient>
<linearGradient id="bg80" x1="0" y1="0" x2="0" y2="1">
<stop offset="0.0000" stop-color="#323997"/>
<stop offset="0.3761" stop-color="#323997"/>
<stop offset="0.3960" stop-color="#333b98"/>
<stop offset="0.4160" stop-color="#35449c"/>
<stop offset="0.4359" stop-color="#3a53a3"/>
<stop offset="0.4558" stop-color="#4169ae"/>
<stop offset="0.4757" stop-color="#5386bd"/>
<stop offset="0.4890" stop-color="#abd9e9"/>
<stop offset="0.4997" stop-color="#d8eff6"/>
<stop offset="0.5090" stop-color="#ffffbf"/>
<stop offset="0.5162" stop-color="#fed687"/>
<stop offset="0.5234" stop-color="#fa9a58"/>
<stop offset="0.5295" stop-color="#eb5b3b"/>
<stop offset="0.5386" stop-color="#db392b"/>
<stop offset="0.5568" stop-color="#d02927"/>
<stop offset="0.6478" stop-color="#b00b26"/>
<stop offset="0.7051" stop-color="#b30d26"/>
<stop offset="0.9092" stop-color="#a70226"/>
<stop offset="1.0000" stop-color="#a50026"/>
</linearGradient>
<linearGradient id="bg81" x1="0" y1="0" x2="0" y2="1">
<stop offset="0.0000" stop-color="#323997"/>
<stop offset="0.3564" stop-color="#323997"/>
<stop offset="0.3795" stop-color="#333c98"/>
<stop offset="0.4025" stop-color="#36459c"/>
<stop offset="0.4255" stop-color="#3b55a4"/>
<stop offset="0.4485" stop-color="#436eb1"/>
<stop offset="0.4715" stop-color="#598dc0"/>
<stop offset="0.4855" stop-color="#abd9e9"/>
<stop offset="0.4966" stop-color="#d8eff6"/>
<stop offset="0.5064" stop-color="#ffffbf"/>
<stop offset="0.5141" stop-color="#fed687"/>
<stop offset="0.5218" stop-color="#fa9a58"/>
<stop offset="0.5284" stop-color="#eb5b3b"/>
<stop offset="0.5374" stop-color="#db392b"/>
<stop offset="0.5556" stop-color="#d02927"/>
<stop offset="0.6539" stop-color="#ab0626"/>
<stop offset="0.7039" stop-color="#b30d26"/>
<stop offset="0.9092" stop-color="#a70226"/>
<stop offset="1.0000" stop-color="#a50026"/>
</linearGradient>
<linearGradient id="bg82" x1="0" y1="0" x2="0" y2="1">
<stop offset="0.0000" stop-color="#323997"/>
<stop offset="0.3371" stop-color="#323997"/>
<stop offset="0.3635" stop-color="#333c98"/>
<stop offset="0.3900" stop-color="#36469d"/>
<stop offset="0.4164" stop-color="#3c58a6"/>
<stop offset="0.4429" stop-color="#4473b3"/>
<stop offset="0.4693" stop-color="#5f94c4"/>
<stop offset="0.4838" stop-color="#abd9e9"/>
<stop offset="0.4955" stop-color="#d8eff6"/>
<stop offset="0.5056" stop-color="#ffffbf"/>
<stop offset="0.5136" stop-color="#fed687"/>
<stop offset="0.5215" stop-color="#fa9a58"/>
<stop offset="0.5283" stop-color="#eb5b3b"/>
<stop offset="0.5373" stop-color="#db392b"/>
<stop offset="0.5555" stop-color="#d02927"/>
<stop offset="0.6533" stop-color="#bf1927"/>
<stop offset="0.7038" stop-color="#b30d26"/>
<stop offset="0.9092" stop-color="#a70226"/>
<stop offset="1.0000" stop-color="#a50026"/>
</linearGradient>
<linearGradient id="bg83" x1="0" y1="0" x2="0" y2="1">
<stop offset="0.0000" stop-color="#323997"/>
<stop offset="0.3341" stop-color="#323997"/>
<stop offset="0.3611" stop-color="#333c98"/>
<stop offset="0.3881" stop-color="#36469d"/>
<stop offset="0.4151" stop-color="#3c58a6"/>
<stop offset="0.4422" stop-color="#4473b3"/>
<stop offset="0.4692" stop-color="#5f94c4"/>
<stop offset="0.4837" stop-color="#abd9e9"/>
<stop offset="0.4953" stop-color="#d8eff6"/>
<stop offset="0.5055" stop-color="#ffffbf"/>
<stop offset="0.5134" stop-color="#fed687"/>
<stop offset="0.5213" stop-color="#fa9a58"/>
<stop offset="0.5281" stop-color="#eb5b3b"/>
<stop offset="0.5372" stop-color="#db392b"/>
<stop offset="0.5554" stop-color="#d02927"/>
<stop offset="0.6280" stop-color="#be1827"/>
<stop offset="0.7037" stop-color="#b30d26"/>
<stop offset="0.9092" stop-color="#a70226"/>
<stop offset="1.0000" stop-color="#a50026"/>
</linearGradient>
<linearGradient id="bg84" x1="0" y1="0" x2="0" y2="1">
<stop offset="0.0000" stop-color="#323997"/>
<stop offset="0.3313" stop-color="#323997"/>
<stop offset="0.3578" stop-color="#333c98"/>
<stop offset="0.3843" stop-color="#36469d"/>
<stop offset="0.4108" stop-color="#3c58a6"/>
<stop offset="0.4374" stop-color="#4473b3"/>
<stop offset="0.4639" stop-color="#5f94c4"/>
<stop offset="0.4784" stop-color="#abd9e9"/>
<stop offset="0.4900" stop-color="#d8eff6"/>
<stop offset="0.5002" stop-color="#ffffbf"/>
<stop offset="0.5100" stop-color="#fed687"/>
<stop offset="0.5199" stop-color="#fa9a58"/>
<stop offset="0.5284" stop-color="#eb5b3b"/>
<stop offset="0.5374" stop-color="#db392b"/>
<stop offset="0.5556" stop-color="#d02927"/>
<stop offset="0.5964" stop-color="#bb1526"/>
<stop offset="0.7039" stop-color="#b30d26"/>
<stop offset="0.9092" stop-color="#a70226"/>
<stop offset="1.0000" stop-color="#a50026"/>
</linearGradient>
<linearGradient id="bg85" x1="0" y1="0" x2="0" y2="1">
<stop offset="0.0000" stop-color="#323997"/>
<stop offset="0.3404" stop-color="#323997"/>
<stop offset="0.3661" stop-color="#333c98"/>
<stop offset="0.3919" stop-color="#36459c"/>
<stop offset="0.4176" stop-color="#3b56a5"/>
<stop offset="0.4434" stop-color="#4370b2"/>
<stop offset="0.4692" stop-color="#5b90c2"/>
<stop offset="0.4831" stop-color="#abd9e9"/>
<stop offset="0.4942" stop-color="#d8eff6"/>
<stop offset="0.5039" stop-color="#ffffbf"/>
<stop offset="0.5133" stop-color="#fed687"/>
<stop offset="0.5226" stop-color="#fa9a58"/>
<stop offset="0.5306" stop-color="#eb5b3b"/>
<stop offset="0.5397" stop-color="#db392b"/>
<stop offset="0.5579" stop-color="#d02927"/>
<stop offset="0.6373" stop-color="#b10b26"/>
<stop offset="0.7062" stop-color="#b30d26"/>
<stop offset="0.9092" stop-color="#a70226"/>
<stop offset="1.0000" stop-color="#a50026"/>
</linearGradient>
<linearGradient id="bg86" x1="0" y1="0" x2="0" y2="1">
<stop offset="0.0000" stop-color="#323997"/>
<stop offset="0.3496" stop-color="#323997"/>
<stop offset="0.3747" stop-color="#333c98"/>
<stop offset="0.3999" stop-color="#36449c"/>
<stop offset="0.4250" stop-color="#3b55a4"/>
<stop offset="0.4501" stop-color="#426db0"/>
<stop offset="0.4752" stop-color="#588bc0"/>
<stop offset="0.4885" stop-color="#abd9e9"/>
<stop offset="0.4991" stop-color="#d8eff6"/>
<stop offset="0.5085" stop-color="#ffffbf"/>
<stop offset="0.5158" stop-color="#fed687"/>
<stop offset="0.5231" stop-color="#fa9a58"/>
<stop offset="0.5294" stop-color="#eb5b3b"/>
<stop offset="0.5385" stop-color="#db392b"/>
<stop offset="0.5567" stop-color="#d02927"/>
<stop offset="0.6578" stop-color="#b30e26"/>
<stop offset="0.7050" stop-color="#b30d26"/>
<stop offset="0.9092" stop-color="#a70226"/>
<stop offset="1.0000" stop-color="#a50026"/>
</linearGradient>
<linearGradient id="bg87" x1="0" y1="0" x2="0" y2="1">
<stop offset="0.0000" stop-color="#323997"/>
<stop offset="0.3678" stop-color="#323997"/>
<stop offset="0.3899" stop-color="#333b98"/>
<stop offset="0.4119" stop-color="#35439b"/>
<stop offset="0.4340" stop-color="#3a52a3"/>
<stop offset="0.4560" stop-color="#4167ad"/>
<stop offset="0.4781" stop-color="#5183bb"/>
<stop offset="0.4908" stop-color="#abd9e9"/>
<stop offset="0.5010" stop-color="#d8eff6"/>
<stop offset="0.5099" stop-color="#ffffbf"/>
<stop offset="0.5169" stop-color="#fed687"/>
<stop offset="0.5240" stop-color="#fa9a58"/>
<stop offset="0.5301" stop-color="#eb5b3b"/>
<stop offset="0.5391" stop-color="#db392b"/>
<stop offset="0.5573" stop-color="#d02927"/>
<stop offset="0.6114" stop-color="#b81226"/>
<stop offset="0.7056" stop-color="#b30d26"/>
<stop offset="0.9092" stop-color="#a70226"/>
<stop offset="1.0000" stop-color="#a50026"/>
</linearGradient>
<linearGradient id="bg88" x1="0" y1="0" x2="0" y2="1">
<stop offset="0.0000" stop-color="#323997"/>
<stop offset="0.3856" stop-color="#323997"/>
<stop offset="0.4042" stop-color="#333b97"/>
<stop offset="0.4227" stop-color="#35429b"/>
<stop offset="0.4413" stop-color="#394fa1"/>
<stop offset="0.4599" stop-color="#3f61aa"/>
<stop offset="0.4784" stop-color="#4a7ab7"/>
<stop offset="0.4905" stop-color="#abd9e9"/>
<stop offset="0.5002" stop-color="#d8eff6"/>
<stop offset="0.5087" stop-color="#ffffbf"/>
<stop offset="0.5163" stop-color="#fed687"/>
<stop offset="0.5239" stop-color="#fa9a58"/>
<stop offset="0.5304" stop-color="#eb5b3b"/>
<stop offset="0.5394" stop-color="#db392b"/>
<stop offset="0.5576" stop-color="#d02927"/>
<stop offset="0.6224" stop-color="#bd1726"/>
<stop offset="0.7059" stop-color="#b30d26"/>
<stop offset="0.9092" stop-color="#a70226"/>
<stop offset="1.0000" stop-color="#a50026"/>
</linearGradient>
<linearGradient id="bg89" x1="0" y1="0" x2="0" y2="1">
<stop offset="0.0000" stop-color="#323997"/>
<stop offset="0.3856" stop-color="#323997"/>
<stop offset="0.4048" stop-color="#323b97"/>
<stop offset="0.4241" stop-color="#34409a"/>
<stop offset="0.4433" stop-color="#374a9f"/>
<stop offset="0.4626" stop-color="#3c5aa7"/>
<stop offset="0.4818" stop-color="#436eb1"/>
<stop offset="0.4933" stop-color="#abd9e9"/>
<stop offset="0.5025" stop-color="#d8eff6"/>
<stop offset="0.5106" stop-color="#ffffbf"/>
<stop offset="0.5179" stop-color="#fed687"/>
<stop offset="0.5252" stop-color="#fa9a58"/>
<stop offset="0.5315" stop-color="#eb5b3b"/>
<stop offset="0.5406" stop-color="#db392b"/>
<stop offset="0.5587" stop-color="#d02927"/>
<stop offset="0.6137" stop-color="#bc1626"/>
<stop offset="0.7071" stop-color="#b30d26"/>
<stop offset="0.9092" stop-color="#a70226"/>
<stop offset="1.0000" stop-color="#a50026"/>
</linearGradient>
<linearGradient id="bg90" x1="0" y1="0" x2="0" y2="1">
<stop offset="0.0000" stop-color="#323997"/>
<stop offset="0.4582" stop-color="#323997"/>
<stop offset="0.4824" stop-color="#3f62ab"/>
<stop offset="0.4933" stop-color="#abd9e9"/>
<stop offset="0.5020" stop-color="#d8eff6"/>
<stop offset="0.5096" stop-color="#ffffbf"/>
<stop offset="0.5168" stop-color="#fed687"/>
<stop offset="0.5241" stop-color="#fa9a58"/>
<stop offset="0.5303" stop-color="#eb5b3b"/>
<stop offset="0.5393" stop-color="#db392b"/>
<stop offset="0.5575" stop-color="#d02927"/>
<stop offset="0.6490" stop-color="#b61026"/>
<stop offset="0.7058" stop-color="#b30d26"/>
<stop offset="0.9092" stop-color="#a70226"/>
<stop offset="1.0000" stop-color="#a50026"/>
</linearGradient>
<linearGradient id="bg91" x1="0" y1="0" x2="0" y2="1">
<stop offset="0.0000" stop-color="#323997"/>
<stop offset="0.4611" stop-color="#323997"/>
<stop offset="0.4853" stop-color="#3f62ab"/>
<stop offset="0.4959" stop-color="#abd9e9"/>
<stop offset="0.5044" stop-color="#d8eff6"/>
<stop offset="0.5118" stop-color="#ffffbf"/>
<stop offset="0.5190" stop-color="#fed687"/>
<stop offset="0.5262" stop-color="#fa9a58"/>
<stop offset="0.5324" stop-color="#eb5b3b"/>
<stop offset="0.5415" stop-color="#db392b"/>
<stop offset="0.5597" stop-color="#d02927"/>
<stop offset="0.6492" stop-color="#ae0926"/>
<stop offset="0.7080" stop-color="#b30d26"/>
<stop offset="0.9092" stop-color="#a70226"/>
<stop offset="1.0000" stop-color="#a50026"/>
</linearGradient>
<linearGradient id="bg92" x1="0" y1="0" x2="0" y2="1">
<stop offset="0.0000" stop-color="#323997"/>
<stop offset="0.4687" stop-color="#323997"/>
<stop offset="0.4929" stop-color="#3f62ab"/>
<stop offset="0.5032" stop-color="#abd9e9"/>
<stop offset="0.5114" stop-color="#d8eff6"/>
<stop offset="0.5186" stop-color="#ffffbf"/>
<stop offset="0.5237" stop-color="#fed687"/>
<stop offset="0.5289" stop-color="#fa9a58"/>
<stop offset="0.5333" stop-color="#eb5b3b"/>
<stop offset="0.5424" stop-color="#db392b"/>
<stop offset="0.5606" stop-color="#d02927"/>
<stop offset="0.6526" stop-color="#bc1626"/>
<stop offset="0.7089" stop-color="#b30d26"/>
<stop offset="0.9092" stop-color="#a70226"/>
<stop offset="1.0000" stop-color="#a50026"/>
</linearGradient>
<linearGradient id="bg93" x1="0" y1="0" x2="0" y2="1">
<stop offset="0.0000" stop-color="#323997"/>
<stop offset="0.4690" stop-color="#323997"/>
<stop offset="0.4932" stop-color="#3f62ab"/>
<stop offset="0.5032" stop-color="#abd9e9"/>
<stop offset="0.5112" stop-color="#d8eff6"/>
<stop offset="0.5182" stop-color="#ffffbf"/>
<stop offset="0.5238" stop-color="#fed687"/>
<stop offset="0.5295" stop-color="#fa9a58"/>
<stop offset="0.5344" stop-color="#eb5b3b"/>
<stop offset="0.5435" stop-color="#db392b"/>
<stop offset="0.5616" stop-color="#d02927"/>
<stop offset="0.6383" stop-color="#aa0526"/>
<stop offset="0.7099" stop-color="#b30d26"/>
<stop offset="0.9092" stop-color="#a70226"/>
<stop offset="1.0000" stop-color="#a50026"/>
</linearGradient>
<linearGradient id="bg94" x1="0" y1="0" x2="0" y2="1">
<stop offset="0.0000" stop-color="#323997"/>
<stop offset="0.4726" stop-color="#323997"/>
<stop offset="0.4969" stop-color="#3f62ab"/>
<stop offset="0.5065" stop-color="#abd9e9"/>
<stop offset="0.5143" stop-color="#d8eff6"/>
<stop offset="0.5210" stop-color="#ffffbf"/>
<stop offset="0.5274" stop-color="#fed687"/>
<stop offset="0.5338" stop-color="#fa9a58"/>
<stop offset="0.5393" stop-color="#eb5b3b"/>
<stop offset="0.5484" stop-color="#db392b"/>
<stop offset="0.5666" stop-color="#d02927"/>
<stop offset="0.6152" stop-color="#ab0626"/>
<stop offset="0.7149" stop-color="#b30d26"/>
<stop offset="0.9092" stop-color="#a70226"/>
<stop offset="1.0000" stop-color="#a50026"/>
</linearGradient>
<linearGradient id="bg95" x1="0" y1="0" x2="0" y2="1">
<stop offset="0.0000" stop-color="#323997"/>
<stop offset="0.4755" stop-color="#323997"/>
<stop offset="0.4997" stop-color="#3f62ab"/>
<stop offset="0.5088" stop-color="#abd9e9"/>
<stop offset="0.5160" stop-color="#d8eff6"/>
<stop offset="0.5224" stop-color="#ffffbf"/>
<stop offset="0.5304" stop-color="#fed687"/>
<stop offset="0.5384" stop-color="#fa9a58"/>
<stop offset="0.5452" stop-color="#eb5b3b"/>
<stop offset="0.5543" stop-color="#db392b"/>
<stop offset="0.5725" stop-color="#d02927"/>
<stop offset="0.6412" stop-color="#b00b26"/>
<stop offset="0.7208" stop-color="#b30d26"/>
<stop offset="0.9092" stop-color="#a70226"/>
<stop offset="1.0000" stop-color="#a50026"/>
</linearGradient>
<linearGradient id="bg96" x1="0" y1="0" x2="0" y2="1">
<stop offset="0.0000" stop-color="#323997"/>
<stop offset="0.4770" stop-color="#323997"/>
<stop offset="0.5012" stop-color="#3f62ab"/>
<stop offset="0.5097" stop-color="#abd9e9"/>
<stop offset="0.5165" stop-color="#d8eff6"/>
<stop offset="0.5225" stop-color="#ffffbf"/>
<stop offset="0.5332" stop-color="#fed687"/>
<stop offset="0.5440" stop-color="#fa9a58"/>
<stop offset="0.5533" stop-color="#eb5b3b"/>
<stop offset="0.5623" stop-color="#db392b"/>
<stop offset="0.5805" stop-color="#d02927"/>
<stop offset="0.6688" stop-color="#b50f26"/>
<stop offset="0.7288" stop-color="#b30d26"/>
<stop offset="0.9092" stop-color="#a70226"/>
<stop offset="1.0000" stop-color="#a50026"/>
</linearGradient>
<linearGradient id="bg97" x1="0" y1="0" x2="0" y2="1">
<stop offset="0.0000" stop-color="#323997"/>
<stop offset="0.4159" stop-color="#323997"/>
<stop offset="0.4319" stop-color="#323b97"/>
<stop offset="0.4480" stop-color="#34409a"/>
<stop offset="0.4641" stop-color="#374a9f"/>
<stop offset="0.4802" stop-color="#3c58a6"/>
<stop offset="0.4963" stop-color="#426caf"/>
<stop offset="0.5057" stop-color="#abd9e9"/>
<stop offset="0.5132" stop-color="#d8eff6"/>
<stop offset="0.5198" stop-color="#ffffbf"/>
<stop offset="0.5290" stop-color="#fed687"/>
<stop offset="0.5382" stop-color="#fa9a58"/>
<stop offset="0.5461" stop-color="#eb5b3b"/>
<stop offset="0.5551" stop-color="#db392b"/>
<stop offset="0.5733" stop-color="#d02927"/>
<stop offset="0.6048" stop-color="#aa0526"/>
<stop offset="0.7216" stop-color="#b30d26"/>
<stop offset="0.9092" stop-color="#a70226"/>
<stop offset="1.0000" stop-color="#a50026"/>
</linearGradient>
<linearGradient id="bg98" x1="0" y1="0" x2="0" y2="1">
<stop offset="0.0000" stop-color="#323997"/>
<stop offset="0.4157" stop-color="#323997"/>
<stop offset="0.4301" stop-color="#333b97"/>
<stop offset="0.4445" stop-color="#35419a"/>
<stop offset="0.4589" stop-color="#384da0"/>
<stop offset="0.4733" stop-color="#3e5ea9"/>
<stop offset="0.4876" stop-color="#4575b4"/>
<stop offset="0.4979" stop-color="#abd9e9"/>
<stop offset="0.5062" stop-color="#d8eff6"/>
<stop offset="0.5134" stop-color="#ffffbf"/>
<stop offset="0.5219" stop-color="#fed687"/>
<stop offset="0.5304" stop-color="#fa9a58"/>
<stop offset="0.5376" stop-color="#eb5b3b"/>
<stop offset="0.5467" stop-color="#db392b"/>
<stop offset="0.5649" stop-color="#d02927"/>
<stop offset="0.5975" stop-color="#ad0726"/>
<stop offset="0.7132" stop-color="#b30d26"/>
<stop offset="0.9092" stop-color="#a70226"/>
<stop offset="1.0000" stop-color="#a50026"/>
</linearGradient>
<linearGradient id="bg99" x1="0" y1="0" x2="0" y2="1">
<stop offset="0.0000" stop-color="#323997"/>
<stop offset="0.4081" stop-color="#323997"/>
<stop offset="0.4239" stop-color="#333b97"/>
<stop offset="0.4397" stop-color="#35429b"/>
<stop offset="0.4555" stop-color="#394ea1"/>
<stop offset="0.4713" stop-color="#3e60aa"/>
<stop offset="0.4871" stop-color="#4778b5"/>
<stop offset="0.4977" stop-color="#abd9e9"/>
<stop offset="0.5062" stop-color="#d8eff6"/>
<stop offset="0.5136" stop-color="#ffffbf"/>
<stop offset="0.5221" stop-color="#fed687"/>
<stop offset="0.5306" stop-color="#fa9a58"/>
<stop offset="0.5379" stop-color="#eb5b3b"/>
<stop offset="0.5469" stop-color="#db392b"/>
<stop offset="0.5651" stop-color="#d02927"/>
<stop offset="0.6596" stop-color="#c01a27"/>
<stop offset="0.7134" stop-color="#b30d26"/>
<stop offset="0.9092" stop-color="#a70226"/>
<stop offset="1.0000" stop-color="#a50026"/>
</linearGradient>
<linearGradient id="bg100" x1="0" y1="0" x2="0" y2="1">
<stop offset="0.0000" stop-color="#323997"/>
<stop offset="0.4006" stop-color="#323997"/>
<stop offset="0.4170" stop-color="#333b97"/>
<stop offset="0.4334" stop-color="#35429b"/>
<stop offset="0.4499" stop-color="#394fa1"/>
<stop offset="0.4663" stop-color="#3f62aa"/>
<stop offset="0.4827" stop-color="#4a7bb7"/>
<stop offset="0.4936" stop-color="#abd9e9"/>
<stop offset="0.5023" stop-color="#d8eff6"/>
<stop offset="0.5100" stop-color="#ffffbf"/>
<stop offset="0.5186" stop-color="#fed687"/>
<stop offset="0.5272" stop-color="#fa9a58"/>
<stop offset="0.5346" stop-color="#eb5b3b"/>
<stop offset="0.5436" stop-color="#db392b"/>
<stop offset="0.5618" stop-color="#d02927"/>
<stop offset="0.6139" stop-color="#b51026"/>
<stop offset="0.7101" stop-color="#b30d26"/>
<stop offset="0.9092" stop-color="#a70226"/>
<stop offset="1.0000" stop-color="#a50026"/>
</linearGradient>
<linearGradient id="bg101" x1="0" y1="0" x2="0" y2="1">
<stop offset="0.0000" stop-color="#323997"/>
<stop offset="0.3930" stop-color="#323997"/>
<stop offset="0.4113" stop-color="#333b98"/>
<stop offset="0.4297" stop-color="#35429b"/>
<stop offset="0.4480" stop-color="#394fa1"/>
<stop offset="0.4663" stop-color="#3f63ab"/>
<stop offset="0.4846" stop-color="#4b7cb8"/>
<stop offset="0.4955" stop-color="#abd9e9"/>
<stop offset="0.5043" stop-color="#d8eff6"/>
<stop offset="0.5119" stop-color="#ffffbf"/>
<stop offset="0.5205" stop-color="#fed687"/>
<stop offset="0.5291" stop-color="#fa9a58"/>
<stop offset="0.5365" stop-color="#eb5b3b"/>
<stop offset="0.5456" stop-color="#db392b"/>
<stop offset="0.5637" stop-color="#d02927"/>
<stop offset="0.6186" stop-color="#b10c26"/>
<stop offset="0.7120" stop-color="#b30d26"/>
<stop offset="0.9092" stop-color="#a70226"/>
<stop offset="1.0000" stop-color="#a50026"/>
</linearGradient>
<linearGradient id="bg102" x1="0" y1="0" x2="0" y2="1">
<stop offset="0.0000" stop-color="#323997"/>
<stop offset="0.3854" stop-color="#323997"/>
<stop offset="0.4060" stop-color="#333b98"/>
<stop offset="0.4266" stop-color="#35429b"/>
<stop offset="0.4472" stop-color="#3950a2"/>
<stop offset="0.4678" stop-color="#3f64ab"/>
<stop offset="0.4885" stop-color="#4c7db8"/>
<stop offset="0.4994" stop-color="#abd9e9"/>
<stop offset="0.5081" stop-color="#d8eff6"/>
<stop offset="0.5157" stop-color="#ffffbf"/>
<stop offset="0.5227" stop-color="#fed687"/>
<stop offset="0.5297" stop-color="#fa9a58"/>
<stop offset="0.5357" stop-color="#eb5b3b"/>
<stop offset="0.5448" stop-color="#db392b"/>
<stop offset="0.5629" stop-color="#d02927"/>
<stop offset="0.6186" stop-color="#b71126"/>
<stop offset="0.7112" stop-color="#b30d26"/>
<stop offset="0.9092" stop-color="#a70226"/>
<stop offset="1.0000" stop-color="#a50026"/>
</linearGradient>
<linearGradient id="bg103" x1="0" y1="0" x2="0" y2="1">
<stop offset="0.0000" stop-color="#323997"/>
<stop offset="0.3732" stop-color="#323997"/>
<stop offset="0.3959" stop-color="#333b98"/>
<stop offset="0.4185" stop-color="#35439b"/>
<stop offset="0.4411" stop-color="#3950a2"/>
<stop offset="0.4637" stop-color="#4065ac"/>
<stop offset="0.4863" stop-color="#4d7fb9"/>
<stop offset="0.4975" stop-color="#abd9e9"/>
<stop offset="0.5064" stop-color="#d8eff6"/>
<stop offset="0.5143" stop-color="#ffffbf"/>
<stop offset="0.5213" stop-color="#fed687"/>
<stop offset="0.5283" stop-color="#fa9a58"/>
<stop offset="0.5343" stop-color="#eb5b3b"/>
<stop offset="0.5433" stop-color="#db392b"/>
<stop offset="0.5615" stop-color="#d02927"/>
<stop offset="0.6146" stop-color="#ae0926"/>
<stop offset="0.7098" stop-color="#b30d26"/>
<stop offset="0.9092" stop-color="#a70226"/>
<stop offset="1.0000" stop-color="#a50026"/>
</linearGradient>
<linearGradient id="bg104" x1="0" y1="0" x2="0" y2="1">
<stop offset="0.0000" stop-color="#323997"/>
<stop offset="0.3615" stop-color="#323997"/>
<stop offset="0.3852" stop-color="#333b98"/>
<stop offset="0.4090" stop-color="#35439b"/>
<stop offset="0.4327" stop-color="#3951a2"/>
<stop offset="0.4564" stop-color="#4065ac"/>
<stop offset="0.4801" stop-color="#4e80ba"/>
<stop offset="0.4916" stop-color="#abd9e9"/>
<stop offset="0.5008" stop-color="#d8eff6"/>
<stop offset="0.5089" stop-color="#ffffbf"/>
<stop offset="0.5174" stop-color="#fed687"/>
<stop offset="0.5259" stop-color="#fa9a58"/>
<stop offset="0.5331" stop-color="#eb5b3b"/>
<stop offset="0.5422" stop-color="#db392b"/>
<stop offset="0.5604" stop-color="#d02927"/>
<stop offset="0.6440" stop-color="#b61126"/>
<stop offset="0.7087" stop-color="#b30d26"/>
<stop offset="0.9092" stop-color="#a70226"/>
<stop offset="1.0000" stop-color="#a50026"/>
</linearGradient>
<linearGradient id="bg105" x1="0" y1="0" x2="0" y2="1">
<stop offset="0.0000" stop-color="#323997"/>
<stop offset="0.3691" stop-color="#323997"/>
<stop offset="0.3916" stop-color="#333b98"/>
<stop offset="0.4142" stop-color="#35439b"/>
<stop offset="0.4367" stop-color="#3951a2"/>
<stop offset="0.4593" stop-color="#4065ac"/>
<stop offset="0.4818" stop-color="#4e80ba"/>
<stop offset="0.4936" stop-color="#abd9e9"/>
<stop offset="0.5031" stop-color="#d8eff6"/>
<stop offset="0.5114" stop-color="#ffffbf"/>
<stop offset="0.5199" stop-color="#fed687"/>
<stop offset="0.5284" stop-color="#fa9a58"/>
<stop offset="0.5356" stop-color="#eb5b3b"/>
<stop offset="0.5447" stop-color="#db392b"/>
<stop offset="0.5629" stop-color="#d02927"/>
<stop offset="0.5964" stop-color="#b30d26"/>
<stop offset="0.7112" stop-color="#b30d26"/>
<stop offset="0.9092" stop-color="#a70226"/>
<stop offset="1.0000" stop-color="#a50026"/>
</linearGradient>
<linearGradient id="bg106" x1="0" y1="0" x2="0" y2="1">
<stop offset="0.0000" stop-color="#323997"/>
<stop offset="0.3768" stop-color="#323997"/>
<stop offset="0.3975" stop-color="#333b98"/>
<stop offset="0.4183" stop-color="#35439b"/>
<stop offset="0.4391" stop-color="#3951a2"/>
<stop offset="0.4599" stop-color="#4065ac"/>
<stop offset="0.4807" stop-color="#4e80ba"/>
<stop offset="0.4928" stop-color="#abd9e9"/>
<stop offset="0.5024" stop-color="#d8eff6"/>
<stop offset="0.5109" stop-color="#ffffbf"/>
<stop offset="0.5192" stop-color="#fed687"/>
<stop offset="0.5276" stop-color="#fa9a58"/>
<stop offset="0.5347" stop-color="#eb5b3b"/>
<stop offset="0.5438" stop-color="#db392b"/>
<stop offset="0.5620" stop-color="#d02927"/>
<stop offset="0.6368" stop-color="#b20d26"/>
<stop offset="0.7103" stop-color="#b30d26"/>
<stop offset="0.9092" stop-color="#a70226"/>
<stop offset="1.0000" stop-color="#a50026"/>
</linearGradient>
<linearGradient id="bg107" x1="0" y1="0" x2="0" y2="1">
<stop offset="0.0000" stop-color="#323997"/>
<stop offset="0.3889" stop-color="#323997"/>
<stop offset="0.4075" stop-color="#333b98"/>
<stop offset="0.4262" stop-color="#35429b"/>
<stop offset="0.4448" stop-color="#3950a2"/>
<stop offset="0.4635" stop-color="#3f64ab"/>
<stop offset="0.4821" stop-color="#4c7db8"/>
<stop offset="0.4939" stop-color="#abd9e9"/>
<stop offset="0.5034" stop-color="#d8eff6"/>
<stop offset="0.5116" stop-color="#ffffbf"/>
<stop offset="0.5200" stop-color="#fed687"/>
<stop offset="0.5283" stop-color="#fa9a58"/>
<stop offset="0.5355" stop-color="#eb5b3b"/>
<stop offset="0.5445" stop-color="#db392b"/>
<stop offset="0.5627" stop-color="#d02927"/>
<stop offset="0.6199" stop-color="#bc1626"/>
<stop offset="0.7110" stop-color="#b30d26"/>
<stop offset="0.9092" stop-color="#a70226"/>
<stop offset="1.0000" stop-color="#a50026"/>
</linearGradient>
<linearGradient id="bg108" x1="0" y1="0" x2="0" y2="1">
<stop offset="0.0000" stop-color="#323997"/>
<stop offset="0.4009" stop-color="#323997"/>
<stop offset="0.4181" stop-color="#333b97"/>
<stop offset="0.4354" stop-color="#35429b"/>
<stop offset="0.4526" stop-color="#394fa1"/>
<stop offset="0.4698" stop-color="#3f62aa"/>
<stop offset="0.4871" stop-color="#4a7bb7"/>
<stop offset="0.4986" stop-color="#abd9e9"/>
<stop offset="0.5078" stop-color="#d8eff6"/>
<stop offset="0.5158" stop-color="#ffffbf"/>
<stop offset="0.5224" stop-color="#fed687"/>
<stop offset="0.5289" stop-color="#fa9a58"/>
<stop offset="0.5345" stop-color="#eb5b3b"/>
<stop offset="0.5436" stop-color="#db392b"/>
<stop offset="0.5618" stop-color="#d02927"/>
<stop offset="0.6230" stop-color="#b81226"/>
<stop offset="0.7101" stop-color="#b30d26"/>
<stop offset="0.9092" stop-color="#a70226"/>
<stop offset="1.0000" stop-color="#a50026"/>
</linearGradient>
<linearGradient id="bg109" x1="0" y1="0" x2="0" y2="1">
<stop offset="0.0000" stop-color="#323997"/>
<stop offset="0.4084" stop-color="#323997"/>
<stop offset="0.4242" stop-color="#333b97"/>
<stop offset="0.4399" stop-color="#35429b"/>
<stop offset="0.4557" stop-color="#394fa1"/>
<stop offset="0.4715" stop-color="#3f62aa"/>
<stop offset="0.4872" stop-color="#4a7bb7"/>
<stop offset="0.4984" stop-color="#abd9e9"/>
<stop offset="0.5074" stop-color="#d8eff6"/>
<stop offset="0.5152" stop-color="#ffffbf"/>
<stop offset="0.5217" stop-color="#fed687"/>
<stop offset="0.5283" stop-color="#fa9a58"/>
<stop offset="0.5339" stop-color="#eb5b3b"/>
<stop offset="0.5430" stop-color="#db392b"/>
<stop offset="0.5611" stop-color="#d02927"/>
<stop offset="0.6274" stop-color="#b20d26"/>
<stop offset="0.7094" stop-color="#b30d26"/>
<stop offset="0.9092" stop-color="#a70226"/>
<stop offset="1.0000" stop-color="#a50026"/>
</linearGradient>
<linearGradient id="bg110" x1="0" y1="0" x2="0" y2="1">
<stop offset="0.0000" stop-color="#323997"/>
<stop offset="0.4156" stop-color="#323997"/>
<stop offset="0.4303" stop-color="#333b97"/>
<stop offset="0.4450" stop-color="#35429b"/>
<stop offset="0.4597" stop-color="#394fa1"/>
<stop offset="0.4743" stop-color="#3f62aa"/>
<stop offset="0.4890" stop-color="#4a7bb7"/>
<stop offset="0.4999" stop-color="#abd9e9"/>
<stop offset="0.5086" stop-color="#d8eff6"/>
<stop offset="0.5163" stop-color="#ffffbf"/>
<stop offset="0.5231" stop-color="#fed687"/>
<stop offset="0.5299" stop-color="#fa9a58"/>
<stop offset="0.5358" stop-color="#eb5b3b"/>
<stop offset="0.5449" stop-color="#db392b"/>
<stop offset="0.5630" stop-color="#d02927"/>
<stop offset="0.6449" stop-color="#b30e26"/>
<stop offset="0.7113" stop-color="#b30d26"/>
<stop offset="0.9092" stop-color="#a70226"/>
<stop offset="1.0000" stop-color="#a50026"/>
</linearGradient>
<linearGradient id="bg111" x1="0" y1="0" x2="0" y2="1">
<stop offset="0.0000" stop-color="#323997"/>
<stop offset="0.4035" stop-color="#323997"/>
<stop offset="0.4198" stop-color="#333b98"/>
<stop offset="0.4361" stop-color="#35429b"/>
<stop offset="0.4524" stop-color="#394fa1"/>
<stop offset="0.4687" stop-color="#3f63ab"/>
<stop offset="0.4850" stop-color="#4b7cb8"/>
<stop offset="0.4966" stop-color="#abd9e9"/>
<stop offset="0.5058" stop-color="#d8eff6"/>
<stop offset="0.5138" stop-color="#ffffbf"/>
<stop offset="0.5207" stop-color="#fed687"/>
<stop offset="0.5275" stop-color="#fa9a58"/>
<stop offset="0.5333" stop-color="#eb5b3b"/>
<stop offset="0.5424" stop-color="#db392b"/>
<stop offset="0.5606" stop-color="#d02927"/>
<stop offset="0.6071" stop-color="#b40f26"/>
<stop offset="0.7089" stop-color="#b30d26"/>
<stop offset="0.9092" stop-color="#a70226"/>
<stop offset="1.0000" stop-color="#a50026"/>
</linearGradient>
<linearGradient id="bg112" x1="0" y1="0" x2="0" y2="1">
<stop offset="0.0000" stop-color="#323997"/>
<stop offset="0.3913" stop-color="#323997"/>
<stop offset="0.4093" stop-color="#333b98"/>
<stop offset="0.4274" stop-color="#35429b"/>
<stop offset="0.4454" stop-color="#3950a2"/>
<stop offset="0.4634" stop-color="#3f64ab"/>
<stop offset="0.4814" stop-color="#4c7db8"/>
<stop offset="0.4935" stop-color="#abd9e9"/>
<stop offset="0.5031" stop-color="#d8eff6"/>
<stop offset="0.5116" stop-color="#ffffbf"/>
<stop offset="0.5189" stop-color="#fed687"/>
<stop offset="0.5262" stop-color="#fa9a58"/>
<stop offset="0.5325" stop-color="#eb5b3b"/>
<stop offset="0.5416" stop-color="#db392b"/>
<stop offset="0.5597" stop-color="#d02927"/>
<stop offset="0.5926" stop-color="#ba1426"/>
<stop offset="0.7080" stop-color="#b30d26"/>
<stop offset="0.9092" stop-color="#a70226"/>
<stop offset="1.0000" stop-color="#a50026"/>
</linearGradient>
<linearGradient id="bg113" x1="0" y1="0" x2="0" y2="1">
<stop offset="0.0000" stop-color="#323997"/>
<stop offset="0.3762" stop-color="#323997"/>
<stop offset="0.3978" stop-color="#333b98"/>
<stop offset="0.4194" stop-color="#35439b"/>
<stop offset="0.4410" stop-color="#3951a2"/>
<stop offset="0.4626" stop-color="#4066ac"/>
<stop offset="0.4842" stop-color="#4e80ba"/>
<stop offset="0.4960" stop-color="#abd9e9"/>
<stop offset="0.5055" stop-color="#d8eff6"/>
<stop offset="0.5137" stop-color="#ffffbf"/>
<stop offset="0.5210" stop-color="#fed687"/>
<stop offset="0.5283" stop-color="#fa9a58"/>
<stop offset="0.5346" stop-color="#eb5b3b"/>
<stop offset="0.5437" stop-color="#db392b"/>
<stop offset="0.5618" stop-color="#d02927"/>
<stop offset="0.6226" stop-color="#b40e26"/>
<stop offset="0.7102" stop-color="#b30d26"/>
<stop offset="0.9092" stop-color="#a70226"/>
<stop offset="1.0000" stop-color="#a50026"/>
</linearGradient>
<linearGradient id="bg114" x1="0" y1="0" x2="0" y2="1">
<stop offset="0.0000" stop-color="#323997"/>
<stop offset="0.3608" stop-color="#323997"/>
<stop offset="0.3868" stop-color="#333b98"/>
<stop offset="0.4128" stop-color="#35439c"/>
<stop offset="0.4389" stop-color="#3a52a3"/>
<stop offset="0.4649" stop-color="#4167ad"/>
<stop offset="0.4909" stop-color="#5183bb"/>
<stop offset="0.5024" stop-color="#abd9e9"/>
<stop offset="0.5116" stop-color="#d8eff6"/>
<stop offset="0.5197" stop-color="#ffffbf"/>
<stop offset="0.5260" stop-color="#fed687"/>
<stop offset="0.5323" stop-color="#fa9a58"/>
<stop offset="0.5377" stop-color="#eb5b3b"/>
<stop offset="0.5468" stop-color="#db392b"/>
<stop offset="0.5650" stop-color="#d02927"/>
<stop offset="0.6217" stop-color="#bf1927"/>
<stop offset="0.7133" stop-color="#b30d26"/>
<stop offset="0.9092" stop-color="#a70226"/>
<stop offset="1.0000" stop-color="#a50026"/>
</linearGradient>
<linearGradient id="bg115" x1="0" y1="0" x2="0" y2="1">
<stop offset="0.0000" stop-color="#323997"/>
<stop offset="0.3305" stop-color="#323997"/>
<stop offset="0.3624" stop-color="#333c98"/>
<stop offset="0.3943" stop-color="#35449c"/>
<stop offset="0.4261" stop-color="#3a54a4"/>
<stop offset="0.4580" stop-color="#426baf"/>
<stop offset="0.4899" stop-color="#5689be"/>
<stop offset="0.5017" stop-color="#abd9e9"/>
<stop offset="0.5112" stop-color="#d8eff6"/>
<stop offset="0.5194" stop-color="#ffffbf"/>
<stop offset="0.5258" stop-color="#fed687"/>
<stop offset="0.5321" stop-color="#fa9a58"/>
<stop offset="0.5375" stop-color="#eb5b3b"/>
<stop offset="0.5466" stop-color="#db392b"/>
<stop offset="0.5647" stop-color="#d02927"/>
<stop offset="0.6542" stop-color="#be1827"/>
<stop offset="0.7130" stop-color="#b30d26"/>
<stop offset="0.9092" stop-color="#a70226"/>
<stop offset="1.0000" stop-color="#a50026"/>
</linearGradient>
<linearGradient id="bg116" x1="0" y1="0" x2="0" y2="1">
<stop offset="0.0000" stop-color="#323997"/>
<stop offset="0.3001" stop-color="#323997"/>
<stop offset="0.3373" stop-color="#333c98"/>
<stop offset="0.3745" stop-color="#36459c"/>
<stop offset="0.4116" stop-color="#3b56a5"/>
<stop offset="0.4488" stop-color="#436fb1"/>
<stop offset="0.4860" stop-color="#5a8ec1"/>
<stop offset="0.4982" stop-color="#abd9e9"/>
<stop offset="0.5079" stop-color="#d8eff6"/>
<stop offset="0.5163" stop-color="#ffffbf"/>
<stop offset="0.5244" stop-color="#fed687"/>
<stop offset="0.5325" stop-color="#fa9a58"/>
<stop offset="0.5395" stop-color="#eb5b3b"/>
<stop offset="0.5486" stop-color="#db392b"/>
<stop offset="0.5667" stop-color="#d02927"/>
<stop offset="0.6037" stop-color="#b40f26"/>
<stop offset="0.7150" stop-color="#b30d26"/>
<stop offset="0.9092" stop-color="#a70226"/>
<stop offset="1.0000" stop-color="#a50026"/>
</linearGradient>
<linearGradient id="bg117" x1="0" y1="0" x2="0" y2="1">
<stop offset="0.0000" stop-color="#323997"/>
<stop offset="0.2623" stop-color="#323997"/>
<stop offset="0.3069" stop-color="#333c98"/>
<stop offset="0.3516" stop-color="#36469d"/>
<stop offset="0.3963" stop-color="#3c58a6"/>
<stop offset="0.4409" stop-color="#4473b3"/>
<stop offset="0.4856" stop-color="#5f94c4"/>
<stop offset="0.4990" stop-color="#abd9e9"/>
<stop offset="0.5096" stop-color="#d8eff6"/>
<stop offset="0.5190" stop-color="#ffffbf"/>
<stop offset="0.5271" stop-color="#fed687"/>
<stop offset="0.5352" stop-color="#fa9a58"/>
<stop offset="0.5421" stop-color="#eb5b3b"/>
<stop offset="0.5512" stop-color="#db392b"/>
<stop offset="0.5693" stop-color="#d02927"/>
<stop offset="0.6487" stop-color="#bc1626"/>
<stop offset="0.7177" stop-color="#b30d26"/>
<stop offset="0.9092" stop-color="#a70226"/>
<stop offset="1.0000" stop-color="#a50026"/>
</linearGradient>
<linearGradient id="bg118" x1="0" y1="0" x2="0" y2="1">
<stop offset="0.0000" stop-color="#323997"/>
<stop offset="0.2246" stop-color="#323997"/>
<stop offset="0.2775" stop-color="#333c98"/>
<stop offset="0.3305" stop-color="#36479d"/>
<stop offset="0.3835" stop-color="#3c5aa7"/>
<stop offset="0.4365" stop-color="#4677b5"/>
<stop offset="0.4894" stop-color="#649ac7"/>
<stop offset="0.5040" stop-color="#abd9e9"/>
<stop offset="0.5156" stop-color="#d8eff6"/>
<stop offset="0.5258" stop-color="#ffffbf"/>
<stop offset="0.5321" stop-color="#fed687"/>
<stop offset="0.5384" stop-color="#fa9a58"/>
<stop offset="0.5438" stop-color="#eb5b3b"/>
<stop offset="0.5529" stop-color="#db392b"/>
<stop offset="0.5711" stop-color="#d02927"/>
<stop offset="0.6508" stop-color="#bc1626"/>
<stop offset="0.7194" stop-color="#b30d26"/>
<stop offset="0.9092" stop-color="#a70226"/>
<stop offset="1.0000" stop-color="#a50026"/>
</linearGradient>
<linearGradient id="bg119" x1="0" y1="0" x2="0" y2="1">
<stop offset="0.0000" stop-color="#323997"/>
<stop offset="0.1943" stop-color="#323997"/>
<stop offset="0.2528" stop-color="#333c98"/>
<stop offset="0.3113" stop-color="#37489e"/>
<stop offset="0.3699" stop-color="#3d5da8"/>
<stop offset="0.4284" stop-color="#4b7cb8"/>
<stop offset="0.4869" stop-color="#6ba2cb"/>
<stop offset="0.5027" stop-color="#abd9e9"/>
<stop offset="0.5153" stop-color="#d8eff6"/>
<stop offset="0.5263" stop-color="#ffffbf"/>
<stop offset="0.5326" stop-color="#fed687"/>
<stop offset="0.5389" stop-color="#fa9a58"/>
<stop offset="0.5443" stop-color="#eb5b3b"/>
<stop offset="0.5534" stop-color="#db392b"/>
<stop offset="0.5715" stop-color="#d02927"/>
<stop offset="0.6431" stop-color="#bb1526"/>
<stop offset="0.7198" stop-color="#b30d26"/>
<stop offset="0.9092" stop-color="#a70226"/>
<stop offset="1.0000" stop-color="#a50026"/>
</linearGradient>
<linearGradient id="bg120" x1="0" y1="0" x2="0" y2="1">
<stop offset="0.0000" stop-color="#323997"/>
<stop offset="0.1641" stop-color="#323997"/>
<stop offset="0.2273" stop-color="#333d98"/>
<stop offset="0.2904" stop-color="#37499e"/>
<stop offset="0.3536" stop-color="#3e60aa"/>
<stop offset="0.4168" stop-color="#4f81ba"/>
<stop offset="0.4800" stop-color="#72aad0"/>
<stop offset="0.4969" stop-color="#abd9e9"/>
<stop offset="0.5105" stop-color="#d8eff6"/>
<stop offset="0.5224" stop-color="#ffffbf"/>
<stop offset="0.5309" stop-color="#fed687"/>
<stop offset="0.5395" stop-color="#fa9a58"/>
<stop offset="0.5468" stop-color="#eb5b3b"/>
<stop offset="0.5559" stop-color="#db392b"/>
<stop offset="0.5740" stop-color="#d02927"/>
<stop offset="0.6016" stop-color="#b71126"/>
<stop offset="0.7223" stop-color="#b30d26"/>
<stop offset="0.9092" stop-color="#a70226"/>
<stop offset="1.0000" stop-color="#a50026"/>
</linearGradient>
<linearGradient id="bg121" x1="0" y1="0" x2="0" y2="1">
<stop offset="0.0000" stop-color="#323997"/>
<stop offset="0.1357" stop-color="#323997"/>
<stop offset="0.2057" stop-color="#333d98"/>
<stop offset="0.2757" stop-color="#384b9f"/>
<stop offset="0.3456" stop-color="#4065ac"/>
<stop offset="0.4156" stop-color="#568abf"/>
<stop offset="0.4856" stop-color="#7fb6d6"/>
<stop offset="0.5033" stop-color="#abd9e9"/>
<stop offset="0.5175" stop-color="#d8eff6"/>
<stop offset="0.5299" stop-color="#ffffbf"/>
<stop offset="0.5378" stop-color="#fed687"/>
<stop offset="0.5456" stop-color="#fa9a58"/>
<stop offset="0.5524" stop-color="#eb5b3b"/>
<stop offset="0.5615" stop-color="#db392b"/>
<stop offset="0.5796" stop-color="#d02927"/>
<stop offset="0.6678" stop-color="#ad0826"/>
<stop offset="0.7279" stop-color="#b30d26"/>
<stop offset="0.9092" stop-color="#a70226"/>
<stop offset="1.0000" stop-color="#a50026"/>
</linearGradient>
<linearGradient id="bg122" x1="0" y1="0" x2="0" y2="1">
<stop offset="0.0000" stop-color="#323997"/>
<stop offset="0.1140" stop-color="#323997"/>
<stop offset="0.1890" stop-color="#333d99"/>
<stop offset="0.2640" stop-color="#384da0"/>
<stop offset="0.3390" stop-color="#416aae"/>
<stop offset="0.4140" stop-color="#5d91c3"/>
<stop offset="0.4890" stop-color="#8bbfdb"/>
<stop offset="0.5068" stop-color="#abd9e9"/>
<stop offset="0.5210" stop-color="#d8eff6"/>
<stop offset="0.5334" stop-color="#ffffbf"/>
<stop offset="0.5407" stop-color="#fed687"/>
<stop offset="0.5480" stop-color="#fa9a58"/>
<stop offset="0.5542" stop-color="#eb5b3b"/>
<stop offset="0.5633" stop-color="#db392b"/>
<stop offset="0.5815" stop-color="#d02927"/>
<stop offset="0.6165" stop-color="#ac0726"/>
<stop offset="0.7298" stop-color="#b30d26"/>
<stop offset="0.9092" stop-color="#a70226"/>
<stop offset="1.0000" stop-color="#a50026"/>
</linearGradient>
<linearGradient id="bg123" x1="0" y1="0" x2="0" y2="1">
<stop offset="0.0000" stop-color="#323997"/>
<stop offset="0.1058" stop-color="#323997"/>
<stop offset="0.1843" stop-color="#333e99"/>
<stop offset="0.2628" stop-color="#394ea1"/>
<stop offset="0.3413" stop-color="#426caf"/>
<stop offset="0.4198" stop-color="#5f94c4"/>
<stop offset="0.4983" stop-color="#90c4dd"/>
<stop offset="0.5148" stop-color="#abd9e9"/>
<stop offset="0.5280" stop-color="#d8eff6"/>
<stop offset="0.5396" stop-color="#ffffbf"/>
<stop offset="0.5462" stop-color="#fed687"/>
<stop offset="0.5528" stop-color="#fa9a58"/>
<stop offset="0.5585" stop-color="#eb5b3b"/>
<stop offset="0.5675" stop-color="#db392b"/>
<stop offset="0.5857" stop-color="#d02927"/>
<stop offset="0.6270" stop-color="#be1826"/>
<stop offset="0.7340" stop-color="#b30d26"/>
<stop offset="0.9092" stop-color="#a70226"/>
<stop offset="1.0000" stop-color="#a50026"/>
</linearGradient>
<linearGradient id="bg124" x1="0" y1="0" x2="0" y2="1">
<stop offset="0.0000" stop-color="#323997"/>
<stop offset="0.1135" stop-color="#323997"/>
<stop offset="0.1903" stop-color="#333d99"/>
<stop offset="0.2670" stop-color="#384ca0"/>
<stop offset="0.3437" stop-color="#4168ae"/>
<stop offset="0.4204" stop-color="#5a8ec1"/>
<stop offset="0.4972" stop-color="#87bcd9"/>
<stop offset="0.5117" stop-color="#abd9e9"/>
<stop offset="0.5233" stop-color="#d8eff6"/>
<stop offset="0.5334" stop-color="#ffffbf"/>
<stop offset="0.5401" stop-color="#fed687"/>
<stop offset="0.5468" stop-color="#fa9a58"/>
<stop offset="0.5525" stop-color="#eb5b3b"/>
<stop offset="0.5616" stop-color="#db392b"/>
<stop offset="0.5797" stop-color="#d02927"/>
<stop offset="0.6165" stop-color="#bd1726"/>
<stop offset="0.7280" stop-color="#b30d26"/>
<stop offset="0.9092" stop-color="#a70226"/>
<stop offset="1.0000" stop-color="#a50026"/>
</linearGradient>
<linearGradient id="bg125" x1="0" y1="0" x2="0" y2="1">
<stop offset="0.0000" stop-color="#323997"/>
<stop offset="0.1312" stop-color="#323997"/>
<stop offset="0.2043" stop-color="#333d98"/>
<stop offset="0.2775" stop-color="#374a9f"/>
<stop offset="0.3506" stop-color="#3f63ab"/>
<stop offset="0.4237" stop-color="#5386bd"/>
<stop offset="0.4968" stop-color="#79b1d3"/>
<stop offset="0.5103" stop-color="#abd9e9"/>
<stop offset="0.5211" stop-color="#d8eff6"/>
<stop offset="0.5306" stop-color="#ffffbf"/>
<stop offset="0.5373" stop-color="#fed687"/>
<stop offset="0.5439" stop-color="#fa9a58"/>
<stop offset="0.5497" stop-color="#eb5b3b"/>
<stop offset="0.5587" stop-color="#db392b"/>
<stop offset="0.5769" stop-color="#d02927"/>
<stop offset="0.6571" stop-color="#bd1726"/>
<stop offset="0.7252" stop-color="#b30d26"/>
<stop offset="0.9092" stop-color="#a70226"/>
<stop offset="1.0000" stop-color="#a50026"/>
</linearGradient>
<linearGradient id="bg126" x1="0" y1="0" x2="0" y2="1">
<stop offset="0.0000" stop-color="#323997"/>
<stop offset="0.1499" stop-color="#323997"/>
<stop offset="0.2204" stop-color="#333d98"/>
<stop offset="0.2910" stop-color="#37499e"/>
<stop offset="0.3615" stop-color="#3e60aa"/>
<stop offset="0.4320" stop-color="#4f81ba"/>
<stop offset="0.5026" stop-color="#72aacf"/>
<stop offset="0.5152" stop-color="#abd9e9"/>
<stop offset="0.5254" stop-color="#d8eff6"/>
<stop offset="0.5343" stop-color="#ffffbf"/>
<stop offset="0.5386" stop-color="#fed687"/>
<stop offset="0.5429" stop-color="#fa9a58"/>
<stop offset="0.5467" stop-color="#eb5b3b"/>
<stop offset="0.5557" stop-color="#db392b"/>
<stop offset="0.5739" stop-color="#d02927"/>
<stop offset="0.6467" stop-color="#bf1927"/>
<stop offset="0.7222" stop-color="#b30d26"/>
<stop offset="0.9092" stop-color="#a70226"/>
<stop offset="1.0000" stop-color="#a50026"/>
</linearGradient>
<linearGradient id="bg127" x1="0" y1="0" x2="0" y2="1">
<stop offset="0.0000" stop-color="#323997"/>
<stop offset="0.1646" stop-color="#323997"/>
<stop offset="0.2319" stop-color="#333c98"/>
<stop offset="0.2992" stop-color="#37489e"/>
<stop offset="0.3665" stop-color="#3e5ea9"/>
<stop offset="0.4337" stop-color="#4c7db8"/>
<stop offset="0.5010" stop-color="#6da5cd"/>
<stop offset="0.5131" stop-color="#abd9e9"/>
<stop offset="0.5228" stop-color="#d8eff6"/>
<stop offset="0.5313" stop-color="#ffffbf"/>
<stop offset="0.5356" stop-color="#fed687"/>
<stop offset="0.5399" stop-color="#fa9a58"/>
<stop offset="0.5436" stop-color="#eb5b3b"/>
<stop offset="0.5527" stop-color="#db392b"/>
<stop offset="0.5709" stop-color="#d02927"/>
<stop offset="0.6010" stop-color="#bc1626"/>
<stop offset="0.7192" stop-color="#b30d26"/>
<stop offset="0.9092" stop-color="#a70226"/>
<stop offset="1.0000" stop-color="#a50026"/>
</linearGradient>
<linearGradient id="bg128" x1="0" y1="0" x2="0" y2="1">
<stop offset="0.0000" stop-color="#323997"/>
<stop offset="0.1646" stop-color="#323997"/>
<stop offset="0.2321" stop-color="#333c98"/>
<stop offset="0.2995" stop-color="#37489e"/>
<stop offset="0.3670" stop-color="#3e5ea9"/>
<stop offset="0.4344" stop-color="#4c7db8"/>
<stop offset="0.5018" stop-color="#6da5cd"/>
<stop offset="0.5140" stop-color="#abd9e9"/>
<stop offset="0.5236" stop-color="#d8eff6"/>
<stop offset="0.5321" stop-color="#ffffbf"/>
<stop offset="0.5366" stop-color="#fed687"/>
<stop offset="0.5412" stop-color="#fa9a58"/>
<stop offset="0.5450" stop-color="#eb5b3b"/>
<stop offset="0.5541" stop-color="#db392b"/>
<stop offset="0.5723" stop-color="#d02927"/>
<stop offset="0.6558" stop-color="#b61026"/>
<stop offset="0.7206" stop-color="#b30d26"/>
<stop offset="0.9092" stop-color="#a70226"/>
<stop offset="1.0000" stop-color="#a50026"/>
</linearGradient>
<linearGradient id="bg129" x1="0" y1="0" x2="0" y2="1">
<stop offset="0.0000" stop-color="#323997"/>
<stop offset="0.1646" stop-color="#323997"/>
<stop offset="0.2318" stop-color="#333c98"/>
<stop offset="0.2990" stop-color="#37489e"/>
<stop offset="0.3662" stop-color="#3e5ea9"/>
<stop offset="0.4334" stop-color="#4c7db8"/>
<stop offset="0.5006" stop-color="#6da5cd"/>
<stop offset="0.5127" stop-color="#abd9e9"/>
<stop offset="0.5224" stop-color="#d8eff6"/>
<stop offset="0.5309" stop-color="#ffffbf"/>
<stop offset="0.5354" stop-color="#fed687"/>
<stop offset="0.5399" stop-color="#fa9a58"/>
<stop offset="0.5438" stop-color="#eb5b3b"/>
<stop offset="0.5529" stop-color="#db392b"/>
<stop offset="0.5710" stop-color="#d02927"/>
<stop offset="0.6572" stop-color="#ac0726"/>
<stop offset="0.7193" stop-color="#b30d26"/>
<stop offset="0.9092" stop-color="#a70226"/>
<stop offset="1.0000" stop-color="#a50026"/>
</linearGradient>
<linearGradient id="bg130" x1="0" y1="0" x2="0" y2="1">
<stop offset="0.0000" stop-color="#323997"/>
<stop offset="0.1646" stop-color="#323997"/>
<stop offset="0.2324" stop-color="#333c98"/>
<stop offset="0.3002" stop-color="#37489e"/>
<stop offset="0.3680" stop-color="#3e5ea9"/>
<stop offset="0.4358" stop-color="#4c7db8"/>
<stop offset="0.5036" stop-color="#6da5cd"/>
<stop offset="0.5157" stop-color="#abd9e9"/>
<stop offset="0.5254" stop-color="#d8eff6"/>
<stop offset="0.5338" stop-color="#ffffbf"/>
<stop offset="0.5379" stop-color="#fed687"/>
<stop offset="0.5419" stop-color="#fa9a58"/>
<stop offset="0.5454" stop-color="#eb5b3b"/>
<stop offset="0.5545" stop-color="#db392b"/>
<stop offset="0.5726" stop-color="#d02927"/>
<stop offset="0.6254" stop-color="#ab0626"/>
<stop offset="0.7209" stop-color="#b30d26"/>
<stop offset="0.9092" stop-color="#a70226"/>
<stop offset="1.0000" stop-color="#a50026"/>
</linearGradient>
<linearGradient id="bg131" x1="0" y1="0" x2="0" y2="1">
<stop offset="0.0000" stop-color="#323997"/>
<stop offset="0.1646" stop-color="#323997"/>
<stop offset="0.2320" stop-color="#333c98"/>
<stop offset="0.2994" stop-color="#37489e"/>
<stop offset="0.3668" stop-color="#3e5ea9"/>
<stop offset="0.4342" stop-color="#4c7db8"/>
<stop offset="0.5016" stop-color="#6da5cd"/>
<stop offset="0.5137" stop-color="#abd9e9"/>
<stop offset="0.5233" stop-color="#d8eff6"/>
<stop offset="0.5318" stop-color="#ffffbf"/>
<stop offset="0.5359" stop-color="#fed687"/>
<stop offset="0.5399" stop-color="#fa9a58"/>
<stop offset="0.5434" stop-color="#eb5b3b"/>
<stop offset="0.5525" stop-color="#db392b"/>
<stop offset="0.5706" stop-color="#d02927"/>
<stop offset="0.6630" stop-color="#b71126"/>
<stop offset="0.7189" stop-color="#b30d26"/>
<stop offset="0.9092" stop-color="#a70226"/>
<stop offset="1.0000" stop-color="#a50026"/>
</linearGradient>
<clipPath id="cb"><rect x="93.8" y="522.6" width="308.9" height="310.4"/></clipPath>
<filter id="wblur" color-interpolation-filters="sRGB" x="-100%" y="-50%" width="300%" height="200%"><feGaussianBlur stdDeviation="3 6"/></filter>
<filter id="bblur" color-interpolation-filters="sRGB" x="-5%" y="-5%" width="110%" height="110%"><feGaussianBlur stdDeviation="1.7 1.2"/></filter>
<linearGradient id="cbar" x1="0" y1="1" x2="0" y2="0">
<stop offset="0.0" stop-color="#a50026"/>
<stop offset="0.1" stop-color="#d73027"/>
<stop offset="0.2" stop-color="#f46d43"/>
<stop offset="0.3" stop-color="#fdae61"/>
<stop offset="0.4" stop-color="#fee090"/>
<stop offset="0.5" stop-color="#ffffbf"/>
<stop offset="0.6" stop-color="#e0f3f8"/>
<stop offset="0.7" stop-color="#abd9e9"/>
<stop offset="0.8" stop-color="#74add1"/>
<stop offset="0.9" stop-color="#4575b4"/>
<stop offset="1.0" stop-color="#313695"/>
</linearGradient>
</defs>
<g clip-path="url(#cb)"><g filter="url(#bblur)">
<rect x="83.8" y="512.6" width="328.9" height="330.4" fill="#323997"/>
<rect x="83.80" y="512.6" width="3.1" height="330.4" fill="url(#bg0)"/>
<rect x="86.30" y="512.6" width="3.1" height="330.4" fill="url(#bg1)"/>
<rect x="88.80" y="512.6" width="3.1" height="330.4" fill="url(#bg2)"/>
<rect x="91.30" y="512.6" width="3.1" height="330.4" fill="url(#bg3)"/>
<rect x="93.80" y="512.6" width="3.1" height="330.4" fill="url(#bg4)"/>
<rect x="96.30" y="512.6" width="3.1" height="330.4" fill="url(#bg5)"/>
<rect x="98.80" y="512.6" width="3.1" height="330.4" fill="url(#bg6)"/>
<rect x="101.30" y="512.6" width="3.1" height="330.4" fill="url(#bg7)"/>
<rect x="103.80" y="512.6" width="3.1" height="330.4" fill="url(#bg8)"/>
<rect x="106.30" y="512.6" width="3.1" height="330.4" fill="url(#bg9)"/>
<rect x="108.80" y="512.6" width="3.1" height="330.4" fill="url(#bg10)"/>
<rect x="111.30" y="512.6" width="3.1" height="330.4" fill="url(#bg11)"/>
<rect x="113.80" y="512.6" width="3.1" height="330.4" fill="url(#bg12)"/>
<rect x="116.30" y="512.6" width="3.1" height="330.4" fill="url(#bg13)"/>
<rect x="118.80" y="512.6" width="3.1" height="330.4" fill="url(#bg14)"/>
<rect x="121.30" y="512.6" width="3.1" height="330.4" fill="url(#bg15)"/>
<rect x="123.80" y="512.6" width="3.1" height="330.4" fill="url(#bg16)"/>
<rect x="126.30" y="512.6" width="3.1" height="330.4" fill="url(#bg17)"/>
<rect x="128.80" y="512.6" width="3.1" height="330.4" fill="url(#bg18)"/>
<rect x="131.30" y="512.6" width="3.1" height="330.4" fill="url(#bg19)"/>
<rect x="133.80" y="512.6" width="3.1" height="330.4" fill="url(#bg20)"/>
<rect x="136.30" y="512.6" width="3.1" height="330.4" fill="url(#bg21)"/>
<rect x="138.80" y="512.6" width="3.1" height="330.4" fill="url(#bg22)"/>
<rect x="141.30" y="512.6" width="3.1" height="330.4" fill="url(#bg23)"/>
<rect x="143.80" y="512.6" width="3.1" height="330.4" fill="url(#bg24)"/>
<rect x="146.30" y="512.6" width="3.1" height="330.4" fill="url(#bg25)"/>
<rect x="148.80" y="512.6" width="3.1" height="330.4" fill="url(#bg26)"/>
<rect x="151.30" y="512.6" width="3.1" height="330.4" fill="url(#bg27)"/>
<rect x="153.80" y="512.6" width="3.1" height="330.4" fill="url(#bg28)"/>
<rect x="156.30" y="512.6" width="3.1" height="330.4" fill="url(#bg29)"/>
<rect x="158.80" y="512.6" width="3.1" height="330.4" fill="url(#bg30)"/>
<rect x="161.30" y="512.6" width="3.1" height="330.4" fill="url(#bg31)"/>
<rect x="163.80" y="512.6" width="3.1" height="330.4" fill="url(#bg32)"/>
<rect x="166.30" y="512.6" width="3.1" height="330.4" fill="url(#bg33)"/>
<rect x="168.80" y="512.6" width="3.1" height="330.4" fill="url(#bg34)"/>
<rect x="171.30" y="512.6" width="3.1" height="330.4" fill="url(#bg35)"/>
<rect x="173.80" y="512.6" width="3.1" height="330.4" fill="url(#bg36)"/>
<rect x="176.30" y="512.6" width="3.1" height="330.4" fill="url(#bg37)"/>
<rect x="178.80" y="512.6" width="3.1" height="330.4" fill="url(#bg38)"/>
<rect x="181.30" y="512.6" width="3.1" height="330.4" fill="url(#bg39)"/>
<rect x="183.80" y="512.6" width="3.1" height="330.4" fill="url(#bg40)"/>
<rect x="186.30" y="512.6" width="3.1" height="330.4" fill="url(#bg41)"/>
<rect x="188.80" y="512.6" width="3.1" height="330.4" fill="url(#bg42)"/>
<rect x="191.30" y="512.6" width="3.1" height="330.4" fill="url(#bg43)"/>
<rect x="193.80" y="512.6" width="3.1" height="330.4" fill="url(#bg44)"/>
<rect x="196.30" y="512.6" width="3.1" height="330.4" fill="url(#bg45)"/>
<rect x="198.80" y="512.6" width="3.1" height="330.4" fill="url(#bg46)"/>
<rect x="201.30" y="512.6" width="3.1" height="330.4" fill="url(#bg47)"/>
<rect x="203.80" y="512.6" width="3.1" height="330.4" fill="url(#bg48)"/>
<rect x="206.30" y="512.6" width="3.1" height="330.4" fill="url(#bg49)"/>
<rect x="208.80" y="512.6" width="3.1" height="330.4" fill="url(#bg50)"/>
<rect x="211.30" y="512.6" width="3.1" height="330.4" fill="url(#bg51)"/>
<rect x="213.80" y="512.6" width="3.1" height="330.4" fill="url(#bg52)"/>
<rect x="216.30" y="512.6" width="3.1" height="330.4" fill="url(#bg53)"/>
<rect x="218.80" y="512.6" width="3.1" height="330.4" fill="url(#bg54)"/>
<rect x="221.30" y="512.6" width="3.1" height="330.4" fill="url(#bg55)"/>
<rect x="223.80" y="512.6" width="3.1" height="330.4" fill="url(#bg56)"/>
<rect x="226.30" y="512.6" width="3.1" height="330.4" fill="url(#bg57)"/>
<rect x="228.80" y="512.6" width="3.1" height="330.4" fill="url(#bg58)"/>
<rect x="231.30" y="512.6" width="3.1" height="330.4" fill="url(#bg59)"/>
<rect x="233.80" y="512.6" width="3.1" height="330.4" fill="url(#bg60)"/>
<rect x="236.30" y="512.6" width="3.1" height="330.4" fill="url(#bg61)"/>
<rect x="238.80" y="512.6" width="3.1" height="330.4" fill="url(#bg62)"/>
<rect x="241.30" y="512.6" width="3.1" height="330.4" fill="url(#bg63)"/>
<rect x="243.80" y="512.6" width="3.1" height="330.4" fill="url(#bg64)"/>
<rect x="246.30" y="512.6" width="3.1" height="330.4" fill="url(#bg65)"/>
<rect x="248.80" y="512.6" width="3.1" height="330.4" fill="url(#bg66)"/>
<rect x="251.30" y="512.6" width="3.1" height="330.4" fill="url(#bg67)"/>
<rect x="253.80" y="512.6" width="3.1" height="330.4" fill="url(#bg68)"/>
<rect x="256.30" y="512.6" width="3.1" height="330.4" fill="url(#bg69)"/>
<rect x="258.80" y="512.6" width="3.1" height="330.4" fill="url(#bg70)"/>
<rect x="261.30" y="512.6" width="3.1" height="330.4" fill="url(#bg71)"/>
<rect x="263.80" y="512.6" width="3.1" height="330.4" fill="url(#bg72)"/>
<rect x="266.30" y="512.6" width="3.1" height="330.4" fill="url(#bg73)"/>
<rect x="268.80" y="512.6" width="3.1" height="330.4" fill="url(#bg74)"/>
<rect x="271.30" y="512.6" width="3.1" height="330.4" fill="url(#bg75)"/>
<rect x="273.80" y="512.6" width="3.1" height="330.4" fill="url(#bg76)"/>
<rect x="276.30" y="512.6" width="3.1" height="330.4" fill="url(#bg77)"/>
<rect x="278.80" y="512.6" width="3.1" height="330.4" fill="url(#bg78)"/>
<rect x="281.30" y="512.6" width="3.1" height="330.4" fill="url(#bg79)"/>
<rect x="283.80" y="512.6" width="3.1" height="330.4" fill="url(#bg80)"/>
<rect x="286.30" y="512.6" width="3.1" height="330.4" fill="url(#bg81)"/>
<rect x="288.80" y="512.6" width="3.1" height="330.4" fill="url(#bg82)"/>
<rect x="291.30" y="512.6" width="3.1" height="330.4" fill="url(#bg83)"/>
<rect x="293.80" y="512.6" width="3.1" height="330.4" fill="url(#bg84)"/>
<rect x="296.30" y="512.6" width="3.1" height="330.4" fill="url(#bg85)"/>
<rect x="298.80" y="512.6" width="3.1" height="330.4" fill="url(#bg86)"/>
<rect x="301.30" y="512.6" width="3.1" height="330.4" fill="url(#bg87)"/>
<rect x="303.80" y="512.6" width="3.1" height="330.4" fill="url(#bg88)"/>
<rect x="306.30" y="512.6" width="3.1" height="330.4" fill="url(#bg89)"/>
<rect x="308.80" y="512.6" width="3.1" height="330.4" fill="url(#bg90)"/>
<rect x="311.30" y="512.6" width="3.1" height="330.4" fill="url(#bg91)"/>
<rect x="313.80" y="512.6" width="3.1" height="330.4" fill="url(#bg92)"/>
<rect x="316.30" y="512.6" width="3.1" height="330.4" fill="url(#bg93)"/>
<rect x="318.80" y="512.6" width="3.1" height="330.4" fill="url(#bg94)"/>
<rect x="321.30" y="512.6" width="3.1" height="330.4" fill="url(#bg95)"/>
<rect x="323.80" y="512.6" width="3.1" height="330.4" fill="url(#bg96)"/>
<rect x="326.30" y="512.6" width="3.1" height="330.4" fill="url(#bg97)"/>
<rect x="328.80" y="512.6" width="3.1" height="330.4" fill="url(#bg98)"/>
<rect x="331.30" y="512.6" width="3.1" height="330.4" fill="url(#bg99)"/>
<rect x="333.80" y="512.6" width="3.1" height="330.4" fill="url(#bg100)"/>
<rect x="336.30" y="512.6" width="3.1" height="330.4" fill="url(#bg101)"/>
<rect x="338.80" y="512.6" width="3.1" height="330.4" fill="url(#bg102)"/>
<rect x="341.30" y="512.6" width="3.1" height="330.4" fill="url(#bg103)"/>
<rect x="343.80" y="512.6" width="3.1" height="330.4" fill="url(#bg104)"/>
<rect x="346.30" y="512.6" width="3.1" height="330.4" fill="url(#bg105)"/>
<rect x="348.80" y="512.6" width="3.1" height="330.4" fill="url(#bg106)"/>
<rect x="351.30" y="512.6" width="3.1" height="330.4" fill="url(#bg107)"/>
<rect x="353.80" y="512.6" width="3.1" height="330.4" fill="url(#bg108)"/>
<rect x="356.30" y="512.6" width="3.1" height="330.4" fill="url(#bg109)"/>
<rect x="358.80" y="512.6" width="3.1" height="330.4" fill="url(#bg110)"/>
<rect x="361.30" y="512.6" width="3.1" height="330.4" fill="url(#bg111)"/>
<rect x="363.80" y="512.6" width="3.1" height="330.4" fill="url(#bg112)"/>
<rect x="366.30" y="512.6" width="3.1" height="330.4" fill="url(#bg113)"/>
<rect x="368.80" y="512.6" width="3.1" height="330.4" fill="url(#bg114)"/>
<rect x="371.30" y="512.6" width="3.1" height="330.4" fill="url(#bg115)"/>
<rect x="373.80" y="512.6" width="3.1" height="330.4" fill="url(#bg116)"/>
<rect x="376.30" y="512.6" width="3.1" height="330.4" fill="url(#bg117)"/>
<rect x="378.80" y="512.6" width="3.1" height="330.4" fill="url(#bg118)"/>
<rect x="381.30" y="512.6" width="3.1" height="330.4" fill="url(#bg119)"/>
<rect x="383.80" y="512.6" width="3.1" height="330.4" fill="url(#bg120)"/>
<rect x="386.30" y="512.6" width="3.1" height="330.4" fill="url(#bg121)"/>
<rect x="388.80" y="512.6" width="3.1" height="330.4" fill="url(#bg122)"/>
<rect x="391.30" y="512.6" width="3.1" height="330.4" fill="url(#bg123)"/>
<rect x="393.80" y="512.6" width="3.1" height="330.4" fill="url(#bg124)"/>
<rect x="396.30" y="512.6" width="3.1" height="330.4" fill="url(#bg125)"/>
<rect x="398.80" y="512.6" width="3.1" height="330.4" fill="url(#bg126)"/>
<rect x="401.30" y="512.6" width="3.1" height="330.4" fill="url(#bg127)"/>
<rect x="403.80" y="512.6" width="3.1" height="330.4" fill="url(#bg128)"/>
<rect x="406.30" y="512.6" width="3.1" height="330.4" fill="url(#bg129)"/>
<rect x="408.80" y="512.6" width="3.1" height="330.4" fill="url(#bg130)"/>
<rect x="411.30" y="512.6" width="3.1" height="330.4" fill="url(#bg131)"/>
<ellipse cx="263" cy="574" rx="4.5" ry="24" fill="#6fa5d2" opacity="0.3" filter="url(#wblur)"/>
<ellipse cx="268" cy="600" rx="4" ry="14" fill="#6fa5d2" opacity="0.18" filter="url(#wblur)"/>
<ellipse cx="232" cy="640" rx="5" ry="14" fill="#6fa5d2" opacity="0.12" filter="url(#wblur)"/>
<ellipse cx="152" cy="610" rx="7" ry="22" fill="#6fa5d2" opacity="0.16" filter="url(#wblur)"/>
<ellipse cx="178" cy="606" rx="7" ry="24" fill="#6fa5d2" opacity="0.16" filter="url(#wblur)"/>
<ellipse cx="392" cy="600" rx="5" ry="40" fill="#6fa5d2" opacity="0.22" filter="url(#wblur)"/>
<ellipse cx="384" cy="640" rx="6" ry="30" fill="#6fa5d2" opacity="0.15" filter="url(#wblur)"/>
<ellipse cx="300" cy="650" rx="7" ry="16" fill="#6fa5d2" opacity="0.14" filter="url(#wblur)"/>
<ellipse cx="350" cy="660" rx="5" ry="12" fill="#6fa5d2" opacity="0.12" filter="url(#wblur)"/>
</g></g>
<rect x="93.8" y="522.6" width="308.9" height="310.4" fill="none" stroke="#000" stroke-width="3"/>
<rect x="421.4" y="521.8" width="16.7" height="311.6" fill="url(#cbar)" stroke="#000" stroke-width="2.7"/>
<g stroke="#000" stroke-width="2.2">
<line x1="93.8" y1="524.6" x2="87.8" y2="524.6"/>
<line x1="93.8" y1="581" x2="87.8" y2="581"/>
<line x1="93.8" y1="637.3" x2="87.8" y2="637.3"/>
<line x1="93.8" y1="693.7" x2="87.8" y2="693.7"/>
<line x1="93.8" y1="750" x2="87.8" y2="750"/>
<line x1="93.8" y1="806.5" x2="87.8" y2="806.5"/>
<line x1="134.5" y1="833.0" x2="134.5" y2="839.0"/>
<line x1="214.3" y1="833.0" x2="214.3" y2="839.0"/>
<line x1="294.2" y1="833.0" x2="294.2" y2="839.0"/>
<line x1="373.8" y1="833.0" x2="373.8" y2="839.0"/>
<line x1="438.4" y1="525.0" x2="445" y2="525.0"/>
<line x1="438.4" y1="586.1" x2="445" y2="586.1"/>
<line x1="438.4" y1="647.3" x2="445" y2="647.3"/>
<line x1="438.4" y1="708.6" x2="445" y2="708.6"/>
<line x1="438.4" y1="769.6" x2="445" y2="769.6"/>
<line x1="438.4" y1="829.6" x2="445" y2="829.6"/>
</g>
<g font-family="'Liberation Sans', Arial, sans-serif" font-weight="bold" fill="#0a0a0a" stroke="#0a0a0a" stroke-width="0.35">
<text transform="translate(86.6 529.6) scale(1 1.04)" font-size="14.7" text-anchor="end">0.6</text>
<text transform="translate(86.6 586.0) scale(1 1.04)" font-size="14.7" text-anchor="end">0.4</text>
<text transform="translate(86.6 642.3) scale(1 1.04)" font-size="14.7" text-anchor="end">0.2</text>
<text transform="translate(86.6 698.7) scale(1 1.04)" font-size="14.7" text-anchor="end">0.0</text>
<text transform="translate(86.6 755.0) scale(1 1.04)" font-size="14.7" text-anchor="end">-0.2</text>
<text transform="translate(86.6 811.5) scale(1 1.04)" font-size="14.7" text-anchor="end">-0.4</text>
<text transform="translate(134.5 853) scale(1 1.04)" font-size="14.7" text-anchor="middle">3.5</text>
<text transform="translate(214.3 853) scale(1 1.04)" font-size="14.7" text-anchor="middle">4.0</text>
<text transform="translate(294.2 853) scale(1 1.04)" font-size="14.7" text-anchor="middle">4.5</text>
<text transform="translate(373.8 853) scale(1 1.04)" font-size="14.7" text-anchor="middle">5.0</text>
<text transform="translate(445.4 529.6) scale(1 1.04)" font-size="14.7">1.0</text>
<text transform="translate(447 590.7) scale(1 1.04)" font-size="14.7">0.8</text>
<text transform="translate(447.5 651.9) scale(1 1.04)" font-size="14.7">0.6</text>
<text transform="translate(448 713.2) scale(1 1.04)" font-size="14.7">0.4</text>
<text transform="translate(448.5 774.2) scale(1 1.04)" font-size="14.7">0.2</text>
<text transform="translate(449.2 834.2) scale(1 1.04)" font-size="14.7">0.0</text>
<text transform="translate(261.5 876.5) scale(1 1.025)" font-size="21.7" text-anchor="middle">Conductance (µS)</text>
<text transform="translate(45.5,670.5) rotate(-90) translate(0 0) scale(1 1.025)" font-size="21.7" text-anchor="middle">ΔG (µS)</text>
<text transform="translate(501.5,682.5) rotate(-90) translate(0 0) scale(1 1.04)" font-size="18" text-anchor="middle">CDF</text>
<text transform="translate(5.3 515.6) scale(1 1.04)" font-size="31.5" fill="#000" stroke="#000" stroke-width="0.9" stroke-linejoin="round">B</text>
</g>
</g>
<g id="panel-c">
<defs><filter id="glow" color-interpolation-filters="sRGB" x="-20%" y="-20%" width="140%" height="140%"><feGaussianBlur stdDeviation="1.3"/></filter><filter id="soft" color-interpolation-filters="sRGB" x="-5%" y="-5%" width="110%" height="110%"><feGaussianBlur stdDeviation="0.7"/></filter><filter id="soft2" color-interpolation-filters="sRGB" x="-5%" y="-5%" width="110%" height="110%"><feGaussianBlur stdDeviation="1.2"/></filter></defs>
<g filter="url(#soft2)">
<rect x="755.3" y="574" width="112.8" height="224.8" rx="16" fill="#d8e4bd"/>
<rect x="895.6" y="601.3" width="141" height="172.5" rx="16" fill="#d3cbe0"/>
<rect x="1061.3" y="601.3" width="175" height="170" rx="16" fill="#ebc6c2"/>
</g>
<g filter="url(#soft)">
<polygon points="563.9,575.4 735.9,577.4 740.6,757.6 581.2,803.8" fill="#84538d"/>
<polygon points="650.0,614.5 656.7,614.2 657.1,622.5 650.4,622.8" fill="#5fb4b0"/>
<polygon points="679.6,613.2 685.8,612.9 686.1,620.8 679.9,621.2" fill="#5fb4b0"/>
<polygon points="631.3,623.1 638.4,622.7 638.9,631.2 631.8,631.7" fill="#5fb4b0"/>
<polygon points="685.5,620.1 691.6,619.8 691.9,627.6 685.8,628.0" fill="#5fb4b0"/>
<polygon points="625.2,631.3 632.4,630.8 632.9,639.3 625.7,639.9" fill="#5fb4b0"/>
<polygon points="685.8,627.3 691.8,626.9 692.1,634.7 686.1,635.2" fill="#5fb4b0"/>
<polygon points="625.7,639.1 632.9,638.6 633.4,647.0 626.2,647.7" fill="#5fb4b0"/>
<polygon points="657.2,636.7 663.8,636.2 664.2,644.3 657.6,644.9" fill="#5fb4b0"/>
<polygon points="663.2,636.2 669.7,635.7 670.0,643.8 663.6,644.3" fill="#5fb4b0"/>
<polygon points="686.1,634.5 692.1,634.0 692.4,641.8 686.4,642.3" fill="#5fb4b0"/>
<polygon points="657.6,644.1 664.1,643.5 664.5,651.6 658.0,652.3" fill="#5fb4b0"/>
<polygon points="680.8,642.1 686.9,641.5 687.3,649.3 681.2,649.9" fill="#5fb4b0"/>
<polygon points="651.9,652.1 658.6,651.5 659.0,659.6 652.3,660.3" fill="#5fb4b0"/>
<polygon points="681.1,649.2 687.2,648.6 687.5,656.4 681.5,657.1" fill="#5fb4b0"/>
<polygon points="675.8,657.0 682.0,656.3 682.3,664.1 676.2,664.8" fill="#5fb4b0"/>
<polygon points="692.7,662.1 698.5,661.4 698.8,669.0 693.0,669.8" fill="#5fb4b0"/>
<polygon points="634.4,676.8 641.4,675.8 641.8,684.0 634.9,685.0" fill="#5fb4b0"/>
<polygon points="698.3,668.4 704.0,667.6 704.3,675.1 698.6,675.9" fill="#5fb4b0"/>
<polygon points="659.4,680.8 665.9,679.9 666.3,687.8 659.8,688.7" fill="#5fb4b0"/>
<polygon points="665.3,680.0 671.6,679.1 672.0,686.9 665.7,687.8" fill="#5fb4b0"/>
<polygon points="671.1,679.1 677.3,678.2 677.7,686.0 671.4,687.0" fill="#5fb4b0"/>
<polygon points="703.8,674.5 709.4,673.7 709.7,681.1 704.0,681.9" fill="#5fb4b0"/>
<polygon points="682.6,684.5 688.7,683.6 689.0,691.2 683.0,692.2" fill="#5fb4b0"/>
<polygon points="704.0,681.3 709.6,680.4 709.9,687.8 704.3,688.7" fill="#5fb4b0"/>
<polygon points="704.3,688.0 709.9,687.1 710.1,694.4 704.5,695.4" fill="#5fb4b0"/>
<polygon points="683.2,698.5 689.2,697.4 689.5,704.9 683.6,706.1" fill="#5fb4b0"/>
<polygon points="704.5,694.7 710.1,693.8 710.4,701.1 704.8,702.1" fill="#5fb4b0"/>
<polygon points="683.5,705.4 689.5,704.3 689.8,711.8 683.9,712.9" fill="#5fb4b0"/>
<polygon points="704.7,701.4 710.3,700.4 710.6,707.7 705.0,708.8" fill="#5fb4b0"/>
<polygon points="705.0,708.1 710.6,707.0 710.8,714.3 705.3,715.4" fill="#5fb4b0"/>
<polygon points="678.3,713.3 684.4,712.1 684.7,719.7 678.7,720.9" fill="#5fb4b0"/>
<polygon points="631.1,730.0 638.0,728.6 638.5,736.6 631.5,738.1" fill="#5fb4b0"/>
<polygon points="631.5,737.4 638.4,735.9 638.9,743.9 632.0,745.5" fill="#5fb4b0"/>
<polygon points="673.0,721.4 679.2,720.1 679.5,727.7 673.4,729.0" fill="#5fb4b0"/>
<polygon points="700.1,715.8 705.7,714.7 706.0,721.9 700.4,723.2" fill="#5fb4b0"/>
<polygon points="667.7,729.6 673.9,728.2 674.3,735.8 668.0,737.2" fill="#5fb4b0"/>
<polygon points="695.1,723.6 700.9,722.4 701.1,729.7 695.4,731.0" fill="#5fb4b0"/>
<polygon points="644.4,741.9 651.0,740.4 651.5,748.2 644.8,749.8" fill="#5fb4b0"/>
<polygon points="650.4,740.5 657.0,739.0 657.4,746.8 650.9,748.3" fill="#5fb4b0"/>
<polygon points="656.4,739.2 662.8,737.7 663.2,745.4 656.8,746.9" fill="#5fb4b0"/>
<polygon points="662.3,737.8 668.6,736.4 668.9,744.0 662.6,745.5" fill="#5fb4b0"/>
<polygon points="690.1,731.5 695.9,730.2 696.2,737.5 690.4,738.9" fill="#5fb4b0"/>
<polygon points="685.0,739.5 690.9,738.1 691.2,745.5 685.3,746.9" fill="#5fb4b0"/>
<polygon points="668.7,750.4 674.9,748.8 675.2,756.3 669.0,757.9" fill="#5fb4b0"/>
<polygon points="674.3,749.0 680.4,747.5 680.7,754.9 674.6,756.5" fill="#5fb4b0"/>
<polygon points="639.4,764.9 646.2,763.2 646.6,770.9 639.9,772.7" fill="#5fb4b0"/>
<polygon points="645.6,763.3 652.2,761.6 652.6,769.3 646.0,771.1" fill="#5fb4b0"/>
<polygon points="633.2,766.5 640.1,764.7 640.5,772.6 633.7,774.4" fill="#5fb4b0"/>
<polygon points="645.0,637.6 651.8,637.1 652.2,645.3 645.4,646.0" fill="#c9e367"/>
<polygon points="651.1,637.2 657.8,636.6 658.2,644.8 651.6,645.4" fill="#c9e367"/>
<polygon points="631.9,744.7 638.8,743.2 639.3,751.1 632.4,752.7" fill="#c9e367"/>
<polygon points="632.4,752.0 639.2,750.4 639.7,758.3 632.8,760.0" fill="#c9e367"/>
<polygon points="632.8,759.3 639.6,757.6 640.1,765.4 633.2,767.2" fill="#c9e367"/>
<polygon points="676.8,678.3 682.9,677.5 683.2,685.1 677.1,686.1" fill="#c9e367"/>
<polygon points="656.1,614.2 662.7,613.9 663.1,622.1 656.5,622.5" fill="#c9e367"/>
<polygon points="683.8,712.3 689.8,711.1 690.1,718.6 684.1,719.8" fill="#c9e367"/>
<polygon points="673.0,721.4 679.2,720.1 679.5,727.7 673.4,729.0" fill="#c9e367"/>
<polygon points="652.3,659.5 658.9,658.8 659.3,666.9 652.7,667.7" fill="#c9e367"/>
<polygon points="640.3,668.4 647.2,667.6 647.6,675.8 640.8,676.7" fill="#c9e367"/>
<polygon points="662.1,613.9 680.2,613.2 680.5,621.1 662.5,622.2" fill="#f6ec45"/>
<polygon points="637.8,622.8 686.1,620.1 686.4,628.0 638.3,631.2" fill="#f6ec45"/>
<polygon points="631.8,630.9 686.4,627.3 686.7,635.1 632.3,639.4" fill="#f6ec45"/>
<polygon points="632.2,638.6 645.6,637.6 646.0,645.9 632.7,647.1" fill="#f6ec45"/>
<polygon points="669.1,635.8 686.6,634.4 687.0,642.3 669.4,643.8" fill="#f6ec45"/>
<polygon points="663.6,643.6 681.4,642.0 681.7,649.9 663.9,651.7" fill="#f6ec45"/>
<polygon points="658.0,651.5 681.7,649.2 682.0,657.0 658.4,659.6" fill="#f6ec45"/>
<polygon points="658.3,658.9 676.4,656.9 676.7,664.8 658.7,666.9" fill="#f6ec45"/>
<polygon points="646.6,667.7 693.2,662.1 693.5,669.7 647.0,675.8" fill="#f6ec45"/>
<polygon points="640.7,675.9 698.8,668.3 699.1,675.8 641.2,684.1" fill="#f6ec45"/>
<polygon points="641.1,683.4 660.0,680.7 660.4,688.7 641.6,691.6" fill="#f6ec45"/>
<polygon points="682.3,677.5 704.3,674.4 704.6,681.9 682.7,685.2" fill="#f6ec45"/>
<polygon points="688.1,683.7 704.5,681.2 704.8,688.6 688.4,691.3" fill="#f6ec45"/>
<polygon points="688.4,690.6 704.8,687.9 705.0,695.3 688.7,698.2" fill="#f6ec45"/>
<polygon points="688.7,697.5 705.0,694.7 705.3,702.0 689.0,705.0" fill="#f6ec45"/>
<polygon points="689.0,704.4 705.3,701.4 705.5,708.7 689.3,711.9" fill="#f6ec45"/>
<polygon points="689.2,711.2 705.5,708.0 705.8,715.3 689.6,718.7" fill="#f6ec45"/>
<polygon points="637.4,728.7 644.2,727.3 644.6,735.3 637.8,736.8" fill="#f6ec45"/>
<polygon points="678.6,720.2 700.6,715.7 700.9,723.0 679.0,727.8" fill="#f6ec45"/>
<polygon points="637.8,736.0 644.6,734.6 645.0,742.5 638.2,744.0" fill="#f6ec45"/>
<polygon points="673.3,728.3 695.6,723.5 695.9,730.9 673.7,735.9" fill="#f6ec45"/>
<polygon points="638.2,743.3 645.0,741.8 645.4,749.6 638.7,751.2" fill="#f6ec45"/>
<polygon points="668.0,736.5 690.6,731.4 690.9,738.8 668.4,744.2" fill="#f6ec45"/>
<polygon points="638.6,750.5 685.5,739.4 685.9,746.8 639.1,758.4" fill="#f6ec45"/>
<polygon points="639.0,757.7 669.2,750.2 669.6,757.8 639.5,765.6" fill="#f6ec45"/>
</g>
<g font-family="'Liberation Sans', Arial, sans-serif" font-size="7.6" fill="#8c8c8c" text-anchor="middle">
<text transform="translate(555.6,581.2) rotate(3) translate(0 0) scale(1 1.04)" >0</text>
<text transform="translate(557.8,625.2) rotate(3) translate(0 0) scale(1 1.04)" >5</text>
<text transform="translate(558.5,667.7) rotate(3) translate(0 0) scale(1 1.04)" >10</text>
<text transform="translate(560.8,709.7) rotate(3) translate(0 0) scale(1 1.04)" >15</text>
<text transform="translate(564.5,749.7) rotate(3) translate(0 0) scale(1 1.04)" >20</text>
<text transform="translate(568.2,790.2) rotate(3) translate(0 0) scale(1 1.04)" >25</text>
<text transform="translate(585,813.5) rotate(-22) translate(0 0) scale(1 1.04)" >0</text>
<text transform="translate(618,804.0) rotate(-22) translate(0 0) scale(1 1.04)" >5</text>
<text transform="translate(650,794.0) rotate(-22) translate(0 0) scale(1 1.04)" >10</text>
<text transform="translate(678.5,786.0) rotate(-22) translate(0 0) scale(1 1.04)" >15</text>
<text transform="translate(704.5,779.0) rotate(-22) translate(0 0) scale(1 1.04)" >20</text>
<text transform="translate(729.5,772.0) rotate(-22) translate(0 0) scale(1 1.04)" >25</text>
</g>
<rect x="767.2" y="590.3" width="20.4" height="20.8" fill="#4a34c6"/>
<rect x="767.2" y="628.1" width="20.4" height="20.8" fill="#4f70f8"/>
<rect x="767.2" y="715.9" width="20.4" height="20.8" fill="#fdf726"/>
<rect x="767.2" y="753.9" width="20.4" height="20.8" fill="#4a34c6"/>
<line x1="742.0" y1="604.4" x2="767.2" y2="601.2" stroke="#f6a866" stroke-width="5" opacity="0.6" filter="url(#glow)"/>
<line x1="607.5" y1="621.3" x2="761.2" y2="601.9" stroke="#3a0d2c" stroke-width="1.8"/><polygon points="767.2,601.2 761.7,605.2 760.8,598.7" fill="#3a0d2c"/>
<rect x="602.9" y="616.5" width="9.2" height="9.6" fill="#90154a"/>
<line x1="742.0" y1="640.4" x2="767.2" y2="638.2" stroke="#f6a866" stroke-width="5" opacity="0.6" filter="url(#glow)"/>
<line x1="646.8" y1="648.8" x2="761.2" y2="638.7" stroke="#3a0d2c" stroke-width="1.8"/><polygon points="767.2,638.2 761.5,642.0 760.9,635.4" fill="#3a0d2c"/>
<rect x="642.2" y="644.0" width="9.2" height="9.6" fill="#90154a"/>
<line x1="742.0" y1="715.4" x2="767.2" y2="726.2" stroke="#f6a866" stroke-width="5" opacity="0.6" filter="url(#glow)"/>
<line x1="682.6" y1="690.0" x2="761.7" y2="723.8" stroke="#3a0d2c" stroke-width="1.8"/><polygon points="767.2,726.2 760.4,726.9 763.0,720.8" fill="#3a0d2c"/>
<rect x="678.0" y="685.2" width="9.2" height="9.6" fill="#90154a"/>
<line x1="742.0" y1="749.5" x2="767.2" y2="763.6" stroke="#f6a866" stroke-width="5" opacity="0.6" filter="url(#glow)"/>
<line x1="719.6" y1="737.0" x2="762.0" y2="760.7" stroke="#3a0d2c" stroke-width="1.8"/><polygon points="767.2,763.6 760.4,763.6 763.6,757.8" fill="#3a0d2c"/>
<rect x="715.0" y="732.2" width="9.2" height="9.6" fill="#90154a"/>
<line x1="802.3" y1="597.8" x2="819.0" y2="597.8" stroke="#f6a866" stroke-width="5.5" opacity="0.55" filter="url(#glow)"/><line x1="802.3" y1="597.8" x2="813.0" y2="597.8" stroke="#220800" stroke-width="2.5"/><polygon points="819.0,597.8 813.0,601.1 813.0,594.5" fill="#220800"/>
<line x1="802.3" y1="638.3" x2="819.0" y2="638.3" stroke="#f6a866" stroke-width="5.5" opacity="0.55" filter="url(#glow)"/><line x1="802.3" y1="638.3" x2="813.0" y2="638.3" stroke="#220800" stroke-width="2.5"/><polygon points="819.0,638.3 813.0,641.6 813.0,635.0" fill="#220800"/>
<line x1="802.3" y1="726.5" x2="819.0" y2="726.5" stroke="#f6a866" stroke-width="5.5" opacity="0.55" filter="url(#glow)"/><line x1="802.3" y1="726.5" x2="813.0" y2="726.5" stroke="#220800" stroke-width="2.5"/><polygon points="819.0,726.5 813.0,729.8 813.0,723.2" fill="#220800"/>
<line x1="802.3" y1="765.6" x2="819.0" y2="765.6" stroke="#f6a866" stroke-width="5.5" opacity="0.55" filter="url(#glow)"/><line x1="802.3" y1="765.6" x2="813.0" y2="765.6" stroke="#220800" stroke-width="2.5"/><polygon points="819.0,765.6 813.0,768.9 813.0,762.3" fill="#220800"/>
<line x1="856.5" y1="601.0" x2="909.5" y2="627.3" stroke="#f7a560" stroke-width="5.2" opacity="0.55" filter="url(#glow)"/>
<line x1="856.5" y1="601.0" x2="909.5" y2="665.0" stroke="#f7a560" stroke-width="5.2" opacity="0.55" filter="url(#glow)"/>
<line x1="856.5" y1="601.0" x2="909.5" y2="749.2" stroke="#f7a560" stroke-width="5.2" opacity="0.55" filter="url(#glow)"/>
<line x1="856.5" y1="638.8" x2="909.5" y2="627.3" stroke="#f7a560" stroke-width="5.2" opacity="0.55" filter="url(#glow)"/>
<line x1="856.5" y1="638.8" x2="909.5" y2="665.0" stroke="#f7a560" stroke-width="5.2" opacity="0.55" filter="url(#glow)"/>
<line x1="856.5" y1="638.8" x2="909.5" y2="749.2" stroke="#f7a560" stroke-width="5.2" opacity="0.55" filter="url(#glow)"/>
<line x1="856.5" y1="726.9" x2="909.5" y2="627.3" stroke="#f7a560" stroke-width="5.2" opacity="0.55" filter="url(#glow)"/>
<line x1="856.5" y1="726.9" x2="909.5" y2="665.0" stroke="#f7a560" stroke-width="5.2" opacity="0.55" filter="url(#glow)"/>
<line x1="856.5" y1="726.9" x2="909.5" y2="749.2" stroke="#f7a560" stroke-width="5.2" opacity="0.55" filter="url(#glow)"/>
<line x1="856.5" y1="768.0" x2="909.5" y2="627.3" stroke="#f7a560" stroke-width="5.2" opacity="0.55" filter="url(#glow)"/>
<line x1="856.5" y1="768.0" x2="909.5" y2="665.0" stroke="#f7a560" stroke-width="5.2" opacity="0.55" filter="url(#glow)"/>
<line x1="856.5" y1="768.0" x2="909.5" y2="749.2" stroke="#f7a560" stroke-width="5.2" opacity="0.55" filter="url(#glow)"/>
<line x1="856.5" y1="601.0" x2="909.5" y2="627.3" stroke="#622806" stroke-width="1.75"/>
<line x1="856.5" y1="601.0" x2="909.5" y2="665.0" stroke="#622806" stroke-width="1.75"/>
<line x1="856.5" y1="601.0" x2="909.5" y2="749.2" stroke="#622806" stroke-width="1.75"/>
<line x1="856.5" y1="638.8" x2="909.5" y2="627.3" stroke="#622806" stroke-width="1.75"/>
<line x1="856.5" y1="638.8" x2="909.5" y2="665.0" stroke="#622806" stroke-width="1.75"/>
<line x1="856.5" y1="638.8" x2="909.5" y2="749.2" stroke="#622806" stroke-width="1.75"/>
<line x1="856.5" y1="726.9" x2="909.5" y2="627.3" stroke="#622806" stroke-width="1.75"/>
<line x1="856.5" y1="726.9" x2="909.5" y2="665.0" stroke="#622806" stroke-width="1.75"/>
<line x1="856.5" y1="726.9" x2="909.5" y2="749.2" stroke="#622806" stroke-width="1.75"/>
<line x1="856.5" y1="768.0" x2="909.5" y2="627.3" stroke="#622806" stroke-width="1.75"/>
<line x1="856.5" y1="768.0" x2="909.5" y2="665.0" stroke="#622806" stroke-width="1.75"/>
<line x1="856.5" y1="768.0" x2="909.5" y2="749.2" stroke="#622806" stroke-width="1.75"/>
<line x1="1020.3" y1="627.3" x2="1078.3" y2="627.3" stroke="#f7a560" stroke-width="5.2" opacity="0.55" filter="url(#glow)"/>
<line x1="1020.3" y1="627.3" x2="1078.3" y2="665.0" stroke="#f7a560" stroke-width="5.2" opacity="0.55" filter="url(#glow)"/>
<line x1="1020.3" y1="627.3" x2="1078.3" y2="749.2" stroke="#f7a560" stroke-width="5.2" opacity="0.55" filter="url(#glow)"/>
<line x1="1020.3" y1="665.0" x2="1078.3" y2="627.3" stroke="#f7a560" stroke-width="5.2" opacity="0.55" filter="url(#glow)"/>
<line x1="1020.3" y1="665.0" x2="1078.3" y2="665.0" stroke="#f7a560" stroke-width="5.2" opacity="0.55" filter="url(#glow)"/>
<line x1="1020.3" y1="665.0" x2="1078.3" y2="749.2" stroke="#f7a560" stroke-width="5.2" opacity="0.55" filter="url(#glow)"/>
<line x1="1020.3" y1="749.2" x2="1078.3" y2="627.3" stroke="#f7a560" stroke-width="5.2" opacity="0.55" filter="url(#glow)"/>
<line x1="1020.3" y1="749.2" x2="1078.3" y2="665.0" stroke="#f7a560" stroke-width="5.2" opacity="0.55" filter="url(#glow)"/>
<line x1="1020.3" y1="749.2" x2="1078.3" y2="749.2" stroke="#f7a560" stroke-width="5.2" opacity="0.55" filter="url(#glow)"/>
<line x1="1020.3" y1="627.3" x2="1078.3" y2="627.3" stroke="#622806" stroke-width="1.75"/>
<line x1="1020.3" y1="627.3" x2="1078.3" y2="665.0" stroke="#622806" stroke-width="1.75"/>
<line x1="1020.3" y1="627.3" x2="1078.3" y2="749.2" stroke="#622806" stroke-width="1.75"/>
<line x1="1020.3" y1="665.0" x2="1078.3" y2="627.3" stroke="#622806" stroke-width="1.75"/>
<line x1="1020.3" y1="665.0" x2="1078.3" y2="665.0" stroke="#622806" stroke-width="1.75"/>
<line x1="1020.3" y1="665.0" x2="1078.3" y2="749.2" stroke="#622806" stroke-width="1.75"/>
<line x1="1020.3" y1="749.2" x2="1078.3" y2="627.3" stroke="#622806" stroke-width="1.75"/>
<line x1="1020.3" y1="749.2" x2="1078.3" y2="665.0" stroke="#622806" stroke-width="1.75"/>
<line x1="1020.3" y1="749.2" x2="1078.3" y2="749.2" stroke="#622806" stroke-width="1.75"/>
<circle cx="844.8" cy="601.0" r="13.6" fill="none" stroke="#f6a866" stroke-width="2.6" opacity="0.6" filter="url(#glow)"/><circle cx="844.8" cy="601.0" r="12.200000000000001" fill="#fffdfa" stroke="#4f2208" stroke-width="1.8"/>
<circle cx="844.8" cy="638.8" r="13.6" fill="none" stroke="#f6a866" stroke-width="2.6" opacity="0.6" filter="url(#glow)"/><circle cx="844.8" cy="638.8" r="12.200000000000001" fill="#fffdfa" stroke="#4f2208" stroke-width="1.8"/>
<circle cx="844.8" cy="726.9" r="13.6" fill="none" stroke="#f6a866" stroke-width="2.6" opacity="0.6" filter="url(#glow)"/><circle cx="844.8" cy="726.9" r="12.200000000000001" fill="#fffdfa" stroke="#4f2208" stroke-width="1.8"/>
<circle cx="844.8" cy="768.0" r="13.6" fill="none" stroke="#f6a866" stroke-width="2.6" opacity="0.6" filter="url(#glow)"/><circle cx="844.8" cy="768.0" r="12.200000000000001" fill="#fffdfa" stroke="#4f2208" stroke-width="1.8"/>
<circle cx="844.6" cy="675" r="2.6" fill="#f6a866" opacity="0.5" filter="url(#glow)"/><rect x="843.1" y="673.5" width="3" height="3" rx="0.8" fill="#2a1000"/><circle cx="844.6" cy="681.3" r="2.6" fill="#f6a866" opacity="0.5" filter="url(#glow)"/><rect x="843.1" y="679.8" width="3" height="3" rx="0.8" fill="#2a1000"/><circle cx="844.6" cy="687.6" r="2.6" fill="#f6a866" opacity="0.5" filter="url(#glow)"/><rect x="843.1" y="686.1" width="3" height="3" rx="0.8" fill="#2a1000"/>
<line x1="935.0" y1="627.3" x2="951.6" y2="627.3" stroke="#f6a866" stroke-width="5.4" opacity="0.55" filter="url(#glow)"/><line x1="935.0" y1="627.3" x2="945.8" y2="627.3" stroke="#220800" stroke-width="2.4"/><polygon points="951.6,627.3 945.8,630.5 945.8,624.1" fill="#220800"/>
<line x1="978.3" y1="627.3" x2="994.6" y2="627.3" stroke="#f6a866" stroke-width="5.4" opacity="0.55" filter="url(#glow)"/><line x1="978.3" y1="627.3" x2="988.8" y2="627.3" stroke="#220800" stroke-width="2.4"/><polygon points="994.6,627.3 988.8,630.5 988.8,624.1" fill="#220800"/>
<rect x="908.5" y="613.8" width="26.6" height="27.1" fill="none" stroke="#f6a866" stroke-width="2.4" opacity="0.6" filter="url(#glow)"/><rect x="909.3" y="614.5" width="25" height="25.5" fill="#fffdfa" stroke="#3f1a05" stroke-width="1.8"/><text transform="translate(921.8 635.9) scale(1.2 1)" font-family="'Liberation Sans', Arial, sans-serif" font-size="24.5" text-anchor="middle" fill="#0c0c0c" stroke="#0c0c0c" stroke-width="0.12">Σ</text>
<rect x="952.4000000000001" y="613.8" width="26.1" height="27.1" fill="none" stroke="#f6a866" stroke-width="2.4" opacity="0.6" filter="url(#glow)"/><rect x="953.2" y="614.5" width="24.5" height="25.5" fill="#fffdfa" stroke="#3f1a05" stroke-width="1.8"/><text transform="translate(965.8 636.7) scale(1.18 1)" font-family="'Liberation Sans', Arial, sans-serif" font-size="26" text-anchor="middle" fill="#0c0c0c" stroke="#0c0c0c" stroke-width="0.12">f</text>
<circle cx="1008.3" cy="627.3" r="13.299999999999999" fill="none" stroke="#f6a866" stroke-width="2.6" opacity="0.6" filter="url(#glow)"/><circle cx="1008.3" cy="627.3" r="11.9" fill="#fffdfa" stroke="#4f2208" stroke-width="1.8"/>
<line x1="1103.3" y1="627.3" x2="1118.6" y2="627.3" stroke="#f6a866" stroke-width="5.4" opacity="0.55" filter="url(#glow)"/><line x1="1103.3" y1="627.3" x2="1112.8" y2="627.3" stroke="#220800" stroke-width="2.4"/><polygon points="1118.6,627.3 1112.8,630.5 1112.8,624.1" fill="#220800"/>
<line x1="1145.8" y1="627.3" x2="1162.6" y2="627.3" stroke="#f6a866" stroke-width="5.4" opacity="0.55" filter="url(#glow)"/><line x1="1145.8" y1="627.3" x2="1156.8" y2="627.3" stroke="#220800" stroke-width="2.4"/><polygon points="1162.6,627.3 1156.8,630.5 1156.8,624.1" fill="#220800"/>
<line x1="1189.0" y1="627.3" x2="1205.4" y2="627.3" stroke="#f6a866" stroke-width="5.4" opacity="0.55" filter="url(#glow)"/><line x1="1189.0" y1="627.3" x2="1199.6" y2="627.3" stroke="#220800" stroke-width="2.4"/><polygon points="1205.4,627.3 1199.6,630.5 1199.6,624.1" fill="#220800"/>
<rect x="1077.4" y="613.8" width="26.1" height="27.1" fill="none" stroke="#f6a866" stroke-width="2.4" opacity="0.6" filter="url(#glow)"/><rect x="1078.2" y="614.5" width="24.5" height="25.5" fill="#fffdfa" stroke="#3f1a05" stroke-width="1.8"/><text transform="translate(1090.5 635.9) scale(1.2 1)" font-family="'Liberation Sans', Arial, sans-serif" font-size="24.5" text-anchor="middle" fill="#0c0c0c" stroke="#0c0c0c" stroke-width="0.12">Σ</text>
<rect x="1119.5" y="613.8" width="26.400000000000002" height="27.1" fill="none" stroke="#f6a866" stroke-width="2.4" opacity="0.6" filter="url(#glow)"/><rect x="1120.3" y="614.5" width="24.8" height="25.5" fill="#fffdfa" stroke="#3f1a05" stroke-width="1.8"/><text transform="translate(1133.0 636.7) scale(1.18 1)" font-family="'Liberation Sans', Arial, sans-serif" font-size="26" text-anchor="middle" fill="#0c0c0c" stroke="#0c0c0c" stroke-width="0.12">f</text>
<circle cx="1176.3" cy="627.3" r="13.299999999999999" fill="none" stroke="#f6a866" stroke-width="2.6" opacity="0.6" filter="url(#glow)"/><circle cx="1176.3" cy="627.3" r="11.9" fill="#fffdfa" stroke="#4f2208" stroke-width="1.8"/>
<circle cx="1219.3" cy="627.8" r="13.6" fill="none" stroke="#f6a866" stroke-width="2.6" opacity="0.6" filter="url(#glow)"/><circle cx="1219.3" cy="627.8" r="12.200000000000001" fill="#fffdfa" stroke="#4f2208" stroke-width="1.8"/>
<line x1="935.0" y1="665.0" x2="951.6" y2="665.0" stroke="#f6a866" stroke-width="5.4" opacity="0.55" filter="url(#glow)"/><line x1="935.0" y1="665.0" x2="945.8" y2="665.0" stroke="#220800" stroke-width="2.4"/><polygon points="951.6,665.0 945.8,668.2 945.8,661.8" fill="#220800"/>
<line x1="978.3" y1="665.0" x2="994.6" y2="665.0" stroke="#f6a866" stroke-width="5.4" opacity="0.55" filter="url(#glow)"/><line x1="978.3" y1="665.0" x2="988.8" y2="665.0" stroke="#220800" stroke-width="2.4"/><polygon points="994.6,665.0 988.8,668.2 988.8,661.8" fill="#220800"/>
<rect x="908.5" y="651.5" width="26.6" height="27.1" fill="none" stroke="#f6a866" stroke-width="2.4" opacity="0.6" filter="url(#glow)"/><rect x="909.3" y="652.2" width="25" height="25.5" fill="#fffdfa" stroke="#3f1a05" stroke-width="1.8"/><text transform="translate(921.8 673.6) scale(1.2 1)" font-family="'Liberation Sans', Arial, sans-serif" font-size="24.5" text-anchor="middle" fill="#0c0c0c" stroke="#0c0c0c" stroke-width="0.12">Σ</text>
<rect x="952.4000000000001" y="651.5" width="26.1" height="27.1" fill="none" stroke="#f6a866" stroke-width="2.4" opacity="0.6" filter="url(#glow)"/><rect x="953.2" y="652.2" width="24.5" height="25.5" fill="#fffdfa" stroke="#3f1a05" stroke-width="1.8"/><text transform="translate(965.8 674.4) scale(1.18 1)" font-family="'Liberation Sans', Arial, sans-serif" font-size="26" text-anchor="middle" fill="#0c0c0c" stroke="#0c0c0c" stroke-width="0.12">f</text>
<circle cx="1008.3" cy="665.0" r="13.299999999999999" fill="none" stroke="#f6a866" stroke-width="2.6" opacity="0.6" filter="url(#glow)"/><circle cx="1008.3" cy="665.0" r="11.9" fill="#fffdfa" stroke="#4f2208" stroke-width="1.8"/>
<line x1="1103.3" y1="665.0" x2="1118.6" y2="665.0" stroke="#f6a866" stroke-width="5.4" opacity="0.55" filter="url(#glow)"/><line x1="1103.3" y1="665.0" x2="1112.8" y2="665.0" stroke="#220800" stroke-width="2.4"/><polygon points="1118.6,665.0 1112.8,668.2 1112.8,661.8" fill="#220800"/>
<line x1="1145.8" y1="665.0" x2="1162.6" y2="665.0" stroke="#f6a866" stroke-width="5.4" opacity="0.55" filter="url(#glow)"/><line x1="1145.8" y1="665.0" x2="1156.8" y2="665.0" stroke="#220800" stroke-width="2.4"/><polygon points="1162.6,665.0 1156.8,668.2 1156.8,661.8" fill="#220800"/>
<line x1="1189.0" y1="665.0" x2="1205.4" y2="665.0" stroke="#f6a866" stroke-width="5.4" opacity="0.55" filter="url(#glow)"/><line x1="1189.0" y1="665.0" x2="1199.6" y2="665.0" stroke="#220800" stroke-width="2.4"/><polygon points="1205.4,665.0 1199.6,668.2 1199.6,661.8" fill="#220800"/>
<rect x="1077.4" y="651.5" width="26.1" height="27.1" fill="none" stroke="#f6a866" stroke-width="2.4" opacity="0.6" filter="url(#glow)"/><rect x="1078.2" y="652.2" width="24.5" height="25.5" fill="#fffdfa" stroke="#3f1a05" stroke-width="1.8"/><text transform="translate(1090.5 673.6) scale(1.2 1)" font-family="'Liberation Sans', Arial, sans-serif" font-size="24.5" text-anchor="middle" fill="#0c0c0c" stroke="#0c0c0c" stroke-width="0.12">Σ</text>
<rect x="1119.5" y="651.5" width="26.400000000000002" height="27.1" fill="none" stroke="#f6a866" stroke-width="2.4" opacity="0.6" filter="url(#glow)"/><rect x="1120.3" y="652.2" width="24.8" height="25.5" fill="#fffdfa" stroke="#3f1a05" stroke-width="1.8"/><text transform="translate(1133.0 674.4) scale(1.18 1)" font-family="'Liberation Sans', Arial, sans-serif" font-size="26" text-anchor="middle" fill="#0c0c0c" stroke="#0c0c0c" stroke-width="0.12">f</text>
<circle cx="1176.3" cy="665.0" r="13.299999999999999" fill="none" stroke="#f6a866" stroke-width="2.6" opacity="0.6" filter="url(#glow)"/><circle cx="1176.3" cy="665.0" r="11.9" fill="#fffdfa" stroke="#4f2208" stroke-width="1.8"/>
<circle cx="1219.3" cy="665.5" r="13.6" fill="none" stroke="#f6a866" stroke-width="2.6" opacity="0.6" filter="url(#glow)"/><circle cx="1219.3" cy="665.5" r="12.200000000000001" fill="#fffdfa" stroke="#4f2208" stroke-width="1.8"/>
<line x1="935.0" y1="749.2" x2="951.6" y2="749.2" stroke="#f6a866" stroke-width="5.4" opacity="0.55" filter="url(#glow)"/><line x1="935.0" y1="749.2" x2="945.8" y2="749.2" stroke="#220800" stroke-width="2.4"/><polygon points="951.6,749.2 945.8,752.4 945.8,746.0" fill="#220800"/>
<line x1="978.3" y1="749.2" x2="994.6" y2="749.2" stroke="#f6a866" stroke-width="5.4" opacity="0.55" filter="url(#glow)"/><line x1="978.3" y1="749.2" x2="988.8" y2="749.2" stroke="#220800" stroke-width="2.4"/><polygon points="994.6,749.2 988.8,752.4 988.8,746.0" fill="#220800"/>
<rect x="908.5" y="735.7" width="26.6" height="27.1" fill="none" stroke="#f6a866" stroke-width="2.4" opacity="0.6" filter="url(#glow)"/><rect x="909.3" y="736.5" width="25" height="25.5" fill="#fffdfa" stroke="#3f1a05" stroke-width="1.8"/><text transform="translate(921.8 757.8) scale(1.2 1)" font-family="'Liberation Sans', Arial, sans-serif" font-size="24.5" text-anchor="middle" fill="#0c0c0c" stroke="#0c0c0c" stroke-width="0.12">Σ</text>
<rect x="952.4000000000001" y="735.7" width="26.1" height="27.1" fill="none" stroke="#f6a866" stroke-width="2.4" opacity="0.6" filter="url(#glow)"/><rect x="953.2" y="736.5" width="24.5" height="25.5" fill="#fffdfa" stroke="#3f1a05" stroke-width="1.8"/><text transform="translate(965.8 758.6) scale(1.18 1)" font-family="'Liberation Sans', Arial, sans-serif" font-size="26" text-anchor="middle" fill="#0c0c0c" stroke="#0c0c0c" stroke-width="0.12">f</text>
<circle cx="1008.3" cy="749.2" r="13.299999999999999" fill="none" stroke="#f6a866" stroke-width="2.6" opacity="0.6" filter="url(#glow)"/><circle cx="1008.3" cy="749.2" r="11.9" fill="#fffdfa" stroke="#4f2208" stroke-width="1.8"/>
<line x1="1103.3" y1="749.2" x2="1118.6" y2="749.2" stroke="#f6a866" stroke-width="5.4" opacity="0.55" filter="url(#glow)"/><line x1="1103.3" y1="749.2" x2="1112.8" y2="749.2" stroke="#220800" stroke-width="2.4"/><polygon points="1118.6,749.2 1112.8,752.4 1112.8,746.0" fill="#220800"/>
<line x1="1145.8" y1="749.2" x2="1162.6" y2="749.2" stroke="#f6a866" stroke-width="5.4" opacity="0.55" filter="url(#glow)"/><line x1="1145.8" y1="749.2" x2="1156.8" y2="749.2" stroke="#220800" stroke-width="2.4"/><polygon points="1162.6,749.2 1156.8,752.4 1156.8,746.0" fill="#220800"/>
<line x1="1189.0" y1="749.2" x2="1205.4" y2="749.2" stroke="#f6a866" stroke-width="5.4" opacity="0.55" filter="url(#glow)"/><line x1="1189.0" y1="749.2" x2="1199.6" y2="749.2" stroke="#220800" stroke-width="2.4"/><polygon points="1205.4,749.2 1199.6,752.4 1199.6,746.0" fill="#220800"/>
<rect x="1077.4" y="735.7" width="26.1" height="27.1" fill="none" stroke="#f6a866" stroke-width="2.4" opacity="0.6" filter="url(#glow)"/><rect x="1078.2" y="736.5" width="24.5" height="25.5" fill="#fffdfa" stroke="#3f1a05" stroke-width="1.8"/><text transform="translate(1090.5 757.8) scale(1.2 1)" font-family="'Liberation Sans', Arial, sans-serif" font-size="24.5" text-anchor="middle" fill="#0c0c0c" stroke="#0c0c0c" stroke-width="0.12">Σ</text>
<rect x="1119.5" y="735.7" width="26.400000000000002" height="27.1" fill="none" stroke="#f6a866" stroke-width="2.4" opacity="0.6" filter="url(#glow)"/><rect x="1120.3" y="736.5" width="24.8" height="25.5" fill="#fffdfa" stroke="#3f1a05" stroke-width="1.8"/><text transform="translate(1133.0 758.6) scale(1.18 1)" font-family="'Liberation Sans', Arial, sans-serif" font-size="26" text-anchor="middle" fill="#0c0c0c" stroke="#0c0c0c" stroke-width="0.12">f</text>
<circle cx="1176.3" cy="749.2" r="13.299999999999999" fill="none" stroke="#f6a866" stroke-width="2.6" opacity="0.6" filter="url(#glow)"/><circle cx="1176.3" cy="749.2" r="11.9" fill="#fffdfa" stroke="#4f2208" stroke-width="1.8"/>
<circle cx="1219.3" cy="749.7" r="13.6" fill="none" stroke="#f6a866" stroke-width="2.6" opacity="0.6" filter="url(#glow)"/><circle cx="1219.3" cy="749.7" r="12.200000000000001" fill="#fffdfa" stroke="#4f2208" stroke-width="1.8"/>
<text transform="translate(1219.5 634.9) scale(1 1.04)" font-family="'Liberation Sans', Arial, sans-serif" font-size="20.5" text-anchor="middle" fill="#111" stroke="#111" stroke-width="0.2">0</text>
<text transform="translate(1219.5 672.6) scale(1 1.04)" font-family="'Liberation Sans', Arial, sans-serif" font-size="20.5" text-anchor="middle" fill="#111" stroke="#111" stroke-width="0.2">1</text>
<text transform="translate(1219.5 756.8) scale(1 1.04)" font-family="'Liberation Sans', Arial, sans-serif" font-size="20.5" text-anchor="middle" fill="#111" stroke="#111" stroke-width="0.2">9</text>
<circle cx="1008.3" cy="698.8" r="2.6" fill="#f6a866" opacity="0.5" filter="url(#glow)"/><rect x="1006.8" y="697.3" width="3" height="3" rx="0.8" fill="#2a1000"/><circle cx="1008.3" cy="705.6" r="2.6" fill="#f6a866" opacity="0.5" filter="url(#glow)"/><rect x="1006.8" y="704.1" width="3" height="3" rx="0.8" fill="#2a1000"/><circle cx="1008.3" cy="712.5" r="2.6" fill="#f6a866" opacity="0.5" filter="url(#glow)"/><rect x="1006.8" y="711.0" width="3" height="3" rx="0.8" fill="#2a1000"/>
<circle cx="1176.3" cy="698.8" r="2.6" fill="#f6a866" opacity="0.5" filter="url(#glow)"/><rect x="1174.8" y="697.3" width="3" height="3" rx="0.8" fill="#2a1000"/><circle cx="1176.3" cy="705.6" r="2.6" fill="#f6a866" opacity="0.5" filter="url(#glow)"/><rect x="1174.8" y="704.1" width="3" height="3" rx="0.8" fill="#2a1000"/><circle cx="1176.3" cy="712.5" r="2.6" fill="#f6a866" opacity="0.5" filter="url(#glow)"/><rect x="1174.8" y="711.0" width="3" height="3" rx="0.8" fill="#2a1000"/>
<circle cx="1219.3" cy="699.5" r="2.6" fill="#f6a866" opacity="0.5" filter="url(#glow)"/><rect x="1217.8" y="698.0" width="3" height="3" rx="0.8" fill="#2a1000"/><circle cx="1219.3" cy="706.3" r="2.6" fill="#f6a866" opacity="0.5" filter="url(#glow)"/><rect x="1217.8" y="704.8" width="3" height="3" rx="0.8" fill="#2a1000"/><circle cx="1219.3" cy="713.2" r="2.6" fill="#f6a866" opacity="0.5" filter="url(#glow)"/><rect x="1217.8" y="711.7" width="3" height="3" rx="0.8" fill="#2a1000"/>
<g font-family="'Liberation Sans', Arial, sans-serif" font-weight="bold" fill="#0a0a0a" stroke="#0a0a0a" stroke-width="0.4" stroke-linejoin="round" font-size="15.6">
<text transform="translate(650.6 547.6) scale(1 1.025)" text-anchor="middle">Handwritten Digit Image</text>
<text transform="translate(650.3 566.4) scale(1 1.025)" text-anchor="middle">28*28=784 pixels</text>
<text transform="translate(810.6 547.6) scale(1 1.025)" text-anchor="middle">Input Layer</text>
<text transform="translate(967.5 548) scale(1 1.025)" text-anchor="middle" font-size="15.4">Hidden Layer</text>
<text transform="translate(1149.4 547.5) scale(1 1.025)" text-anchor="middle" font-size="15.4">Output Layer</text>
<text transform="translate(872 575.3) scale(1 1.025)" font-size="15.3">Synaptic</text>
<text transform="translate(872 594) scale(1 1.025)" font-size="15.3">Array 1</text>
<text transform="translate(1027 574) scale(1 1.025)" font-size="15.3">Synaptic</text>
<text transform="translate(1027 592.6) scale(1 1.025)" font-size="15.3">Array 2</text>
</g>
<text transform="translate(516.4 515.4) scale(1 1.04)" font-family="'Liberation Sans', Arial, sans-serif" font-weight="bold" font-size="31" fill="#000" stroke="#000" stroke-width="0.9" stroke-linejoin="round">C</text>
</g>
<g id="panel-d">
<defs><clipPath id="cd"><rect x="1348.0" y="513.9" width="394.5" height="313.5"/></clipPath></defs>
<g clip-path="url(#cd)">
<polyline points="1354.0,803.6 1363.7,566.3 1373.4,559.5 1383.0,557.7 1392.7,553.7 1402.4,553.2 1412.1,552.0 1421.8,551.2 1431.5,550.3 1441.1,550.0 1450.8,549.5 1460.5,549.2 1470.2,548.9 1479.9,548.6 1489.6,548.3 1499.2,548.0 1508.9,548.0 1518.6,547.8 1528.3,547.8 1538.0,547.5 1547.7,547.5 1557.3,547.2 1567.0,547.2 1576.7,546.9 1586.4,546.9 1596.1,546.9 1605.7,546.9 1615.4,546.6 1625.1,546.6 1634.8,546.6 1644.5,546.6 1654.2,546.3 1663.8,546.3 1673.5,546.3 1683.2,546.3 1692.9,546.3 1702.6,546.3 1712.3,546.0 1721.9,546.0 1731.6,546.0 1741.3,546.3" fill="none" stroke="#000" stroke-width="1.6"/>
<circle cx="1363.7" cy="566.3" r="5.85" fill="#000"/>
<circle cx="1373.4" cy="559.5" r="5.85" fill="#000"/>
<circle cx="1383.0" cy="557.7" r="5.85" fill="#000"/>
<circle cx="1392.7" cy="553.7" r="5.85" fill="#000"/>
<circle cx="1402.4" cy="553.2" r="5.85" fill="#000"/>
<circle cx="1412.1" cy="552.0" r="5.85" fill="#000"/>
<circle cx="1421.8" cy="551.2" r="5.85" fill="#000"/>
<circle cx="1431.5" cy="550.3" r="5.85" fill="#000"/>
<circle cx="1441.1" cy="550.0" r="5.85" fill="#000"/>
<circle cx="1450.8" cy="549.5" r="5.85" fill="#000"/>
<circle cx="1460.5" cy="549.2" r="5.85" fill="#000"/>
<circle cx="1470.2" cy="548.9" r="5.85" fill="#000"/>
<circle cx="1479.9" cy="548.6" r="5.85" fill="#000"/>
<circle cx="1489.6" cy="548.3" r="5.85" fill="#000"/>
<circle cx="1499.2" cy="548.0" r="5.85" fill="#000"/>
<circle cx="1508.9" cy="548.0" r="5.85" fill="#000"/>
<circle cx="1518.6" cy="547.8" r="5.85" fill="#000"/>
<circle cx="1528.3" cy="547.8" r="5.85" fill="#000"/>
<circle cx="1538.0" cy="547.5" r="5.85" fill="#000"/>
<circle cx="1547.7" cy="547.5" r="5.85" fill="#000"/>
<circle cx="1557.3" cy="547.2" r="5.85" fill="#000"/>
<circle cx="1567.0" cy="547.2" r="5.85" fill="#000"/>
<circle cx="1576.7" cy="546.9" r="5.85" fill="#000"/>
<circle cx="1586.4" cy="546.9" r="5.85" fill="#000"/>
<circle cx="1596.1" cy="546.9" r="5.85" fill="#000"/>
<circle cx="1605.7" cy="546.9" r="5.85" fill="#000"/>
<circle cx="1615.4" cy="546.6" r="5.85" fill="#000"/>
<circle cx="1625.1" cy="546.6" r="5.85" fill="#000"/>
<circle cx="1634.8" cy="546.6" r="5.85" fill="#000"/>
<circle cx="1644.5" cy="546.6" r="5.85" fill="#000"/>
<circle cx="1654.2" cy="546.3" r="5.85" fill="#000"/>
<circle cx="1663.8" cy="546.3" r="5.85" fill="#000"/>
<circle cx="1673.5" cy="546.3" r="5.85" fill="#000"/>
<circle cx="1683.2" cy="546.3" r="5.85" fill="#000"/>
<circle cx="1692.9" cy="546.3" r="5.85" fill="#000"/>
<circle cx="1702.6" cy="546.3" r="5.85" fill="#000"/>
<circle cx="1712.3" cy="546.0" r="5.85" fill="#000"/>
<circle cx="1721.9" cy="546.0" r="5.85" fill="#000"/>
<circle cx="1731.6" cy="546.0" r="5.85" fill="#000"/>
<circle cx="1741.3" cy="546.3" r="5.85" fill="#000"/>
<polyline points="1354.0,804.0 1363.7,577.2 1373.4,574.0 1383.0,572.3 1392.7,570.6 1402.4,576.3 1412.1,568.6 1421.8,569.0 1431.5,568.0 1441.1,569.5 1450.8,569.5 1460.5,571.3 1470.2,573.0 1479.9,572.0 1489.6,568.8 1499.2,570.0 1508.9,571.3 1518.6,571.3 1528.3,568.8 1538.0,572.0 1547.7,568.0 1557.3,567.0 1567.0,569.5 1576.7,565.5 1586.4,569.5 1596.1,568.8 1605.7,568.8 1615.4,567.5 1625.1,567.0 1634.8,568.0 1644.5,567.5 1654.2,568.0 1663.8,567.0 1673.5,567.5 1683.2,566.3 1692.9,562.5 1702.6,570.5 1712.3,562.0 1721.9,565.0 1731.6,562.5 1741.3,565.0" fill="none" stroke="#ee1111" stroke-width="1.7"/>
<circle cx="1354.0" cy="804.0" r="5.85" fill="#f80404"/>
<circle cx="1363.7" cy="577.2" r="5.85" fill="#f80404"/>
<circle cx="1373.4" cy="574.0" r="5.85" fill="#f80404"/>
<circle cx="1383.0" cy="572.3" r="5.85" fill="#f80404"/>
<circle cx="1392.7" cy="570.6" r="5.85" fill="#f80404"/>
<circle cx="1402.4" cy="576.3" r="5.85" fill="#f80404"/>
<circle cx="1412.1" cy="568.6" r="5.85" fill="#f80404"/>
<circle cx="1421.8" cy="569.0" r="5.85" fill="#f80404"/>
<circle cx="1431.5" cy="568.0" r="5.85" fill="#f80404"/>
<circle cx="1441.1" cy="569.5" r="5.85" fill="#f80404"/>
<circle cx="1450.8" cy="569.5" r="5.85" fill="#f80404"/>
<circle cx="1460.5" cy="571.3" r="5.85" fill="#f80404"/>
<circle cx="1470.2" cy="573.0" r="5.85" fill="#f80404"/>
<circle cx="1479.9" cy="572.0" r="5.85" fill="#f80404"/>
<circle cx="1489.6" cy="568.8" r="5.85" fill="#f80404"/>
<circle cx="1499.2" cy="570.0" r="5.85" fill="#f80404"/>
<circle cx="1508.9" cy="571.3" r="5.85" fill="#f80404"/>
<circle cx="1518.6" cy="571.3" r="5.85" fill="#f80404"/>
<circle cx="1528.3" cy="568.8" r="5.85" fill="#f80404"/>
<circle cx="1538.0" cy="572.0" r="5.85" fill="#f80404"/>
<circle cx="1547.7" cy="568.0" r="5.85" fill="#f80404"/>
<circle cx="1557.3" cy="567.0" r="5.85" fill="#f80404"/>
<circle cx="1567.0" cy="569.5" r="5.85" fill="#f80404"/>
<circle cx="1576.7" cy="565.5" r="5.85" fill="#f80404"/>
<circle cx="1586.4" cy="569.5" r="5.85" fill="#f80404"/>
<circle cx="1596.1" cy="568.8" r="5.85" fill="#f80404"/>
<circle cx="1605.7" cy="568.8" r="5.85" fill="#f80404"/>
<circle cx="1615.4" cy="567.5" r="5.85" fill="#f80404"/>
<circle cx="1625.1" cy="567.0" r="5.85" fill="#f80404"/>
<circle cx="1634.8" cy="568.0" r="5.85" fill="#f80404"/>
<circle cx="1644.5" cy="567.5" r="5.85" fill="#f80404"/>
<circle cx="1654.2" cy="568.0" r="5.85" fill="#f80404"/>
<circle cx="1663.8" cy="567.0" r="5.85" fill="#f80404"/>
<circle cx="1673.5" cy="567.5" r="5.85" fill="#f80404"/>
<circle cx="1683.2" cy="566.3" r="5.85" fill="#f80404"/>
<circle cx="1692.9" cy="562.5" r="5.85" fill="#f80404"/>
<circle cx="1702.6" cy="570.5" r="5.85" fill="#f80404"/>
<circle cx="1712.3" cy="562.0" r="5.85" fill="#f80404"/>
<circle cx="1721.9" cy="565.0" r="5.85" fill="#f80404"/>
<circle cx="1731.6" cy="562.5" r="5.85" fill="#f80404"/>
<circle cx="1741.3" cy="565.0" r="5.85" fill="#f80404"/>
</g>
<rect x="1354.0" y="513.9" width="387.29999999999995" height="312.5" fill="none" stroke="#000" stroke-width="3.2"/>
<g stroke="#000" stroke-width="2.8">
<line x1="1354.0" y1="826.4" x2="1347.5" y2="826.4"/>
<line x1="1354.0" y1="769.4" x2="1347.5" y2="769.4"/>
<line x1="1354.0" y1="712.3" x2="1347.5" y2="712.3"/>
<line x1="1354.0" y1="655.3" x2="1347.5" y2="655.3"/>
<line x1="1354.0" y1="598.2" x2="1347.5" y2="598.2"/>
<line x1="1354.0" y1="541.2" x2="1347.5" y2="541.2"/>
<line x1="1354.0" y1="797.9" x2="1350.0" y2="797.9" stroke-width="2.2"/>
<line x1="1354.0" y1="740.8" x2="1350.0" y2="740.8" stroke-width="2.2"/>
<line x1="1354.0" y1="683.8" x2="1350.0" y2="683.8" stroke-width="2.2"/>
<line x1="1354.0" y1="626.8" x2="1350.0" y2="626.8" stroke-width="2.2"/>
<line x1="1354.0" y1="569.7" x2="1350.0" y2="569.7" stroke-width="2.2"/>
<line x1="1354.0" y1="826.4" x2="1354.0" y2="833.4"/>
<line x1="1450.8" y1="826.4" x2="1450.8" y2="833.4"/>
<line x1="1547.7" y1="826.4" x2="1547.7" y2="833.4"/>
<line x1="1644.5" y1="826.4" x2="1644.5" y2="833.4"/>
<line x1="1741.3" y1="826.4" x2="1741.3" y2="833.4"/>
<line x1="1402.4" y1="826.4" x2="1402.4" y2="830.9" stroke-width="2.2"/>
<line x1="1499.2" y1="826.4" x2="1499.2" y2="830.9" stroke-width="2.2"/>
<line x1="1596.1" y1="826.4" x2="1596.1" y2="830.9" stroke-width="2.2"/>
<line x1="1692.9" y1="826.4" x2="1692.9" y2="830.9" stroke-width="2.2"/>
</g>
<g font-family="'Liberation Sans', Arial, sans-serif" font-weight="bold" fill="#000" stroke="#000" stroke-width="0.4" stroke-linejoin="round">
<text transform="translate(1343.8 834.5) scale(1 1.04)" font-size="22.7" text-anchor="end">0</text>
<text transform="translate(1343.8 777.5) scale(1 1.04)" font-size="22.7" text-anchor="end">20</text>
<text transform="translate(1343.8 720.4) scale(1 1.04)" font-size="22.7" text-anchor="end">40</text>
<text transform="translate(1343.8 663.4) scale(1 1.04)" font-size="22.7" text-anchor="end">60</text>
<text transform="translate(1343.8 606.3) scale(1 1.04)" font-size="22.7" text-anchor="end">80</text>
<text transform="translate(1343.8 549.3) scale(1 1.04)" font-size="22.7" text-anchor="end">100</text>
<text transform="translate(1354.0 855.6) scale(1 1.04)" font-size="22.7" text-anchor="middle">0</text>
<text transform="translate(1450.8 855.6) scale(1 1.04)" font-size="22.7" text-anchor="middle">10</text>
<text transform="translate(1547.7 855.6) scale(1 1.04)" font-size="22.7" text-anchor="middle">20</text>
<text transform="translate(1644.5 855.6) scale(1 1.04)" font-size="22.7" text-anchor="middle">30</text>
<text transform="translate(1741.3 855.6) scale(1 1.04)" font-size="22.7" text-anchor="middle">40</text>
<text transform="translate(1547.5 887.5) scale(1 1.025)" font-size="26.4" text-anchor="middle">Training Epoch</text>
<text transform="translate(1293.5,670.5) rotate(-90) translate(0 0) scale(1 1.025)" font-size="26.4" text-anchor="middle">Accuracy (%)</text>
<text transform="translate(1269.6 515) scale(1 1.04)" font-size="31" stroke="#000" stroke-width="0.9" stroke-linejoin="round">D</text>
<text transform="translate(1585 787) scale(1 1.025)" font-size="21.9">Ideal numeric</text>
<text transform="translate(1585 814.5) scale(1 1.025)" font-size="21.9">Exp.derived</text>
</g>
<line x1="1532.5" y1="779.5" x2="1579.5" y2="779.5" stroke="#3a3a3a" stroke-width="1.9"/>
<circle cx="1555.5" cy="779.5" r="6.1" fill="#000"/>
<line x1="1532.5" y1="807" x2="1579.5" y2="807" stroke="#ee1111" stroke-width="1.9"/>
<circle cx="1555.5" cy="807" r="6.1" fill="#f80404"/>
</g>
</svg>
</body>
</html>
